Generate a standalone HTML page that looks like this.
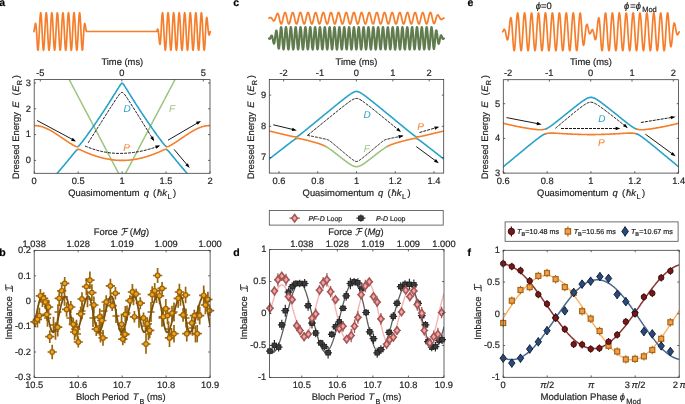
<!DOCTYPE html>
<html><head><meta charset="utf-8"><style>
html,body{margin:0;padding:0;background:#fff;overflow:hidden}
svg{display:block;will-change:transform}
text{font-family:"Liberation Sans",sans-serif;text-rendering:geometricPrecision}
</style></head><body>
<svg width="685" height="404" viewBox="0 0 685 404" font-family='"Liberation Sans", sans-serif'>
<rect width="685" height="404" fill="#fff"/>
<text x="-0.8" y="5.6" font-size="10.5" text-anchor="start" fill="#000" font-weight="bold"  stroke="#000" stroke-width="0.2">a</text>
<text x="233.2" y="5.6" font-size="10.5" text-anchor="start" fill="#000" font-weight="bold"  stroke="#000" stroke-width="0.2">c</text>
<text x="467.6" y="5.6" font-size="10.5" text-anchor="start" fill="#000" font-weight="bold"  stroke="#000" stroke-width="0.2">e</text>
<polyline points="33.8,31.5 34,31.1 34.3,30.1 34.5,28.6 34.8,26.9 35,25.2 35.3,23.9 35.5,23.3 35.8,23.7 36,25.1 36.3,27.6 36.5,31.1 36.8,35.3 37,39.9 37.3,44.5 37.5,48.3 37.8,50 38,50.2 38.3,49 38.5,46.4 38.8,42.5 39,37.9 39.3,32.7 39.5,27.4 39.8,22.4 40,18.2 40.3,15 40.5,13.2 40.8,12.7 41,13.8 41.3,16.3 41.5,20 41.8,24.6 42,29.7 42.3,35 42.5,40 42.8,44.4 43,47.7 43.3,49.7 43.5,50.3 43.8,49.4 44,47 44.3,43.5 44.5,39 44.8,33.8 45,28.5 45.3,23.5 45.5,19.1 45.8,15.6 46,13.4 46.3,12.7 46.5,13.5 46.8,15.6 47,19.1 47.3,23.5 47.5,28.6 47.8,33.9 48,39 48.3,43.5 48.5,47.1 48.8,49.4 49,50.3 49.3,49.7 49.5,47.7 49.8,44.4 50,40 50.3,35 50.5,29.7 50.8,24.6 51,20 51.3,16.3 51.5,13.8 51.8,12.7 52,13.2 52.3,15 52.5,18.2 52.8,22.5 53,27.4 53.3,32.7 53.5,37.9 53.8,42.6 54,46.4 54.3,49 54.5,50.2 54.8,50 55,48.2 55.3,45.2 55.5,41 55.8,36.2 56,30.9 56.3,25.7 56.5,20.9 56.8,17 57,14.2 57.3,12.8 57.5,12.9 57.8,14.5 58,17.4 58.3,21.4 58.5,26.3 58.8,31.5 59,36.8 59.3,41.6 59.5,45.6 59.8,48.5 60,50.1 60.3,50.1 60.5,48.7 60.8,46 61,42 61.3,37.3 61.5,32.1 61.8,26.8 62,21.9 62.3,17.8 62.5,14.7 62.8,13 63,12.8 63.3,14 63.5,16.7 63.8,20.5 64,25.2 64.3,30.4 64.5,35.6 64.8,40.6 65,44.8 65.3,48 65.5,49.9 65.8,50.3 66,49.2 66.3,46.7 66.5,43 66.8,38.4 67,33.2 67.3,27.9 67.5,22.9 67.8,18.6 68,15.3 68.3,13.3 68.5,12.7 68.8,13.6 69,16 69.3,19.5 69.5,24.1 69.8,29.2 70,34.5 70.3,39.5 70.5,44 70.8,47.4 71,49.6 71.3,50.3 71.5,49.5 71.8,47.4 72,43.9 72.3,39.5 72.5,34.4 72.8,29.1 73,24 73.3,19.5 73.5,15.9 73.8,13.6 74,12.7 74.3,13.3 74.5,15.3 74.8,18.7 75,23 75.3,28 75.5,33.3 75.8,38.5 76,43.1 76.3,46.7 76.5,49.2 76.8,50.3 77,49.8 77.3,48 77.5,44.8 77.8,40.5 78,35.6 78.3,30.3 78.5,25.1 78.8,20.4 79,16.6 79.3,14 79.5,12.8 79.8,13 80,14.8 80.3,17.8 80.5,22 80.8,26.9 81,32.1 81.3,37.4 81.5,42.1 81.8,46 82,48.8 82.3,50.2 82.5,50.1 82.8,48.5 83,44.8 83.3,40.3 83.5,35.7 83.8,31.5 84,27.9 84.3,25.4 84.5,23.9 84.8,23.5 85,24 85.3,25.2 85.5,26.8 85.8,28.6 86,30.1 86.3,31.1 86.5,31.5 156.8,31.5 157,30.5 157.3,29.5 157.5,29 157.8,29 158,29.6 158.3,30.9 158.5,32.9 158.8,35.3 159,38 159.3,40.5 159.5,42.6 159.8,44 160,44.4 160.3,43.5 160.5,41.4 160.8,38.1 161,33.7 161.3,28.5 161.5,23.4 161.8,19 162,15.6 162.3,13.4 162.5,12.7 162.8,13.5 163,15.6 163.3,19.1 163.5,23.5 163.8,28.6 164,33.9 164.3,39 164.5,43.5 164.8,47 165,49.4 165.3,50.3 165.5,49.7 165.8,47.7 166,44.4 166.3,40.1 166.5,35.1 166.8,29.8 167,24.6 167.3,20 167.5,16.3 167.8,13.8 168,12.7 168.3,13.1 168.5,15 168.8,18.2 169,22.4 169.3,27.3 169.5,32.6 169.8,37.8 170,42.5 170.3,46.3 170.5,48.9 170.8,50.2 171,50 171.3,48.3 171.5,45.3 171.8,41.2 172,36.3 172.3,31.1 172.5,25.8 172.8,21.1 173,17.1 173.3,14.3 173.5,12.9 173.8,12.9 174,14.4 174.3,17.3 174.5,21.3 174.8,26.1 175,31.3 175.3,36.6 175.5,41.4 175.8,45.5 176,48.4 176.3,50 176.5,50.2 176.8,48.8 177,46.1 177.3,42.3 177.5,37.5 177.8,32.3 178,27.1 178.3,22.1 178.5,18 178.8,14.9 179,13.1 179.3,12.8 179.5,13.9 179.8,16.5 180,20.2 180.3,24.9 180.5,30 180.8,35.3 181,40.3 181.3,44.6 181.5,47.8 181.8,49.8 182,50.3 182.3,49.3 182.5,46.9 182.8,43.3 183,38.7 183.3,33.6 183.5,28.3 183.7,23.3 184,18.9 184.2,15.5 184.5,13.4 184.7,12.7 185,13.5 185.2,15.7 185.5,19.2 185.7,23.7 186,28.7 186.2,34 186.5,39.1 186.7,43.6 187,47.1 187.2,49.4 187.5,50.3 187.7,49.7 188,47.6 188.2,44.3 188.5,39.9 188.7,34.9 189,29.6 189.2,24.5 189.5,19.9 189.7,16.2 190,13.8 190.2,12.7 190.5,13.2 190.7,15.1 191,18.3 191.2,22.5 191.5,27.5 191.7,32.8 192,37.9 192.2,42.6 192.5,46.4 192.7,49 193,50.2 193.2,50 193.5,48.2 193.7,45.2 194,41 194.2,36.1 194.5,30.9 194.7,25.7 195,20.9 195.2,17 195.5,14.2 195.7,12.8 196,12.9 196.2,14.5 196.5,17.4 196.7,21.4 197,26.2 197.2,31.5 197.5,36.7 197.7,41.6 198,45.6 198.2,48.5 198.5,50.1 198.7,50.2 199,48.8 199.2,46 199.5,42.1 199.7,37.4 200,32.2 200.2,26.9 200.5,22 200.7,17.9 201,14.8 201.2,13 201.5,12.8 201.7,14 202,16.6 202.2,20.4 202.5,25 202.7,30.2 203,35.5 203.2,40.4 203.5,44.7 203.7,47.9 204,49.8 204.2,50.3 204.5,49.2 204.7,46.8 205,43.1 205.2,38.6 205.5,33.4 205.7,28.2 206,23.6 206.2,20.2 206.5,18.1 206.7,17.4 207,18 207.2,19.6 207.5,21.9 207.7,24.8 208,27.7 208.2,30.4 208.5,32.6 208.7,34.1 209,34.9 209.2,35 209.5,34.5 209.7,33.6 210,32.5 210.2,31.5" fill="none" stroke="#f67e2a" stroke-width="1.7" stroke-linejoin="round" stroke-linecap="round" />
<clipPath id="c1"><rect x="34.2" y="79.6" width="175.8" height="93.7"/></clipPath>
<polyline points="65.6,72.8 65.8,73.2 66.1,73.6 66.3,74 66.5,74.4 66.7,74.8 66.9,75.3 67.2,75.7 67.4,76.1 67.6,76.5 67.8,76.9 68,77.3 68.3,77.8 68.5,78.2 68.7,78.6 68.9,79 69.1,79.4 69.4,79.9 69.6,80.3 69.8,80.7 70,81.1 70.2,81.5 70.5,81.9 70.7,82.4 70.9,82.8 71.1,83.2 71.3,83.6 71.6,84 71.8,84.4 72,84.9 72.2,85.3 72.4,85.7 72.7,86.1 72.9,86.5 73.1,86.9 73.3,87.4 73.5,87.8 73.8,88.2 74,88.6 74.2,89 74.4,89.5 74.6,89.9 74.9,90.3 75.1,90.7 75.3,91.1 75.5,91.5 75.7,92 76,92.4 76.2,92.8 76.4,93.2 76.6,93.6 76.8,94 77.1,94.5 77.3,94.9 77.5,95.3 77.7,95.7 77.9,96.1 78.2,96.5 78.4,97 78.6,97.4 78.8,97.8 79,98.2 79.2,98.6 79.5,99 79.7,99.5 79.9,99.9 80.1,100.3 80.3,100.7 80.6,101.1 80.8,101.6 81,102 81.2,102.4 81.4,102.8 81.7,103.2 81.9,103.6 82.1,104.1 82.3,104.5 82.5,104.9 82.8,105.3 83,105.7 83.2,106.1 83.4,106.6 83.6,107 83.9,107.4 84.1,107.8 84.3,108.2 84.5,108.6 84.7,109.1 85,109.5 85.2,109.9 85.4,110.3 85.6,110.7 85.8,111.2 86.1,111.6 86.3,112 86.5,112.4 86.7,112.8 86.9,113.2 87.2,113.7 87.4,114.1 87.6,114.5 87.8,114.9 88,115.3 88.3,115.7 88.5,116.2 88.7,116.6 88.9,117 89.1,117.4 89.4,117.8 89.6,118.2 89.8,118.7 90,119.1 90.2,119.5 90.5,119.9 90.7,120.3 90.9,120.7 91.1,121.2 91.3,121.6 91.6,122 91.8,122.4 92,122.8 92.2,123.3 92.4,123.7 92.7,124.1 92.9,124.5 93.1,124.9 93.3,125.3 93.5,125.8 93.8,126.2 94,126.6 94.2,127 94.4,127.4 94.6,127.8 94.9,128.3 95.1,128.7 95.3,129.1 95.5,129.5 95.7,129.9 95.9,130.3 96.2,130.8 96.4,131.2 96.6,131.6 96.8,132 97,132.4 97.3,132.9 97.5,133.3 97.7,133.7 97.9,134.1 98.1,134.5 98.4,134.9 98.6,135.4 98.8,135.8 99,136.2 99.2,136.6 99.5,137 99.7,137.4 99.9,137.9 100.1,138.3 100.3,138.7 100.6,139.1 100.8,139.5 101,139.9 101.2,140.4 101.4,140.8 101.7,141.2 101.9,141.6 102.1,142 102.3,142.4 102.5,142.9 102.8,143.3 103,143.7 103.2,144.1 103.4,144.5 103.6,145 103.9,145.4 104.1,145.8 104.3,146.2 104.5,146.6 104.7,147 105,147.5 105.2,147.9 105.4,148.3 105.6,148.7 105.8,149.1 106.1,149.5 106.3,150 106.5,150.4 106.7,150.8 106.9,151.2 107.2,151.6 107.4,152 107.6,152.5 107.8,152.9 108,153.3 108.3,153.7 108.5,154.1 108.7,154.6 108.9,155 109.1,155.4 109.4,155.8 109.6,156.2 109.8,156.6 110,157.1 110.2,157.5 110.5,157.9 110.7,158.3 110.9,158.7 111.1,159.1 111.3,159.6 111.6,160 111.8,160.4 112,160.8 112.2,161.2 112.4,161.6 112.7,162.1 112.9,162.5 113.1,162.9 113.3,163.3 113.5,163.7 113.7,164.2 114,164.6 114.2,165 114.4,165.4 114.6,165.8 114.8,166.2 115.1,166.7 115.3,167.1 115.5,167.5 115.7,167.9 115.9,168.3 116.2,168.7 116.4,169.2 116.6,169.6 116.8,170 117,170.4 117.3,170.8 117.5,171.2 117.7,171.7 117.9,172.1 118.1,172.5 118.4,172.9 118.6,173.3 118.8,173.7 119,174.2 119.2,174.6 119.5,175 119.7,175.4 119.9,175.8 120.1,176.3 120.3,176.7 120.6,177.1 120.8,177.5 121,177.9 121.2,178.3 121.4,178.8 121.7,179.2 121.9,179.6" fill="none" stroke="#9cc47e" stroke-width="1.5" stroke-linejoin="round" stroke-linecap="round" clip-path="url(#c1)"/>
<polyline points="122.1,180 122.3,179.6 122.5,179.2 122.8,178.8 123,178.3 123.2,177.9 123.4,177.5 123.6,177.1 123.9,176.7 124.1,176.3 124.3,175.8 124.5,175.4 124.7,175 125,174.6 125.2,174.2 125.4,173.7 125.6,173.3 125.8,172.9 126.1,172.5 126.3,172.1 126.5,171.7 126.7,171.2 126.9,170.8 127.2,170.4 127.4,170 127.6,169.6 127.8,169.2 128,168.7 128.3,168.3 128.5,167.9 128.7,167.5 128.9,167.1 129.1,166.7 129.4,166.2 129.6,165.8 129.8,165.4 130,165 130.2,164.6 130.5,164.2 130.7,163.7 130.9,163.3 131.1,162.9 131.3,162.5 131.5,162.1 131.8,161.6 132,161.2 132.2,160.8 132.4,160.4 132.6,160 132.9,159.6 133.1,159.1 133.3,158.7 133.5,158.3 133.7,157.9 134,157.5 134.2,157.1 134.4,156.6 134.6,156.2 134.8,155.8 135.1,155.4 135.3,155 135.5,154.6 135.7,154.1 135.9,153.7 136.2,153.3 136.4,152.9 136.6,152.5 136.8,152 137,151.6 137.3,151.2 137.5,150.8 137.7,150.4 137.9,150 138.1,149.5 138.4,149.1 138.6,148.7 138.8,148.3 139,147.9 139.2,147.5 139.5,147 139.7,146.6 139.9,146.2 140.1,145.8 140.3,145.4 140.6,145 140.8,144.5 141,144.1 141.2,143.7 141.4,143.3 141.7,142.9 141.9,142.4 142.1,142 142.3,141.6 142.5,141.2 142.8,140.8 143,140.4 143.2,139.9 143.4,139.5 143.6,139.1 143.9,138.7 144.1,138.3 144.3,137.9 144.5,137.4 144.7,137 145,136.6 145.2,136.2 145.4,135.8 145.6,135.4 145.8,134.9 146.1,134.5 146.3,134.1 146.5,133.7 146.7,133.3 146.9,132.9 147.2,132.4 147.4,132 147.6,131.6 147.8,131.2 148,130.8 148.3,130.3 148.5,129.9 148.7,129.5 148.9,129.1 149.1,128.7 149.3,128.3 149.6,127.8 149.8,127.4 150,127 150.2,126.6 150.4,126.2 150.7,125.8 150.9,125.3 151.1,124.9 151.3,124.5 151.5,124.1 151.8,123.7 152,123.3 152.2,122.8 152.4,122.4 152.6,122 152.9,121.6 153.1,121.2 153.3,120.7 153.5,120.3 153.7,119.9 154,119.5 154.2,119.1 154.4,118.7 154.6,118.2 154.8,117.8 155.1,117.4 155.3,117 155.5,116.6 155.7,116.2 155.9,115.7 156.2,115.3 156.4,114.9 156.6,114.5 156.8,114.1 157,113.7 157.3,113.2 157.5,112.8 157.7,112.4 157.9,112 158.1,111.6 158.4,111.2 158.6,110.7 158.8,110.3 159,109.9 159.2,109.5 159.5,109.1 159.7,108.6 159.9,108.2 160.1,107.8 160.3,107.4 160.6,107 160.8,106.6 161,106.1 161.2,105.7 161.4,105.3 161.7,104.9 161.9,104.5 162.1,104.1 162.3,103.6 162.5,103.2 162.8,102.8 163,102.4 163.2,102 163.4,101.6 163.6,101.1 163.9,100.7 164.1,100.3 164.3,99.9 164.5,99.5 164.7,99 165,98.6 165.2,98.2 165.4,97.8 165.6,97.4 165.8,97 166.1,96.5 166.3,96.1 166.5,95.7 166.7,95.3 166.9,94.9 167.1,94.5 167.4,94 167.6,93.6 167.8,93.2 168,92.8 168.2,92.4 168.5,92 168.7,91.5 168.9,91.1 169.1,90.7 169.3,90.3 169.6,89.9 169.8,89.5 170,89 170.2,88.6 170.4,88.2 170.7,87.8 170.9,87.4 171.1,86.9 171.3,86.5 171.5,86.1 171.8,85.7 172,85.3 172.2,84.9 172.4,84.4 172.6,84 172.9,83.6 173.1,83.2 173.3,82.8 173.5,82.4 173.7,81.9 174,81.5 174.2,81.1 174.4,80.7 174.6,80.3 174.8,79.9 175.1,79.4 175.3,79 175.5,78.6 175.7,78.2 175.9,77.8 176.2,77.3 176.4,76.9 176.6,76.5 176.8,76.1 177,75.7 177.3,75.3 177.5,74.8 177.7,74.4 177.9,74 178.1,73.6 178.4,73.2 178.6,72.8" fill="none" stroke="#9cc47e" stroke-width="1.5" stroke-linejoin="round" stroke-linecap="round" clip-path="url(#c1)"/>
<polyline points="77.9,146.5 78.2,146.4 78.4,146.2 78.6,146.1 78.8,145.9 79,145.7 79.2,145.4 79.5,145.2 79.7,145 79.9,144.7 80.1,144.4 80.3,144.2 80.6,143.9 80.8,143.6 81,143.4 81.2,143.1 81.4,142.8 81.7,142.5 81.9,142.2 82.1,142 82.3,141.7 82.5,141.4 82.8,141.1 83,140.8 83.2,140.5 83.4,140.2 83.6,139.9 83.9,139.6 84.1,139.3 84.3,139.1 84.5,138.8 84.7,138.5 85,138.2 85.2,137.9 85.4,137.6 85.6,137.3 85.8,137 86.1,136.7 86.3,136.4 86.5,136.1 86.7,135.8 86.9,135.5 87.2,135.2 87.4,134.9 87.6,134.6 87.8,134.2 88,133.9 88.3,133.6 88.5,133.3 88.7,133 88.9,132.7 89.1,132.4 89.4,132.1 89.6,131.8 89.8,131.5 90,131.2 90.2,130.9 90.5,130.6 90.7,130.2 90.9,129.9 91.1,129.6 91.3,129.3 91.6,129 91.8,128.7 92,128.4 92.2,128.1 92.4,127.7 92.7,127.4 92.9,127.1 93.1,126.8 93.3,126.5 93.5,126.2 93.8,125.9 94,125.5 94.2,125.2 94.4,124.9 94.6,124.6 94.9,124.3 95.1,123.9 95.3,123.6 95.5,123.3 95.7,123 95.9,122.7 96.2,122.3 96.4,122 96.6,121.7 96.8,121.4 97,121.1 97.3,120.7 97.5,120.4 97.7,120.1 97.9,119.8 98.1,119.4 98.4,119.1 98.6,118.8 98.8,118.5 99,118.1 99.2,117.8 99.5,117.5 99.7,117.1 99.9,116.8 100.1,116.5 100.3,116.2 100.6,115.8 100.8,115.5 101,115.2 101.2,114.8 101.4,114.5 101.7,114.2 101.9,113.8 102.1,113.5 102.3,113.2 102.5,112.8 102.8,112.5 103,112.2 103.2,111.8 103.4,111.5 103.6,111.2 103.9,110.8 104.1,110.5 104.3,110.2 104.5,109.8 104.7,109.5 105,109.2 105.2,108.8 105.4,108.5 105.6,108.1 105.8,107.8 106.1,107.5 106.3,107.1 106.5,106.8 106.7,106.4 106.9,106.1 107.2,105.8 107.4,105.4 107.6,105.1 107.8,104.7 108,104.4 108.3,104 108.5,103.7 108.7,103.4 108.9,103 109.1,102.7 109.4,102.3 109.6,102 109.8,101.6 110,101.3 110.2,100.9 110.5,100.6 110.7,100.2 110.9,99.9 111.1,99.5 111.3,99.2 111.6,98.9 111.8,98.5 112,98.2 112.2,97.8 112.4,97.5 112.7,97.1 112.9,96.8 113.1,96.4 113.3,96 113.5,95.7 113.7,95.3 114,95 114.2,94.6 114.4,94.3 114.6,93.9 114.8,93.6 115.1,93.2 115.3,92.9 115.5,92.5 115.7,92.2 115.9,91.8 116.2,91.5 116.4,91.1 116.6,90.8 116.8,90.4 117,90 117.3,89.7 117.5,89.3 117.7,89 117.9,88.6 118.1,88.3 118.4,87.9 118.6,87.6 118.8,87.2 119,86.9 119.2,86.6 119.5,86.2 119.7,85.9 119.9,85.5 120.1,85.2 120.3,84.9 120.6,84.6 120.8,84.3 121,84 121.2,83.8 121.4,83.5 121.7,83.4 121.9,83.3 122.1,83.2 122.3,83.3 122.5,83.4 122.8,83.5 123,83.8 123.2,84 123.4,84.3 123.6,84.6 123.9,84.9 124.1,85.2 124.3,85.5 124.5,85.9 124.7,86.2 125,86.6 125.2,86.9 125.4,87.2 125.6,87.6 125.8,87.9 126.1,88.3 126.3,88.6 126.5,89 126.7,89.3 126.9,89.7 127.2,90 127.4,90.4 127.6,90.8 127.8,91.1 128,91.5 128.3,91.8 128.5,92.2 128.7,92.5 128.9,92.9 129.1,93.2 129.4,93.6 129.6,93.9 129.8,94.3 130,94.6 130.2,95 130.5,95.3 130.7,95.7 130.9,96 131.1,96.4 131.3,96.8 131.5,97.1 131.8,97.5 132,97.8 132.2,98.2 132.4,98.5 132.6,98.9 132.9,99.2 133.1,99.5 133.3,99.9 133.5,100.2 133.7,100.6 134,100.9 134.2,101.3 134.4,101.6 134.6,102 134.8,102.3 135.1,102.7 135.3,103 135.5,103.4 135.7,103.7 135.9,104 136.2,104.4 136.4,104.7 136.6,105.1 136.8,105.4 137,105.8 137.3,106.1 137.5,106.4 137.7,106.8 137.9,107.1 138.1,107.5 138.4,107.8 138.6,108.1 138.8,108.5 139,108.8 139.2,109.2 139.5,109.5 139.7,109.8 139.9,110.2 140.1,110.5 140.3,110.8 140.6,111.2 140.8,111.5 141,111.8 141.2,112.2 141.4,112.5 141.7,112.8 141.9,113.2 142.1,113.5 142.3,113.8 142.5,114.2 142.8,114.5 143,114.8 143.2,115.2 143.4,115.5 143.6,115.8 143.9,116.2 144.1,116.5 144.3,116.8 144.5,117.1 144.7,117.5 145,117.8 145.2,118.1 145.4,118.5 145.6,118.8 145.8,119.1 146.1,119.4 146.3,119.8 146.5,120.1 146.7,120.4 146.9,120.7 147.2,121.1 147.4,121.4 147.6,121.7 147.8,122 148,122.3 148.3,122.7 148.5,123 148.7,123.3 148.9,123.6 149.1,123.9 149.3,124.3 149.6,124.6 149.8,124.9 150,125.2 150.2,125.5 150.4,125.9 150.7,126.2 150.9,126.5 151.1,126.8 151.3,127.1 151.5,127.4 151.8,127.7 152,128.1 152.2,128.4 152.4,128.7 152.6,129 152.9,129.3 153.1,129.6 153.3,129.9 153.5,130.2 153.7,130.6 154,130.9 154.2,131.2 154.4,131.5 154.6,131.8 154.8,132.1 155.1,132.4 155.3,132.7 155.5,133 155.7,133.3 155.9,133.6 156.2,133.9 156.4,134.2 156.6,134.6 156.8,134.9 157,135.2 157.3,135.5 157.5,135.8 157.7,136.1 157.9,136.4 158.1,136.7 158.4,137 158.6,137.3 158.8,137.6 159,137.9 159.2,138.2 159.5,138.5 159.7,138.8 159.9,139.1 160.1,139.3 160.3,139.6 160.6,139.9 160.8,140.2 161,140.5 161.2,140.8 161.4,141.1 161.7,141.4 161.9,141.7 162.1,142 162.3,142.2 162.5,142.5 162.8,142.8 163,143.1 163.2,143.4 163.4,143.6 163.6,143.9 163.9,144.2 164.1,144.4 164.3,144.7 164.5,145 164.7,145.2 165,145.4 165.2,145.7 165.4,145.9 165.6,146.1 165.8,146.2 166.1,146.4 166.3,146.5 166.5,146.6" fill="none" stroke="#26a1c9" stroke-width="1.6" stroke-linejoin="round" stroke-linecap="round" clip-path="url(#c1)"/>
<polyline points="34.2,197.2 34.4,197 34.6,196.8 34.9,196.6 35.1,196.4 35.3,196.2 35.5,195.9 35.7,195.7 36,195.5 36.2,195.3 36.4,195.1 36.6,194.9 36.8,194.7 37.1,194.5 37.3,194.2 37.5,194 37.7,193.8 37.9,193.6 38.2,193.4 38.4,193.2 38.6,193 38.8,192.7 39,192.5 39.3,192.3 39.5,192.1 39.7,191.9 39.9,191.7 40.1,191.4 40.4,191.2 40.6,191 40.8,190.8 41,190.6 41.2,190.3 41.5,190.1 41.7,189.9 41.9,189.7 42.1,189.5 42.3,189.2 42.6,189 42.8,188.8 43,188.6 43.2,188.3 43.4,188.1 43.6,187.9 43.9,187.7 44.1,187.4 44.3,187.2 44.5,187 44.7,186.8 45,186.5 45.2,186.3 45.4,186.1 45.6,185.8 45.8,185.6 46.1,185.4 46.3,185.2 46.5,184.9 46.7,184.7 46.9,184.5 47.2,184.2 47.4,184 47.6,183.8 47.8,183.5 48,183.3 48.3,183.1 48.5,182.8 48.7,182.6 48.9,182.4 49.1,182.1 49.4,181.9 49.6,181.7 49.8,181.4 50,181.2 50.2,181 50.5,180.7 50.7,180.5 50.9,180.2 51.1,180 51.3,179.8 51.6,179.5 51.8,179.3 52,179 52.2,178.8 52.4,178.6 52.7,178.3 52.9,178.1 53.1,177.8 53.3,177.6 53.5,177.3 53.8,177.1 54,176.9 54.2,176.6 54.4,176.4 54.6,176.1 54.9,175.9 55.1,175.6 55.3,175.4 55.5,175.1 55.7,174.9 56,174.6 56.2,174.4 56.4,174.2 56.6,173.9 56.8,173.7 57.1,173.4 57.3,173.2 57.5,172.9 57.7,172.7 57.9,172.4 58.2,172.2 58.4,171.9 58.6,171.6 58.8,171.4 59,171.1 59.3,170.9 59.5,170.6 59.7,170.4 59.9,170.1 60.1,169.9 60.4,169.6 60.6,169.4 60.8,169.1 61,168.8 61.2,168.6 61.4,168.3 61.7,168.1 61.9,167.8 62.1,167.6 62.3,167.3 62.5,167 62.8,166.8 63,166.5 63.2,166.3 63.4,166 63.6,165.7 63.9,165.5 64.1,165.2 64.3,165 64.5,164.7 64.7,164.4 65,164.2 65.2,163.9 65.4,163.6 65.6,163.4 65.8,163.1 66.1,162.8 66.3,162.6 66.5,162.3 66.7,162 66.9,161.8 67.2,161.5 67.4,161.2 67.6,161 67.8,160.7 68,160.4 68.3,160.2 68.5,159.9 68.7,159.6 68.9,159.4 69.1,159.1 69.4,158.8 69.6,158.6 69.8,158.3 70,158 70.2,157.8 70.5,157.5 70.7,157.2 70.9,156.9 71.1,156.7 71.3,156.4 71.6,156.1 71.8,155.9 72,155.6 72.2,155.3 72.4,155 72.7,154.8 72.9,154.5 73.1,154.2 73.3,154 73.5,153.7 73.8,153.4 74,153.2 74.2,152.9 74.4,152.6 74.6,152.4 74.9,152.1 75.1,151.9 75.3,151.6 75.5,151.3 75.7,151.1 76,150.9 76.2,150.6 76.4,150.4 76.6,150.2 76.8,150 77.1,149.8 77.3,149.7 77.5,149.6 77.7,149.5 77.9,149.4" fill="none" stroke="#26a1c9" stroke-width="1.6" stroke-linejoin="round" stroke-linecap="round" clip-path="url(#c1)"/>
<polyline points="166.5,149.5 166.7,149.6 166.9,149.7 167.1,149.8 167.4,150 167.6,150.2 167.8,150.4 168,150.6 168.2,150.9 168.5,151.1 168.7,151.3 168.9,151.6 169.1,151.9 169.3,152.1 169.6,152.4 169.8,152.6 170,152.9 170.2,153.2 170.4,153.4 170.7,153.7 170.9,154 171.1,154.2 171.3,154.5 171.5,154.8 171.8,155 172,155.3 172.2,155.6 172.4,155.9 172.6,156.1 172.9,156.4 173.1,156.7 173.3,156.9 173.5,157.2 173.7,157.5 174,157.8 174.2,158 174.4,158.3 174.6,158.6 174.8,158.8 175.1,159.1 175.3,159.4 175.5,159.6 175.7,159.9 175.9,160.2 176.2,160.4 176.4,160.7 176.6,161 176.8,161.2 177,161.5 177.3,161.8 177.5,162 177.7,162.3 177.9,162.6 178.1,162.8 178.4,163.1 178.6,163.4 178.8,163.6 179,163.9 179.2,164.2 179.5,164.4 179.7,164.7 179.9,165 180.1,165.2 180.3,165.5 180.6,165.7 180.8,166 181,166.3 181.2,166.5 181.4,166.8 181.7,167 181.9,167.3 182.1,167.6 182.3,167.8 182.5,168.1 182.8,168.3 183,168.6 183.2,168.8 183.4,169.1 183.6,169.4 183.8,169.6 184.1,169.9 184.3,170.1 184.5,170.4 184.7,170.6 184.9,170.9 185.2,171.1 185.4,171.4 185.6,171.6 185.8,171.9 186,172.2 186.3,172.4 186.5,172.7 186.7,172.9 186.9,173.2 187.1,173.4 187.4,173.7 187.6,173.9 187.8,174.2 188,174.4 188.2,174.6 188.5,174.9 188.7,175.1 188.9,175.4 189.1,175.6 189.3,175.9 189.6,176.1 189.8,176.4 190,176.6 190.2,176.9 190.4,177.1 190.7,177.3 190.9,177.6 191.1,177.8 191.3,178.1 191.5,178.3 191.8,178.6 192,178.8 192.2,179 192.4,179.3 192.6,179.5 192.9,179.8 193.1,180 193.3,180.2 193.5,180.5 193.7,180.7 194,181 194.2,181.2 194.4,181.4 194.6,181.7 194.8,181.9 195.1,182.1 195.3,182.4 195.5,182.6 195.7,182.8 195.9,183.1 196.2,183.3 196.4,183.5 196.6,183.8 196.8,184 197,184.2 197.3,184.5 197.5,184.7 197.7,184.9 197.9,185.2 198.1,185.4 198.4,185.6 198.6,185.8 198.8,186.1 199,186.3 199.2,186.5 199.5,186.8 199.7,187 199.9,187.2 200.1,187.4 200.3,187.7 200.6,187.9 200.8,188.1 201,188.3 201.2,188.6 201.4,188.8 201.6,189 201.9,189.2 202.1,189.5 202.3,189.7 202.5,189.9 202.7,190.1 203,190.3 203.2,190.6 203.4,190.8 203.6,191 203.8,191.2 204.1,191.4 204.3,191.7 204.5,191.9 204.7,192.1 204.9,192.3 205.2,192.5 205.4,192.7 205.6,193 205.8,193.2 206,193.4 206.3,193.6 206.5,193.8 206.7,194 206.9,194.2 207.1,194.5 207.4,194.7 207.6,194.9 207.8,195.1 208,195.3 208.2,195.5 208.5,195.7 208.7,195.9 208.9,196.2 209.1,196.4 209.3,196.6 209.6,196.8 209.8,197 210,197.2" fill="none" stroke="#26a1c9" stroke-width="1.6" stroke-linejoin="round" stroke-linecap="round" clip-path="url(#c1)"/>
<polyline points="34.2,125.5 34.4,125.5 34.6,125.5 34.9,125.6 35.1,125.6 35.3,125.6 35.5,125.6 35.7,125.6 36,125.6 36.2,125.6 36.4,125.6 36.6,125.7 36.8,125.7 37.1,125.7 37.3,125.7 37.5,125.8 37.7,125.8 37.9,125.8 38.2,125.9 38.4,125.9 38.6,125.9 38.8,126 39,126 39.3,126.1 39.5,126.1 39.7,126.1 39.9,126.2 40.1,126.2 40.4,126.3 40.6,126.4 40.8,126.4 41,126.5 41.2,126.5 41.5,126.6 41.7,126.6 41.9,126.7 42.1,126.8 42.3,126.8 42.6,126.9 42.8,127 43,127.1 43.2,127.1 43.4,127.2 43.6,127.3 43.9,127.4 44.1,127.5 44.3,127.5 44.5,127.6 44.7,127.7 45,127.8 45.2,127.9 45.4,128 45.6,128.1 45.8,128.2 46.1,128.3 46.3,128.4 46.5,128.5 46.7,128.6 46.9,128.7 47.2,128.8 47.4,128.9 47.6,129 47.8,129.1 48,129.2 48.3,129.3 48.5,129.4 48.7,129.5 48.9,129.6 49.1,129.7 49.4,129.9 49.6,130 49.8,130.1 50,130.2 50.2,130.3 50.5,130.5 50.7,130.6 50.9,130.7 51.1,130.8 51.3,130.9 51.6,131.1 51.8,131.2 52,131.3 52.2,131.5 52.4,131.6 52.7,131.7 52.9,131.9 53.1,132 53.3,132.1 53.5,132.3 53.8,132.4 54,132.5 54.2,132.7 54.4,132.8 54.6,132.9 54.9,133.1 55.1,133.2 55.3,133.4 55.5,133.5 55.7,133.6 56,133.8 56.2,133.9 56.4,134.1 56.6,134.2 56.8,134.4 57.1,134.5 57.3,134.6 57.5,134.8 57.7,134.9 57.9,135.1 58.2,135.2 58.4,135.4 58.6,135.5 58.8,135.7 59,135.8 59.3,136 59.5,136.1 59.7,136.3 59.9,136.4 60.1,136.6 60.4,136.7 60.6,136.9 60.8,137 61,137.2 61.2,137.3 61.4,137.5 61.7,137.6 61.9,137.8 62.1,137.9 62.3,138.1 62.5,138.2 62.8,138.4 63,138.5 63.2,138.7 63.4,138.8 63.6,139 63.9,139.1 64.1,139.3 64.3,139.4 64.5,139.6 64.7,139.7 65,139.9 65.2,140 65.4,140.2 65.6,140.3 65.8,140.5 66.1,140.6 66.3,140.8 66.5,140.9 66.7,141 66.9,141.2 67.2,141.3 67.4,141.5 67.6,141.6 67.8,141.8 68,141.9 68.3,142.1 68.5,142.2 68.7,142.4 68.9,142.5 69.1,142.6 69.4,142.8 69.6,142.9 69.8,143.1 70,143.2 70.2,143.3 70.5,143.5 70.7,143.6 70.9,143.8 71.1,143.9 71.3,144 71.6,144.2 71.8,144.3 72,144.4 72.2,144.6 72.4,144.7 72.7,144.8 72.9,144.9 73.1,145.1 73.3,145.2 73.5,145.3 73.8,145.4 74,145.6 74.2,145.7 74.4,145.8 74.6,145.9 74.9,146 75.1,146.1 75.3,146.2 75.5,146.3 75.7,146.4 76,146.5 76.2,146.6 76.4,146.6 76.6,146.7 76.8,146.7 77.1,146.7 77.3,146.7 77.5,146.7 77.7,146.6 77.9,146.5" fill="none" stroke="#f67e2a" stroke-width="1.6" stroke-linejoin="round" stroke-linecap="round" clip-path="url(#c1)"/>
<polyline points="166.5,146.6 166.7,146.7 166.9,146.7 167.1,146.7 167.4,146.7 167.6,146.7 167.8,146.6 168,146.6 168.2,146.5 168.5,146.4 168.7,146.3 168.9,146.2 169.1,146.1 169.3,146 169.6,145.9 169.8,145.8 170,145.7 170.2,145.6 170.4,145.4 170.7,145.3 170.9,145.2 171.1,145.1 171.3,144.9 171.5,144.8 171.8,144.7 172,144.6 172.2,144.4 172.4,144.3 172.6,144.2 172.9,144 173.1,143.9 173.3,143.8 173.5,143.6 173.7,143.5 174,143.3 174.2,143.2 174.4,143.1 174.6,142.9 174.8,142.8 175.1,142.6 175.3,142.5 175.5,142.4 175.7,142.2 175.9,142.1 176.2,141.9 176.4,141.8 176.6,141.6 176.8,141.5 177,141.3 177.3,141.2 177.5,141 177.7,140.9 177.9,140.8 178.1,140.6 178.4,140.5 178.6,140.3 178.8,140.2 179,140 179.2,139.9 179.5,139.7 179.7,139.6 179.9,139.4 180.1,139.3 180.3,139.1 180.6,139 180.8,138.8 181,138.7 181.2,138.5 181.4,138.4 181.7,138.2 181.9,138.1 182.1,137.9 182.3,137.8 182.5,137.6 182.8,137.5 183,137.3 183.2,137.2 183.4,137 183.6,136.9 183.8,136.7 184.1,136.6 184.3,136.4 184.5,136.3 184.7,136.1 184.9,136 185.2,135.8 185.4,135.7 185.6,135.5 185.8,135.4 186,135.2 186.3,135.1 186.5,134.9 186.7,134.8 186.9,134.6 187.1,134.5 187.4,134.4 187.6,134.2 187.8,134.1 188,133.9 188.2,133.8 188.5,133.6 188.7,133.5 188.9,133.4 189.1,133.2 189.3,133.1 189.6,132.9 189.8,132.8 190,132.7 190.2,132.5 190.4,132.4 190.7,132.3 190.9,132.1 191.1,132 191.3,131.9 191.5,131.7 191.8,131.6 192,131.5 192.2,131.3 192.4,131.2 192.6,131.1 192.9,130.9 193.1,130.8 193.3,130.7 193.5,130.6 193.7,130.5 194,130.3 194.2,130.2 194.4,130.1 194.6,130 194.8,129.9 195.1,129.7 195.3,129.6 195.5,129.5 195.7,129.4 195.9,129.3 196.2,129.2 196.4,129.1 196.6,129 196.8,128.9 197,128.8 197.3,128.7 197.5,128.6 197.7,128.5 197.9,128.4 198.1,128.3 198.4,128.2 198.6,128.1 198.8,128 199,127.9 199.2,127.8 199.5,127.7 199.7,127.6 199.9,127.5 200.1,127.5 200.3,127.4 200.6,127.3 200.8,127.2 201,127.1 201.2,127.1 201.4,127 201.6,126.9 201.9,126.8 202.1,126.8 202.3,126.7 202.5,126.6 202.7,126.6 203,126.5 203.2,126.5 203.4,126.4 203.6,126.4 203.8,126.3 204.1,126.2 204.3,126.2 204.5,126.1 204.7,126.1 204.9,126.1 205.2,126 205.4,126 205.6,125.9 205.8,125.9 206,125.9 206.3,125.8 206.5,125.8 206.7,125.8 206.9,125.7 207.1,125.7 207.4,125.7 207.6,125.7 207.8,125.6 208,125.6 208.2,125.6 208.5,125.6 208.7,125.6 208.9,125.6 209.1,125.6 209.3,125.6 209.6,125.5 209.8,125.5 210,125.5" fill="none" stroke="#f67e2a" stroke-width="1.6" stroke-linejoin="round" stroke-linecap="round" clip-path="url(#c1)"/>
<polyline points="77.9,149.4 78.2,149.3 78.4,149.3 78.6,149.3 78.8,149.4 79,149.4 79.2,149.5 79.5,149.5 79.7,149.6 79.9,149.7 80.1,149.8 80.3,149.8 80.6,149.9 80.8,150 81,150.1 81.2,150.2 81.4,150.3 81.7,150.4 81.9,150.5 82.1,150.6 82.3,150.7 82.5,150.8 82.8,150.9 83,151 83.2,151.1 83.4,151.2 83.6,151.3 83.9,151.4 84.1,151.5 84.3,151.6 84.5,151.7 84.7,151.8 85,151.9 85.2,152 85.4,152.1 85.6,152.2 85.8,152.3 86.1,152.4 86.3,152.5 86.5,152.6 86.7,152.7 86.9,152.7 87.2,152.8 87.4,152.9 87.6,153 87.8,153.1 88,153.2 88.3,153.3 88.5,153.4 88.7,153.5 88.9,153.6 89.1,153.7 89.4,153.7 89.6,153.8 89.8,153.9 90,154 90.2,154.1 90.5,154.2 90.7,154.3 90.9,154.3 91.1,154.4 91.3,154.5 91.6,154.6 91.8,154.7 92,154.7 92.2,154.8 92.4,154.9 92.7,155 92.9,155.1 93.1,155.1 93.3,155.2 93.5,155.3 93.8,155.4 94,155.4 94.2,155.5 94.4,155.6 94.6,155.7 94.9,155.7 95.1,155.8 95.3,155.9 95.5,156 95.7,156 95.9,156.1 96.2,156.2 96.4,156.2 96.6,156.3 96.8,156.4 97,156.4 97.3,156.5 97.5,156.6 97.7,156.6 97.9,156.7 98.1,156.8 98.4,156.8 98.6,156.9 98.8,157 99,157 99.2,157.1 99.5,157.2 99.7,157.2 99.9,157.3 100.1,157.3 100.3,157.4 100.6,157.5 100.8,157.5 101,157.6 101.2,157.6 101.4,157.7 101.7,157.7 101.9,157.8 102.1,157.9 102.3,157.9 102.5,158 102.8,158 103,158.1 103.2,158.1 103.4,158.2 103.6,158.2 103.9,158.3 104.1,158.3 104.3,158.4 104.5,158.4 104.7,158.5 105,158.5 105.2,158.6 105.4,158.6 105.6,158.7 105.8,158.7 106.1,158.8 106.3,158.8 106.5,158.8 106.7,158.9 106.9,158.9 107.2,159 107.4,159 107.6,159.1 107.8,159.1 108,159.1 108.3,159.2 108.5,159.2 108.7,159.2 108.9,159.3 109.1,159.3 109.4,159.4 109.6,159.4 109.8,159.4 110,159.5 110.2,159.5 110.5,159.5 110.7,159.6 110.9,159.6 111.1,159.6 111.3,159.7 111.6,159.7 111.8,159.7 112,159.8 112.2,159.8 112.4,159.8 112.7,159.8 112.9,159.9 113.1,159.9 113.3,159.9 113.5,159.9 113.7,160 114,160 114.2,160 114.4,160 114.6,160.1 114.8,160.1 115.1,160.1 115.3,160.1 115.5,160.1 115.7,160.2 115.9,160.2 116.2,160.2 116.4,160.2 116.6,160.2 116.8,160.2 117,160.3 117.3,160.3 117.5,160.3 117.7,160.3 117.9,160.3 118.1,160.3 118.4,160.3 118.6,160.3 118.8,160.4 119,160.4 119.2,160.4 119.5,160.4 119.7,160.4 119.9,160.4 120.1,160.4 120.3,160.4 120.6,160.4 120.8,160.4 121,160.4 121.2,160.4 121.4,160.4 121.7,160.4 121.9,160.4 122.1,160.4 122.3,160.4 122.5,160.4 122.8,160.4 123,160.4 123.2,160.4 123.4,160.4 123.6,160.4 123.9,160.4 124.1,160.4 124.3,160.4 124.5,160.4 124.7,160.4 125,160.4 125.2,160.4 125.4,160.4 125.6,160.3 125.8,160.3 126.1,160.3 126.3,160.3 126.5,160.3 126.7,160.3 126.9,160.3 127.2,160.3 127.4,160.2 127.6,160.2 127.8,160.2 128,160.2 128.3,160.2 128.5,160.2 128.7,160.1 128.9,160.1 129.1,160.1 129.4,160.1 129.6,160.1 129.8,160 130,160 130.2,160 130.5,160 130.7,159.9 130.9,159.9 131.1,159.9 131.3,159.9 131.5,159.8 131.8,159.8 132,159.8 132.2,159.8 132.4,159.7 132.6,159.7 132.9,159.7 133.1,159.6 133.3,159.6 133.5,159.6 133.7,159.5 134,159.5 134.2,159.5 134.4,159.4 134.6,159.4 134.8,159.4 135.1,159.3 135.3,159.3 135.5,159.2 135.7,159.2 135.9,159.2 136.2,159.1 136.4,159.1 136.6,159.1 136.8,159 137,159 137.3,158.9 137.5,158.9 137.7,158.8 137.9,158.8 138.1,158.8 138.4,158.7 138.6,158.7 138.8,158.6 139,158.6 139.2,158.5 139.5,158.5 139.7,158.4 139.9,158.4 140.1,158.3 140.3,158.3 140.6,158.2 140.8,158.2 141,158.1 141.2,158.1 141.4,158 141.7,158 141.9,157.9 142.1,157.9 142.3,157.8 142.5,157.7 142.8,157.7 143,157.6 143.2,157.6 143.4,157.5 143.6,157.5 143.9,157.4 144.1,157.3 144.3,157.3 144.5,157.2 144.7,157.2 145,157.1 145.2,157 145.4,157 145.6,156.9 145.8,156.8 146.1,156.8 146.3,156.7 146.5,156.6 146.7,156.6 146.9,156.5 147.2,156.4 147.4,156.4 147.6,156.3 147.8,156.2 148,156.2 148.3,156.1 148.5,156 148.7,156 148.9,155.9 149.1,155.8 149.3,155.7 149.6,155.7 149.8,155.6 150,155.5 150.2,155.4 150.4,155.4 150.7,155.3 150.9,155.2 151.1,155.1 151.3,155.1 151.5,155 151.8,154.9 152,154.8 152.2,154.7 152.4,154.7 152.6,154.6 152.9,154.5 153.1,154.4 153.3,154.3 153.5,154.3 153.7,154.2 154,154.1 154.2,154 154.4,153.9 154.6,153.8 154.8,153.7 155.1,153.7 155.3,153.6 155.5,153.5 155.7,153.4 155.9,153.3 156.2,153.2 156.4,153.1 156.6,153 156.8,152.9 157,152.8 157.3,152.7 157.5,152.7 157.7,152.6 157.9,152.5 158.1,152.4 158.4,152.3 158.6,152.2 158.8,152.1 159,152 159.2,151.9 159.5,151.8 159.7,151.7 159.9,151.6 160.1,151.5 160.3,151.4 160.6,151.3 160.8,151.2 161,151.1 161.2,151 161.4,150.9 161.7,150.8 161.9,150.7 162.1,150.6 162.3,150.5 162.5,150.4 162.8,150.3 163,150.2 163.2,150.1 163.4,150 163.6,149.9 163.9,149.8 164.1,149.8 164.3,149.7 164.5,149.6 164.7,149.5 165,149.5 165.2,149.4 165.4,149.4 165.6,149.3 165.8,149.3 166.1,149.3 166.3,149.4 166.5,149.5" fill="none" stroke="#f67e2a" stroke-width="1.6" stroke-linejoin="round" stroke-linecap="round" clip-path="url(#c1)"/>
<polyline points="37.1,120.5 72.72,139.59" fill="none" stroke="#000" stroke-width="0.9" stroke-linejoin="round" />
<polygon points="76.1,141.4 71.07,140.63 72.67,137.63" fill="#000"/>
<polyline points="88.1,142.9 88.94,141.58 89.77,140.26 90.61,138.94 91.45,137.62 92.28,136.3 93.12,134.98 93.96,133.66 94.79,132.35 95.63,131.03 96.47,129.71 97.3,128.39 98.14,127.07 98.98,125.76 99.81,124.44 100.65,123.12 101.49,121.81 102.32,120.49 103.16,119.18 104,117.86 104.83,116.55 105.67,115.23 106.51,113.92 107.34,112.61 108.18,111.3 109.02,110 109.85,108.69 110.69,107.39 111.53,106.09 112.36,104.79 113.2,103.5 114.04,102.21 114.87,100.93 115.71,99.67 116.55,98.42 117.38,97.19 118.22,96 119.06,94.86 119.89,93.83 120.73,92.98 121.57,92.47 122.41,92.47 123.24,92.97 124.08,93.83 124.92,94.88 125.75,96.03 126.59,97.25 127.43,98.5 128.26,99.78 129.1,101.07 129.94,102.37 130.77,103.68 131.61,105 132.45,106.33 133.28,107.65 134.12,108.98 134.96,110.31 135.79,111.65 136.63,112.98 137.47,114.32 138.3,115.66 139.14,117 139.98,118.34 140.81,119.68 141.65,121.02 142.49,122.37 143.32,123.71 144.16,125.05 145,126.4 145.83,127.74 146.67,129.09 147.51,130.43 148.34,131.78 149.18,133.12 150.02,134.47 150.85,135.81 151.69,137.16 152.53,138.51 153.36,139.85 152.17,137.94" fill="none" stroke="#000" stroke-width="0.9" stroke-linejoin="round" stroke-dasharray="3.0 1.0"/>
<polygon points="154.2,141.2 150.22,138.02 153.11,136.23" fill="#000"/>
<polyline points="85,146 86.27,146.54 87.55,147.06 88.82,147.55 90.1,148.03 91.37,148.49 92.65,148.92 93.92,149.34 95.2,149.74 96.47,150.11 97.75,150.47 99.02,150.8 100.29,151.12 101.57,151.41 102.84,151.69 104.12,151.94 105.39,152.17 106.67,152.39 107.94,152.58 109.22,152.75 110.49,152.9 111.77,153.04 113.04,153.15 114.32,153.24 115.59,153.31 116.86,153.36 118.14,153.39 119.41,153.4 120.69,153.39 121.96,153.37 123.24,153.33 124.51,153.28 125.79,153.21 127.06,153.12 128.34,153.02 129.61,152.91 130.88,152.77 132.16,152.63 133.43,152.47 134.71,152.29 135.98,152.09 137.26,151.89 138.53,151.66 139.81,151.42 141.08,151.17 142.36,150.9 143.63,150.61 144.91,150.31 146.18,150 147.45,149.66 148.73,149.32 150,148.96 151.28,148.58 152.55,148.18 153.83,147.78 155.1,147.35 156.38,146.91 157.65,146.46 158.93,145.99 156.61,146.87" fill="none" stroke="#000" stroke-width="0.9" stroke-linejoin="round" stroke-dasharray="3.0 1.0"/>
<polygon points="160.2,145.5 156.32,148.8 155.11,145.62" fill="#000"/>
<polyline points="168,140.2 197.69,122.84" fill="none" stroke="#000" stroke-width="0.9" stroke-linejoin="round" />
<polygon points="201,120.9 197.71,124.79 196,121.86" fill="#000"/>
<polyline points="174.1,149.4 187.22,164.96" fill="none" stroke="#000" stroke-width="0.9" stroke-linejoin="round" />
<polygon points="189.7,167.9 185.31,165.33 187.91,163.13" fill="#000"/>
<rect x="34.2" y="79.6" width="175.8" height="93.7" fill="none" stroke="#3c3c3c" stroke-width="0.8"/>
<line x1="34.2" y1="160.4" x2="36.1" y2="160.4" stroke="#3c3c3c" stroke-width="0.8" />
<line x1="210" y1="160.4" x2="208.1" y2="160.4" stroke="#3c3c3c" stroke-width="0.8" />
<line x1="34.2" y1="134.6" x2="36.1" y2="134.6" stroke="#3c3c3c" stroke-width="0.8" />
<line x1="210" y1="134.6" x2="208.1" y2="134.6" stroke="#3c3c3c" stroke-width="0.8" />
<line x1="34.2" y1="108.8" x2="36.1" y2="108.8" stroke="#3c3c3c" stroke-width="0.8" />
<line x1="210" y1="108.8" x2="208.1" y2="108.8" stroke="#3c3c3c" stroke-width="0.8" />
<line x1="34.2" y1="83" x2="36.1" y2="83" stroke="#3c3c3c" stroke-width="0.8" />
<line x1="210" y1="83" x2="208.1" y2="83" stroke="#3c3c3c" stroke-width="0.8" />
<line x1="34.2" y1="173.3" x2="34.2" y2="171.4" stroke="#3c3c3c" stroke-width="0.8" />
<line x1="78.15" y1="173.3" x2="78.15" y2="171.4" stroke="#3c3c3c" stroke-width="0.8" />
<line x1="122.1" y1="173.3" x2="122.1" y2="171.4" stroke="#3c3c3c" stroke-width="0.8" />
<line x1="166.05" y1="173.3" x2="166.05" y2="171.4" stroke="#3c3c3c" stroke-width="0.8" />
<line x1="210" y1="173.3" x2="210" y2="171.4" stroke="#3c3c3c" stroke-width="0.8" />
<line x1="40.3" y1="79.6" x2="40.3" y2="81.5" stroke="#3c3c3c" stroke-width="0.8" />
<line x1="121.8" y1="79.6" x2="121.8" y2="81.5" stroke="#3c3c3c" stroke-width="0.8" />
<line x1="203.3" y1="79.6" x2="203.3" y2="81.5" stroke="#3c3c3c" stroke-width="0.8" />
<text x="31" y="163.2" font-size="9.3" text-anchor="end" fill="#262626"  stroke="#262626" stroke-width="0.2">0</text>
<text x="31" y="137.4" font-size="9.3" text-anchor="end" fill="#262626"  stroke="#262626" stroke-width="0.2">1</text>
<text x="31" y="111.6" font-size="9.3" text-anchor="end" fill="#262626"  stroke="#262626" stroke-width="0.2">2</text>
<text x="31" y="85.8" font-size="9.3" text-anchor="end" fill="#262626"  stroke="#262626" stroke-width="0.2">3</text>
<text x="34.2" y="184.3" font-size="9.3" text-anchor="middle" fill="#262626"  stroke="#262626" stroke-width="0.2">0</text>
<text x="78.15" y="184.3" font-size="9.3" text-anchor="middle" fill="#262626"  stroke="#262626" stroke-width="0.2">0.5</text>
<text x="122.1" y="184.3" font-size="9.3" text-anchor="middle" fill="#262626"  stroke="#262626" stroke-width="0.2">1</text>
<text x="166.05" y="184.3" font-size="9.3" text-anchor="middle" fill="#262626"  stroke="#262626" stroke-width="0.2">1.5</text>
<text x="210" y="184.3" font-size="9.3" text-anchor="middle" fill="#262626"  stroke="#262626" stroke-width="0.2">2</text>
<text x="40.3" y="76" font-size="9.3" text-anchor="middle" fill="#262626"  stroke="#262626" stroke-width="0.2">-5</text>
<text x="121.8" y="76" font-size="9.3" text-anchor="middle" fill="#262626"  stroke="#262626" stroke-width="0.2">0</text>
<text x="203.3" y="76" font-size="9.3" text-anchor="middle" fill="#262626"  stroke="#262626" stroke-width="0.2">5</text>
<text x="122.3" y="64.9" font-size="9.4" text-anchor="middle" fill="#262626"  stroke="#262626" stroke-width="0.2">Time (ms)</text>
<text font-size="9.4" fill="#262626" stroke="#262626" stroke-width="0.2"><tspan x="68.2" y="195.9">Quasimomentum</tspan><tspan x="143.7" y="195.9" font-style="italic">q</tspan><tspan x="153.1" y="195.9">(</tspan><tspan x="157.1" y="195.9" font-style="italic">ħk</tspan><tspan x="167.6" y="199.4" font-size="7.3">L</tspan><tspan x="173" y="195.9">)</tspan></text>
<text x="127" y="111.9" font-size="10" text-anchor="middle" fill="#26a1c9" font-style="italic" >D</text>
<text x="172" y="111.5" font-size="10" text-anchor="middle" fill="#9cc47e" font-style="italic" >F</text>
<text x="126.7" y="151" font-size="10" text-anchor="middle" fill="#f67e2a" font-style="italic" >P</text>
<text transform="translate(18.9,178.75) rotate(-90)" font-size="9.4" fill="#262626" stroke="#262626" stroke-width="0.2"><tspan x="-0.6" y="0">Dressed Energy</tspan><tspan x="71.0" y="0" font-style="italic">E</tspan><tspan x="83.3" y="0">(</tspan><tspan x="87.0" y="0" font-style="italic">E</tspan><tspan x="93.6" y="3.4" font-size="7.3">R</tspan><tspan x="100.4" y="0">)</tspan></text>
<polyline points="268.9,18.2 269.1,18.1 269.4,17.9 269.6,17.8 269.9,17.7 270.1,17.6 270.4,17.5 270.6,17.5 270.9,17.6 271.1,17.7 271.4,17.9 271.6,18.2 271.9,18.5 272.1,18.9 272.4,19.3 272.6,19.7 272.9,20.1 273.1,20.4 273.4,20.6 273.6,20.8 273.9,20.8 274.1,20.8 274.4,20.6 274.6,20.2 274.9,19.7 275.1,19.2 275.4,18.5 275.6,17.7 275.9,17 276.1,16.2 276.4,15.4 276.6,14.8 276.9,14.2 277.1,13.8 277.4,13.6 277.6,13.5 277.9,13.7 278.1,14 278.4,14.6 278.6,15.4 278.9,16.3 279.1,17.4 279.4,18.5 279.6,19.7 279.9,20.8 280.1,21.8 280.4,22.6 280.6,23.3 280.9,23.7 281.1,23.9 281.4,23.9 281.6,23.6 281.9,23.1 282.1,22.4 282.4,21.6 282.6,20.5 282.9,19.4 283.1,18.2 283.4,17.1 283.6,16 283.9,14.9 284.1,14 284.4,13.3 284.6,12.8 284.9,12.5 285.1,12.5 285.4,12.7 285.6,13.1 285.9,13.7 286.1,14.5 286.4,15.5 286.6,16.6 286.9,17.8 287.1,18.9 287.4,20.1 287.6,21.2 287.9,22.1 288.1,22.9 288.4,23.5 288.6,23.8 288.9,23.9 289.1,23.8 289.4,23.5 289.6,22.9 289.9,22.1 290.1,21.2 290.4,20.1 290.6,19 290.9,17.8 291.1,16.7 291.4,15.6 291.6,14.6 291.9,13.8 292.1,13.1 292.4,12.7 292.6,12.5 292.9,12.5 293.1,12.8 293.4,13.3 293.6,14 293.9,14.9 294.1,15.9 294.4,17 294.6,18.2 294.9,19.4 295.1,20.5 295.4,21.5 295.6,22.4 295.9,23.1 296.1,23.6 296.4,23.9 296.6,23.9 296.9,23.7 297.1,23.3 297.4,22.7 297.6,21.8 297.9,20.8 298.1,19.7 298.4,18.6 298.6,17.4 298.9,16.3 299.1,15.2 299.4,14.3 299.6,13.5 299.9,12.9 300.1,12.6 300.4,12.5 300.6,12.6 300.9,12.9 301.1,13.5 301.4,14.3 301.6,15.2 301.9,16.3 302.1,17.4 302.4,18.6 302.6,19.8 302.9,20.9 303.1,21.8 303.4,22.7 303.6,23.3 303.9,23.7 304.1,23.9 304.3,23.9 304.6,23.6 304.8,23.1 305.1,22.4 305.3,21.5 305.6,20.5 305.8,19.3 306.1,18.2 306.3,17 306.6,15.9 306.8,14.9 307.1,14 307.3,13.3 307.6,12.8 307.8,12.5 308.1,12.5 308.3,12.7 308.6,13.1 308.8,13.8 309.1,14.6 309.3,15.6 309.6,16.7 309.8,17.9 310.1,19 310.3,20.2 310.6,21.2 310.8,22.2 311.1,22.9 311.3,23.5 311.6,23.8 311.8,23.9 312.1,23.8 312.3,23.5 312.6,22.9 312.8,22.1 313.1,21.1 313.3,20.1 313.6,18.9 313.8,17.7 314.1,16.6 314.3,15.5 314.6,14.5 314.8,13.7 315.1,13.1 315.3,12.6 315.6,12.5 315.8,12.5 316.1,12.8 316.3,13.3 316.6,14 316.8,14.9 317.1,16 317.3,17.1 317.6,18.3 317.8,19.4 318.1,20.6 318.3,21.6 318.6,22.5 318.8,23.2 319.1,23.6 319.3,23.9 319.6,23.9 319.8,23.7 320.1,23.3 320.3,22.6 320.6,21.8 320.8,20.8 321.1,19.7 321.3,18.5 321.6,17.3 321.8,16.2 322.1,15.1 322.3,14.2 322.6,13.5 322.8,12.9 323.1,12.6 323.3,12.5 323.6,12.6 323.8,13 324.1,13.6 324.3,14.3 324.6,15.3 324.8,16.4 325.1,17.5 325.3,18.7 325.6,19.8 325.8,20.9 326.1,21.9 326.3,22.7 326.6,23.4 326.8,23.8 327.1,23.9 327.3,23.9 327.6,23.6 327.8,23.1 328.1,22.3 328.3,21.4 328.6,20.4 328.8,19.3 329.1,18.1 329.3,16.9 329.6,15.8 329.8,14.8 330.1,13.9 330.3,13.2 330.6,12.7 330.8,12.5 331.1,12.5 331.3,12.7 331.6,13.2 331.8,13.8 332.1,14.7 332.3,15.7 332.6,16.8 332.8,17.9 333.1,19.1 333.3,20.2 333.6,21.3 333.8,22.2 334.1,23 334.3,23.5 334.6,23.9 334.8,23.9 335.1,23.8 335.3,23.4 335.6,22.8 335.8,22 336.1,21.1 336.3,20 336.6,18.8 336.8,17.7 337.1,16.5 337.3,15.4 337.6,14.5 337.8,13.6 338.1,13 338.3,12.6 338.6,12.5 338.8,12.5 339,12.8 339.3,13.4 339.5,14.1 339.8,15 340,16 340.3,17.2 340.5,18.4 340.8,19.5 341,20.6 341.3,21.6 341.5,22.5 341.8,23.2 342,23.7 342.3,23.9 342.5,23.9 342.8,23.7 343,23.2 343.3,22.6 343.5,21.7 343.8,20.7 344,19.6 344.3,18.4 344.5,17.3 344.8,16.1 345,15.1 345.3,14.2 345.5,13.4 345.8,12.9 346,12.5 346.3,12.5 346.5,12.6 346.8,13 347,13.6 347.3,14.4 347.5,15.4 347.8,16.4 348,17.6 348.3,18.8 348.5,19.9 348.8,21 349,22 349.3,22.8 349.5,23.4 349.8,23.8 350,23.9 350.3,23.9 350.5,23.6 350.8,23 351,22.3 351.3,21.4 351.5,20.3 351.8,19.2 352,18 352.3,16.8 352.5,15.7 352.8,14.7 353,13.9 353.3,13.2 353.5,12.7 353.8,12.5 354,12.5 354.3,12.7 354.5,13.2 354.8,13.9 355,14.7 355.3,15.7 355.5,16.8 355.8,18 356,19.2 356.3,20.3 356.5,21.4 356.8,22.3 357,23 357.3,23.6 357.5,23.9 357.8,23.9 358,23.8 358.3,23.4 358.5,22.8 358.8,22 359,21 359.3,19.9 359.5,18.8 359.8,17.6 360,16.4 360.3,15.4 360.5,14.4 360.8,13.6 361,13 361.3,12.6 361.5,12.5 361.8,12.5 362,12.9 362.3,13.4 362.5,14.2 362.8,15.1 363,16.1 363.3,17.3 363.5,18.4 363.8,19.6 364,20.7 364.3,21.7 364.5,22.6 364.8,23.2 365,23.7 365.3,23.9 365.5,23.9 365.8,23.7 366,23.2 366.3,22.5 366.5,21.6 366.8,20.6 367,19.5 367.3,18.3 367.5,17.2 367.8,16 368,15 368.3,14.1 368.5,13.4 368.8,12.8 369,12.5 369.3,12.5 369.5,12.6 369.8,13 370,13.7 370.3,14.5 370.5,15.4 370.8,16.5 371,17.7 371.3,18.9 371.5,20 371.8,21.1 372,22 372.3,22.8 372.5,23.4 372.8,23.8 373,23.9 373.3,23.9 373.5,23.5 373.8,23 374,22.2 374.2,21.3 374.5,20.2 374.7,19.1 375,17.9 375.2,16.8 375.5,15.7 375.7,14.7 376,13.8 376.2,13.1 376.5,12.7 376.7,12.5 377,12.5 377.2,12.7 377.5,13.2 377.7,13.9 378,14.8 378.2,15.8 378.5,16.9 378.7,18.1 379,19.3 379.2,20.4 379.5,21.4 379.7,22.3 380,23.1 380.2,23.6 380.5,23.9 380.7,23.9 381,23.8 381.2,23.3 381.5,22.7 381.7,21.9 382,20.9 382.2,19.8 382.5,18.7 382.7,17.5 383,16.4 383.2,15.3 383.5,14.3 383.7,13.6 384,13 384.2,12.6 384.5,12.5 384.7,12.6 385,12.9 385.2,13.5 385.5,14.2 385.7,15.1 386,16.2 386.2,17.3 386.5,18.5 386.7,19.7 387,20.8 387.2,21.8 387.5,22.6 387.7,23.3 388,23.7 388.2,23.9 388.5,23.9 388.7,23.6 389,23.1 389.2,22.4 389.5,21.6 389.7,20.5 390,19.4 390.2,18.3 390.5,17.1 390.7,16 391,14.9 391.2,14 391.5,13.3 391.7,12.8 392,12.5 392.2,12.5 392.5,12.6 392.7,13.1 393,13.7 393.2,14.5 393.5,15.5 393.7,16.6 394,17.8 394.2,18.9 394.5,20.1 394.7,21.1 395,22.1 395.2,22.9 395.5,23.5 395.7,23.8 396,23.9 396.2,23.8 396.5,23.5 396.7,22.9 397,22.2 397.2,21.2 397.5,20.2 397.7,19 398,17.8 398.2,16.7 398.5,15.6 398.7,14.6 399,13.8 399.2,13.1 399.5,12.7 399.7,12.5 400,12.5 400.2,12.8 400.5,13.3 400.7,14 401,14.9 401.2,15.9 401.5,17 401.7,18.2 402,19.3 402.2,20.5 402.5,21.5 402.7,22.4 403,23.1 403.2,23.6 403.5,23.9 403.7,23.9 404,23.7 404.2,23.3 404.5,22.7 404.7,21.8 405,20.9 405.2,19.8 405.5,18.6 405.7,17.4 406,16.3 406.2,15.2 406.5,14.3 406.7,13.5 407,12.9 407.2,12.6 407.5,12.5 407.7,12.6 408,12.9 408.2,13.5 408.5,14.3 408.7,15.2 408.9,16.3 409.2,17.4 409.4,18.6 409.7,19.8 409.9,20.9 410.2,21.8 410.4,22.7 410.7,23.3 410.9,23.7 411.2,23.9 411.4,23.9 411.7,23.6 411.9,23.1 412.2,22.4 412.4,21.5 412.7,20.5 412.9,19.4 413.2,18.2 413.4,17 413.7,15.9 413.9,14.9 414.2,14 414.4,13.3 414.7,12.8 414.9,12.5 415.2,12.5 415.4,12.7 415.7,13.1 415.9,13.8 416.2,14.6 416.4,15.6 416.7,16.7 416.9,17.8 417.2,19 417.4,20.2 417.7,21.2 417.9,22.2 418.2,22.9 418.4,23.5 418.7,23.8 418.9,23.9 419.2,23.8 419.4,23.5 419.7,22.9 419.9,22.1 420.2,21.2 420.4,20.1 420.7,18.9 420.9,17.8 421.2,16.6 421.4,15.5 421.7,14.5 421.9,13.7 422.2,13.1 422.4,12.6 422.7,12.5 422.9,12.5 423.2,12.8 423.4,13.3 423.7,14 423.9,14.9 424.2,16 424.4,17.1 424.7,18.3 424.9,19.4 425.2,20.5 425.4,21.6 425.7,22.4 425.9,23.1 426.2,23.6 426.4,23.9 426.7,23.9 426.9,23.7 427.2,23.3 427.4,22.6 427.7,21.8 427.9,20.8 428.2,19.7 428.4,18.5 428.7,17.3 428.9,16.2 429.2,15.1 429.4,14.2 429.7,13.5 429.9,12.9 430.2,12.6 430.4,12.5 430.7,12.6 430.9,13 431.2,13.6 431.4,14.3 431.7,15.3 431.9,16.4 432.2,17.5 432.4,18.7 432.7,19.8 432.9,20.9 433.2,21.9 433.4,22.7 433.7,23.2 433.9,23.5 434.2,23.5 434.4,23.3 434.7,22.9 434.9,22.4 435.2,21.6 435.4,20.8 435.7,19.9 435.9,19 436.2,18.1 436.4,17.3 436.7,16.6 436.9,15.9 437.2,15.5 437.4,15.1 437.7,15 437.9,14.9 438.2,15.1 438.4,15.3 438.7,15.7 438.9,16.1 439.2,16.6 439.4,17.1 439.7,17.6 439.9,18.1 440.2,18.5 440.4,18.9 440.7,19.2 440.9,19.3 441.2,19.4 441.4,19.5 441.7,19.4 441.9,19.3 442.2,19.1 442.4,18.9 442.7,18.7 442.9,18.6 443.2,18.4 443.4,18.3 443.7,18.2 443.9,18.2" fill="none" stroke="#f67e2a" stroke-width="1.75" stroke-linejoin="round" stroke-linecap="round" />
<polyline points="269,38.3 269.2,38.6 269.5,38.7 269.7,38.8 270,38.6 270.2,38.3 270.5,37.8 270.7,37.2 271,36.5 271.2,36 271.5,35.6 271.7,35.6 272,35.9 272.2,36.5 272.5,37.5 272.7,38.7 273,40.1 273.2,41.4 273.5,42.5 273.7,43.3 274,43.6 274.2,43.3 274.5,42.4 274.7,40.9 275,39.1 275.2,37 275.5,34.8 275.7,32.9 276,31.4 276.2,30.6 276.5,30.6 276.7,31.4 277,33 277.2,35.3 277.5,38.1 277.7,41 278,43.9 278.2,46.3 278.5,48 278.7,48.7 279,48.3 279.2,46.9 279.5,44.4 279.7,41.1 280,37.5 280.2,34 280.5,30.9 280.7,28.6 281,27.3 281.2,27.2 281.5,28.2 281.7,30.2 282,33.1 282.2,36.5 282.5,40.1 282.7,43.6 283,46.4 283.2,48.5 283.5,49.4 283.7,49.2 284,47.9 284.2,45.6 284.5,42.5 284.7,39 285,35.4 285.2,32.1 285.5,29.5 285.7,27.7 286,27.1 286.2,27.6 286.5,29.3 286.7,31.8 287,35.1 287.2,38.7 287.5,42.2 287.7,45.3 288,47.7 288.2,49.2 288.5,49.5 288.7,48.6 289,46.7 289.2,43.9 289.5,40.5 289.7,36.9 290,33.4 290.2,30.5 290.5,28.3 290.7,27.2 291,27.3 291.2,28.5 291.5,30.7 291.7,33.7 292,37.2 292.2,40.8 292.5,44.1 292.7,46.9 293,48.7 293.2,49.5 293.5,49.1 293.7,47.6 294,45.1 294.2,41.9 294.5,38.4 294.7,34.8 295,31.6 295.2,29.1 295.5,27.5 295.7,27.1 296,27.8 296.2,29.7 296.5,32.4 296.7,35.7 297,39.3 297.2,42.8 297.5,45.8 297.7,48.1 298,49.3 298.2,49.4 298.5,48.3 298.7,46.2 299,43.3 299.2,39.9 299.5,36.2 299.7,32.8 300,30 300.2,28.1 300.5,27.1 300.7,27.4 301,28.8 301.2,31.2 301.5,34.3 301.7,37.8 302,41.4 302.2,44.7 302.5,47.3 302.7,48.9 303,49.5 303.2,48.9 303.5,47.2 303.7,44.6 304,41.3 304.2,37.7 304.5,34.2 304.7,31.1 305,28.7 305.2,27.4 305.5,27.2 305.7,28.1 306,30.1 306.2,32.9 306.5,36.3 306.7,39.9 307,43.4 307.2,46.3 307.5,48.4 307.7,49.4 308,49.3 308.2,48 308.5,45.8 308.7,42.7 309,39.2 309.2,35.6 309.5,32.3 309.7,29.6 310,27.8 310.2,27.1 310.5,27.6 310.7,29.1 311,31.7 311.2,34.9 311.5,38.5 311.7,42 312,45.2 312.2,47.6 312.5,49.1 312.7,49.5 313,48.7 313.2,46.8 313.5,44 313.7,40.7 314,37.1 314.2,33.6 314.5,30.6 314.7,28.4 315,27.3 315.2,27.2 315.5,28.4 315.7,30.5 316,33.5 316.2,37 316.5,40.6 316.7,43.9 317,46.7 317.2,48.6 317.5,49.5 317.7,49.1 318,47.7 318.2,45.3 318.5,42.1 318.7,38.6 319,35 319.2,31.8 319.5,29.2 319.7,27.6 320,27.1 320.2,27.8 320.5,29.5 320.7,32.2 321,35.5 321.2,39.1 321.5,42.6 321.7,45.7 322,48 322.2,49.3 322.5,49.4 322.7,48.4 323,46.4 323.2,43.5 323.5,40.1 323.7,36.4 324,33 324.2,30.2 324.5,28.1 324.7,27.2 325,27.4 325.2,28.7 325.5,31 325.7,34.1 326,37.6 326.2,41.2 326.5,44.5 326.7,47.1 327,48.9 327.2,49.5 327.5,49 327.7,47.3 328,44.8 328.2,41.5 328.5,37.9 328.7,34.4 329,31.2 329.2,28.8 329.5,27.4 329.7,27.1 330,28 330.2,29.9 330.5,32.8 330.7,36.1 331,39.7 331.2,43.2 331.5,46.1 331.7,48.3 332,49.4 332.2,49.3 332.5,48.1 332.7,45.9 333,42.9 333.2,39.4 333.5,35.8 333.7,32.5 334,29.7 334.2,27.9 334.5,27.1 334.7,27.5 335,29 335.2,31.5 335.5,34.7 335.7,38.3 336,41.8 336.2,45 336.5,47.5 336.7,49.1 337,49.5 337.2,48.8 337.5,46.9 337.7,44.2 338,40.9 338.2,37.3 338.5,33.8 338.7,30.8 339,28.5 339.2,27.3 339.5,27.2 339.7,28.3 340,30.4 340.2,33.3 340.5,36.8 340.7,40.4 341,43.8 341.2,46.6 341.5,48.6 341.7,49.5 342,49.2 342.2,47.8 342.5,45.4 342.7,42.3 343,38.8 343.2,35.2 343.5,31.9 343.7,29.3 344,27.7 344.2,27.1 344.5,27.7 344.7,29.4 345,32 345.2,35.3 345.5,38.9 345.7,42.4 346,45.5 346.2,47.9 346.5,49.2 346.7,49.4 347,48.5 347.2,46.5 347.5,43.7 347.7,40.2 348,36.6 348.2,33.2 348.5,30.3 348.7,28.2 349,27.2 349.2,27.3 349.5,28.6 349.7,30.9 350,33.9 350.2,37.4 350.5,41 350.7,44.3 351,47 351.2,48.8 351.5,49.5 351.7,49 352,47.4 352.2,44.9 352.5,41.7 352.7,38.1 353,34.6 353.2,31.4 353.5,29 353.7,27.5 354,27.1 354.2,27.9 354.5,29.8 354.7,32.6 355,35.9 355.2,39.5 355.5,43 355.7,46 356,48.2 356.2,49.3 356.4,49.4 356.7,48.2 356.9,46.1 357.2,43.1 357.4,39.6 357.7,36 357.9,32.6 358.2,29.9 358.4,28 358.7,27.1 358.9,27.5 359.2,28.9 359.4,31.4 359.7,34.5 359.9,38.1 360.2,41.6 360.4,44.9 360.7,47.4 360.9,49 361.2,49.5 361.4,48.8 361.7,47.1 361.9,44.4 362.2,41.1 362.4,37.5 362.7,34 362.9,30.9 363.2,28.6 363.4,27.3 363.7,27.2 363.9,28.2 364.2,30.2 364.4,33.1 364.7,36.6 364.9,40.2 365.2,43.6 365.4,46.5 365.7,48.5 365.9,49.4 366.2,49.2 366.4,47.9 366.7,45.6 366.9,42.5 367.2,39 367.4,35.4 367.7,32.1 367.9,29.4 368.2,27.7 368.4,27.1 368.7,27.6 368.9,29.3 369.2,31.9 369.4,35.1 369.7,38.7 369.9,42.2 370.2,45.4 370.4,47.8 370.7,49.2 370.9,49.5 371.2,48.6 371.4,46.6 371.7,43.8 371.9,40.4 372.2,36.8 372.4,33.4 372.7,30.4 372.9,28.3 373.2,27.2 373.4,27.3 373.7,28.5 373.9,30.7 374.2,33.7 374.4,37.2 374.7,40.8 374.9,44.2 375.2,46.9 375.4,48.7 375.7,49.5 375.9,49.1 376.2,47.6 376.4,45.1 376.7,41.9 376.9,38.3 377.2,34.8 377.4,31.6 377.7,29.1 377.9,27.5 378.2,27.1 378.4,27.9 378.7,29.7 378.9,32.4 379.2,35.7 379.4,39.3 379.7,42.8 379.9,45.9 380.2,48.1 380.4,49.3 380.7,49.4 380.9,48.3 381.2,46.2 381.4,43.3 381.7,39.8 381.9,36.2 382.2,32.8 382.4,30 382.7,28 382.9,27.1 383.2,27.4 383.4,28.8 383.7,31.2 383.9,34.3 384.2,37.9 384.4,41.4 384.7,44.7 384.9,47.3 385.2,48.9 385.4,49.5 385.7,48.9 385.9,47.2 386.2,44.6 386.4,41.3 386.7,37.7 386.9,34.2 387.2,31.1 387.4,28.7 387.7,27.4 387.9,27.2 388.2,28.1 388.4,30.1 388.7,33 388.9,36.4 389.2,40 389.4,43.4 389.7,46.3 389.9,48.4 390.2,49.4 390.4,49.3 390.7,48 390.9,45.7 391.2,42.7 391.4,39.2 391.7,35.6 391.9,32.3 392.2,29.6 392.4,27.8 392.7,27.1 392.9,27.6 393.2,29.2 393.4,31.7 393.7,34.9 393.9,38.5 394.2,42 394.4,45.2 394.7,47.7 394.9,49.1 395.2,49.5 395.4,48.7 395.7,46.8 395.9,44 396.2,40.6 396.4,37 396.7,33.6 396.9,30.6 397.2,28.4 397.4,27.2 397.7,27.2 397.9,28.4 398.2,30.6 398.4,33.5 398.7,37 398.9,40.6 399.2,44 399.4,46.8 399.7,48.7 399.9,49.5 400.2,49.1 400.4,47.7 400.7,45.2 400.9,42.1 401.2,38.5 401.4,35 401.7,31.7 401.9,29.2 402.2,27.6 402.4,27.1 402.7,27.8 402.9,29.6 403.2,32.2 403.4,35.5 403.7,39.1 403.9,42.6 404.2,45.7 404.4,48 404.7,49.3 404.9,49.4 405.2,48.4 405.4,46.3 405.7,43.4 405.9,40 406.2,36.4 406.4,33 406.7,30.1 406.9,28.1 407.2,27.2 407.4,27.4 407.7,28.7 407.9,31 408.2,34.1 408.4,37.7 408.7,41.2 408.9,44.5 409.2,47.2 409.4,48.9 409.7,49.5 409.9,49 410.2,47.3 410.4,44.7 410.7,41.5 410.9,37.9 411.2,34.3 411.4,31.2 411.7,28.8 411.9,27.4 412.2,27.1 412.4,28 412.7,30 412.9,32.8 413.2,36.2 413.4,39.8 413.7,43.2 413.9,46.2 414.2,48.3 414.4,49.4 414.7,49.3 414.9,48.1 415.2,45.9 415.4,42.9 415.7,39.4 415.9,35.8 416.2,32.4 416.4,29.7 416.7,27.9 416.9,27.1 417.2,27.5 417.4,29.1 417.7,31.5 417.9,34.7 418.2,38.3 418.4,41.9 418.7,45.1 418.9,47.5 419.2,49.1 419.4,49.5 419.7,48.7 419.9,46.9 420.2,44.2 420.4,40.8 420.7,37.2 420.9,33.7 421.2,30.7 421.4,28.5 421.7,27.3 421.9,27.2 422.2,28.3 422.4,30.4 422.7,33.4 422.9,36.8 423.2,40.4 423.4,43.8 423.7,46.6 423.9,48.6 424.2,49.5 424.4,49.2 424.7,47.8 424.9,45.4 425.2,42.3 425.4,38.7 425.7,35.1 425.9,31.9 426.2,29.3 426.4,27.6 426.7,27.1 426.9,27.7 427.2,29.4 427.4,32.1 427.7,35.4 427.9,38.9 428.2,42.5 428.4,45.6 428.7,47.9 428.9,49.2 429.2,49.4 429.4,48.5 429.7,46.5 429.9,43.6 430.2,40.2 430.4,36.6 430.7,33.2 430.9,30.3 431.2,28.2 431.4,27.2 431.7,27.3 431.9,28.6 432.2,30.9 432.4,33.9 432.7,37.5 432.9,41 433.2,44.4 433.4,47 433.7,48.6 433.9,49 434.2,48.2 434.4,46.5 434.7,44.1 434.9,41.2 435.2,38.1 435.4,35.3 435.7,32.9 435.9,31.2 436.2,30.3 436.4,30.3 436.7,31.2 436.9,32.7 437.2,34.6 437.4,36.9 437.7,39.1 437.9,41 438.2,42.5 438.4,43.5 438.7,43.8 438.9,43.6 439.2,42.8 439.4,41.6 439.7,40.2 439.9,38.8 440.2,37.5 440.4,36.4 440.7,35.7 440.9,35.3 441.2,35.4 441.4,35.7 441.7,36.3 441.9,37 442.2,37.7 442.4,38.3 442.7,38.7 442.9,38.9 443.2,39 443.4,38.8 443.7,38.6 443.9,38.3" fill="none" stroke="#607b4d" stroke-width="2.2" stroke-linejoin="round" stroke-linecap="round" />
<clipPath id="c2"><rect x="269.3" y="79.5" width="174.4" height="93.6"/></clipPath>
<polyline points="296.7,136.7 296.9,136.6 297.2,136.5 297.4,136.4 297.6,136.3 297.9,136.1 298.1,136 298.4,135.8 298.6,135.7 298.9,135.5 299.1,135.3 299.3,135.2 299.6,135 299.8,134.8 300.1,134.6 300.3,134.4 300.5,134.2 300.8,134 301,133.9 301.3,133.7 301.5,133.5 301.8,133.3 302,133.1 302.2,132.9 302.5,132.7 302.7,132.5 303,132.3 303.2,132.1 303.5,131.9 303.7,131.7 303.9,131.5 304.2,131.3 304.4,131.1 304.7,130.9 304.9,130.7 305.1,130.5 305.4,130.3 305.6,130.2 305.9,130 306.1,129.8 306.4,129.6 306.6,129.4 306.8,129.2 307.1,129 307.3,128.8 307.6,128.6 307.8,128.4 308.1,128.2 308.3,128 308.5,127.8 308.8,127.6 309,127.4 309.3,127.2 309.5,127 309.8,126.8 310,126.6 310.2,126.4 310.5,126.2 310.7,126 311,125.8 311.2,125.6 311.4,125.4 311.7,125.2 311.9,125 312.2,124.8 312.4,124.6 312.7,124.4 312.9,124.2 313.1,124 313.4,123.8 313.6,123.6 313.9,123.4 314.1,123.2 314.4,123 314.6,122.8 314.8,122.6 315.1,122.4 315.3,122.2 315.6,122 315.8,121.8 316,121.6 316.3,121.4 316.5,121.2 316.8,121 317,120.8 317.3,120.6 317.5,120.4 317.7,120.2 318,120 318.2,119.8 318.5,119.6 318.7,119.4 319,119.2 319.2,119 319.4,118.8 319.7,118.6 319.9,118.4 320.2,118.2 320.4,118 320.7,117.8 320.9,117.6 321.1,117.4 321.4,117.2 321.6,117 321.9,116.8 322.1,116.6 322.3,116.4 322.6,116.2 322.8,116 323.1,115.8 323.3,115.6 323.6,115.4 323.8,115.2 324,115 324.3,114.8 324.5,114.6 324.8,114.4 325,114.2 325.3,114 325.5,113.8 325.7,113.6 326,113.4 326.2,113.2 326.5,113.1 326.7,112.9 326.9,112.7 327.2,112.5 327.4,112.3 327.7,112.1 327.9,111.9 328.2,111.7 328.4,111.5 328.6,111.3 328.9,111.1 329.1,110.9 329.4,110.7 329.6,110.5 329.9,110.3 330.1,110.1 330.3,109.9 330.6,109.7 330.8,109.5 331.1,109.3 331.3,109.1 331.6,108.9 331.8,108.7 332,108.5 332.3,108.3 332.5,108.1 332.8,107.9 333,107.7 333.2,107.5 333.5,107.3 333.7,107.1 334,106.9 334.2,106.7 334.5,106.5 334.7,106.3 334.9,106.1 335.2,105.9 335.4,105.7 335.7,105.5 335.9,105.3 336.2,105.1 336.4,104.9 336.6,104.7 336.9,104.6 337.1,104.4 337.4,104.2 337.6,104 337.8,103.8 338.1,103.6 338.3,103.4 338.6,103.2 338.8,103 339.1,102.8 339.3,102.6 339.5,102.4 339.8,102.2 340,102 340.3,101.8 340.5,101.6 340.8,101.4 341,101.2 341.2,101 341.5,100.9 341.7,100.7 342,100.5 342.2,100.3 342.5,100.1 342.7,99.9 342.9,99.7 343.2,99.5 343.4,99.3 343.7,99.1 343.9,98.9 344.1,98.7 344.4,98.6 344.6,98.4 344.9,98.2 345.1,98 345.4,97.8 345.6,97.6 345.8,97.4 346.1,97.2 346.3,97.1 346.6,96.9 346.8,96.7 347.1,96.5 347.3,96.3 347.5,96.1 347.8,96 348,95.8 348.3,95.6 348.5,95.4 348.7,95.2 349,95.1 349.2,94.9 349.5,94.7 349.7,94.6 350,94.4 350.2,94.2 350.4,94.1 350.7,93.9 350.9,93.7 351.2,93.6 351.4,93.4 351.7,93.3 351.9,93.1 352.1,93 352.4,92.8 352.6,92.7 352.9,92.6 353.1,92.4 353.4,92.3 353.6,92.2 353.8,92.1 354.1,92 354.3,91.9 354.6,91.8 354.8,91.7 355,91.6 355.3,91.6 355.5,91.5 355.8,91.5 356,91.5 356.3,91.5 356.5,91.4 356.7,91.5 357,91.5 357.2,91.5 357.5,91.5 357.7,91.6 358,91.6 358.2,91.7 358.4,91.8 358.7,91.9 358.9,92 359.2,92.1 359.4,92.2 359.6,92.3 359.9,92.4 360.1,92.6 360.4,92.7 360.6,92.8 360.9,93 361.1,93.1 361.3,93.3 361.6,93.4 361.8,93.6 362.1,93.7 362.3,93.9 362.6,94.1 362.8,94.2 363,94.4 363.3,94.6 363.5,94.7 363.8,94.9 364,95.1 364.3,95.2 364.5,95.4 364.7,95.6 365,95.8 365.2,96 365.5,96.1 365.7,96.3 365.9,96.5 366.2,96.7 366.4,96.9 366.7,97.1 366.9,97.2 367.2,97.4 367.4,97.6 367.6,97.8 367.9,98 368.1,98.2 368.4,98.4 368.6,98.6 368.9,98.7 369.1,98.9 369.3,99.1 369.6,99.3 369.8,99.5 370.1,99.7 370.3,99.9 370.5,100.1 370.8,100.3 371,100.5 371.3,100.7 371.5,100.9 371.8,101 372,101.2 372.2,101.4 372.5,101.6 372.7,101.8 373,102 373.2,102.2 373.5,102.4 373.7,102.6 373.9,102.8 374.2,103 374.4,103.2 374.7,103.4 374.9,103.6 375.2,103.8 375.4,104 375.6,104.2 375.9,104.4 376.1,104.6 376.4,104.7 376.6,104.9 376.8,105.1 377.1,105.3 377.3,105.5 377.6,105.7 377.8,105.9 378.1,106.1 378.3,106.3 378.5,106.5 378.8,106.7 379,106.9 379.3,107.1 379.5,107.3 379.8,107.5 380,107.7 380.2,107.9 380.5,108.1 380.7,108.3 381,108.5 381.2,108.7 381.4,108.9 381.7,109.1 381.9,109.3 382.2,109.5 382.4,109.7 382.7,109.9 382.9,110.1 383.1,110.3 383.4,110.5 383.6,110.7 383.9,110.9 384.1,111.1 384.4,111.3 384.6,111.5 384.8,111.7 385.1,111.9 385.3,112.1 385.6,112.3 385.8,112.5 386.1,112.7 386.3,112.9 386.5,113.1 386.8,113.2 387,113.4 387.3,113.6 387.5,113.8 387.7,114 388,114.2 388.2,114.4 388.5,114.6 388.7,114.8 389,115 389.2,115.2 389.4,115.4 389.7,115.6 389.9,115.8 390.2,116 390.4,116.2 390.7,116.4 390.9,116.6 391.1,116.8 391.4,117 391.6,117.2 391.9,117.4 392.1,117.6 392.3,117.8 392.6,118 392.8,118.2 393.1,118.4 393.3,118.6 393.6,118.8 393.8,119 394,119.2 394.3,119.4 394.5,119.6 394.8,119.8 395,120 395.3,120.2 395.5,120.4 395.7,120.6 396,120.8 396.2,121 396.5,121.2 396.7,121.4 397,121.6 397.2,121.8 397.4,122 397.7,122.2 397.9,122.4 398.2,122.6 398.4,122.8 398.6,123 398.9,123.2 399.1,123.4 399.4,123.6 399.6,123.8 399.9,124 400.1,124.2 400.3,124.4 400.6,124.6 400.8,124.8 401.1,125 401.3,125.2 401.6,125.4 401.8,125.6 402,125.8 402.3,126 402.5,126.2 402.8,126.4 403,126.6 403.2,126.8 403.5,127 403.7,127.2 404,127.4 404.2,127.6 404.5,127.8 404.7,128 404.9,128.2 405.2,128.4 405.4,128.6 405.7,128.8 405.9,129 406.2,129.2 406.4,129.4 406.6,129.6 406.9,129.8 407.1,130 407.4,130.2 407.6,130.3 407.9,130.5 408.1,130.7 408.3,130.9 408.6,131.1 408.8,131.3 409.1,131.5 409.3,131.7 409.5,131.9 409.8,132.1 410,132.3 410.3,132.5 410.5,132.7 410.8,132.9 411,133.1 411.2,133.3 411.5,133.5 411.7,133.7 412,133.9 412.2,134 412.5,134.2 412.7,134.4 412.9,134.6 413.2,134.8 413.4,135 413.7,135.2 413.9,135.3 414.1,135.5 414.4,135.7 414.6,135.8 414.9,136 415.1,136.1 415.4,136.3 415.6,136.4 415.8,136.5 416.1,136.6 416.3,136.7 416.6,136.8" fill="none" stroke="#26a1c9" stroke-width="1.6" stroke-linejoin="round" stroke-linecap="round" clip-path="url(#c2)"/>
<polyline points="269.3,159 269.5,158.8 269.8,158.6 270,158.4 270.3,158.2 270.5,158 270.8,157.8 271,157.6 271.2,157.5 271.5,157.3 271.7,157.1 272,156.9 272.2,156.7 272.4,156.5 272.7,156.3 272.9,156.1 273.2,155.9 273.4,155.8 273.7,155.6 273.9,155.4 274.1,155.2 274.4,155 274.6,154.8 274.9,154.6 275.1,154.4 275.4,154.2 275.6,154.1 275.8,153.9 276.1,153.7 276.3,153.5 276.6,153.3 276.8,153.1 277.1,152.9 277.3,152.7 277.5,152.6 277.8,152.4 278,152.2 278.3,152 278.5,151.8 278.7,151.6 279,151.4 279.2,151.2 279.5,151 279.7,150.9 280,150.7 280.2,150.5 280.4,150.3 280.7,150.1 280.9,149.9 281.2,149.7 281.4,149.5 281.7,149.4 281.9,149.2 282.1,149 282.4,148.8 282.6,148.6 282.9,148.4 283.1,148.2 283.3,148 283.6,147.8 283.8,147.7 284.1,147.5 284.3,147.3 284.6,147.1 284.8,146.9 285,146.7 285.3,146.5 285.5,146.3 285.8,146.2 286,146 286.3,145.8 286.5,145.6 286.7,145.4 287,145.2 287.2,145 287.5,144.8 287.7,144.7 288,144.5 288.2,144.3 288.4,144.1 288.7,143.9 288.9,143.7 289.2,143.5 289.4,143.4 289.6,143.2 289.9,143 290.1,142.8 290.4,142.6 290.6,142.4 290.9,142.2 291.1,142.1 291.3,141.9 291.6,141.7 291.8,141.5 292.1,141.3 292.3,141.1 292.6,141 292.8,140.8 293,140.6 293.3,140.4 293.5,140.3 293.8,140.1 294,139.9 294.2,139.7 294.5,139.6 294.7,139.4 295,139.3 295.2,139.1 295.5,139 295.7,138.8 295.9,138.7 296.2,138.6 296.4,138.5 296.7,138.5" fill="none" stroke="#26a1c9" stroke-width="1.6" stroke-linejoin="round" stroke-linecap="round" clip-path="url(#c2)"/>
<polyline points="416.6,138.5 416.8,138.6 417.1,138.7 417.3,138.8 417.5,139 417.8,139.1 418,139.3 418.3,139.4 418.5,139.6 418.8,139.7 419,139.9 419.2,140.1 419.5,140.3 419.7,140.4 420,140.6 420.2,140.8 420.4,141 420.7,141.1 420.9,141.3 421.2,141.5 421.4,141.7 421.7,141.9 421.9,142.1 422.1,142.2 422.4,142.4 422.6,142.6 422.9,142.8 423.1,143 423.4,143.2 423.6,143.4 423.8,143.5 424.1,143.7 424.3,143.9 424.6,144.1 424.8,144.3 425,144.5 425.3,144.7 425.5,144.8 425.8,145 426,145.2 426.3,145.4 426.5,145.6 426.7,145.8 427,146 427.2,146.2 427.5,146.3 427.7,146.5 428,146.7 428.2,146.9 428.4,147.1 428.7,147.3 428.9,147.5 429.2,147.7 429.4,147.8 429.7,148 429.9,148.2 430.1,148.4 430.4,148.6 430.6,148.8 430.9,149 431.1,149.2 431.3,149.4 431.6,149.5 431.8,149.7 432.1,149.9 432.3,150.1 432.6,150.3 432.8,150.5 433,150.7 433.3,150.9 433.5,151 433.8,151.2 434,151.4 434.3,151.6 434.5,151.8 434.7,152 435,152.2 435.2,152.4 435.5,152.6 435.7,152.7 435.9,152.9 436.2,153.1 436.4,153.3 436.7,153.5 436.9,153.7 437.2,153.9 437.4,154.1 437.6,154.2 437.9,154.4 438.1,154.6 438.4,154.8 438.6,155 438.9,155.2 439.1,155.4 439.3,155.6 439.6,155.8 439.8,155.9 440.1,156.1 440.3,156.3 440.6,156.5 440.8,156.7 441,156.9 441.3,157.1 441.5,157.3 441.8,157.5 442,157.6 442.2,157.8 442.5,158 442.7,158.2 443,158.4 443.2,158.6 443.5,158.8 443.7,159" fill="none" stroke="#26a1c9" stroke-width="1.6" stroke-linejoin="round" stroke-linecap="round" clip-path="url(#c2)"/>
<polyline points="269.3,131 269.5,131.1 269.8,131.2 270,131.2 270.3,131.3 270.5,131.3 270.8,131.4 271,131.4 271.2,131.5 271.5,131.6 271.7,131.6 272,131.7 272.2,131.7 272.4,131.8 272.7,131.8 272.9,131.9 273.2,132 273.4,132 273.7,132.1 273.9,132.1 274.1,132.2 274.4,132.3 274.6,132.3 274.9,132.4 275.1,132.4 275.4,132.5 275.6,132.5 275.8,132.6 276.1,132.7 276.3,132.7 276.6,132.8 276.8,132.8 277.1,132.9 277.3,132.9 277.5,133 277.8,133.1 278,133.1 278.3,133.2 278.5,133.2 278.7,133.3 279,133.3 279.2,133.4 279.5,133.5 279.7,133.5 280,133.6 280.2,133.6 280.4,133.7 280.7,133.7 280.9,133.8 281.2,133.9 281.4,133.9 281.7,134 281.9,134 282.1,134.1 282.4,134.2 282.6,134.2 282.9,134.3 283.1,134.3 283.3,134.4 283.6,134.4 283.8,134.5 284.1,134.6 284.3,134.6 284.6,134.7 284.8,134.7 285,134.8 285.3,134.8 285.5,134.9 285.8,135 286,135 286.3,135.1 286.5,135.1 286.7,135.2 287,135.2 287.2,135.3 287.5,135.4 287.7,135.4 288,135.5 288.2,135.5 288.4,135.6 288.7,135.6 288.9,135.7 289.2,135.7 289.4,135.8 289.6,135.9 289.9,135.9 290.1,136 290.4,136 290.6,136.1 290.9,136.1 291.1,136.2 291.3,136.2 291.6,136.3 291.8,136.3 292.1,136.4 292.3,136.4 292.6,136.5 292.8,136.5 293,136.6 293.3,136.6 293.5,136.7 293.8,136.7 294,136.8 294.2,136.8 294.5,136.8 294.7,136.9 295,136.9 295.2,136.9 295.5,136.9 295.7,136.9 295.9,136.9 296.2,136.8 296.4,136.8 296.7,136.7" fill="none" stroke="#f67e2a" stroke-width="1.6" stroke-linejoin="round" stroke-linecap="round" clip-path="url(#c2)"/>
<polyline points="416.6,136.8 416.8,136.8 417.1,136.9 417.3,136.9 417.5,136.9 417.8,136.9 418,136.9 418.3,136.9 418.5,136.8 418.8,136.8 419,136.8 419.2,136.7 419.5,136.7 419.7,136.6 420,136.6 420.2,136.5 420.4,136.5 420.7,136.4 420.9,136.4 421.2,136.3 421.4,136.3 421.7,136.2 421.9,136.2 422.1,136.1 422.4,136.1 422.6,136 422.9,136 423.1,135.9 423.4,135.9 423.6,135.8 423.8,135.7 424.1,135.7 424.3,135.6 424.6,135.6 424.8,135.5 425,135.5 425.3,135.4 425.5,135.4 425.8,135.3 426,135.2 426.3,135.2 426.5,135.1 426.7,135.1 427,135 427.2,135 427.5,134.9 427.7,134.8 428,134.8 428.2,134.7 428.4,134.7 428.7,134.6 428.9,134.6 429.2,134.5 429.4,134.4 429.7,134.4 429.9,134.3 430.1,134.3 430.4,134.2 430.6,134.2 430.9,134.1 431.1,134 431.3,134 431.6,133.9 431.8,133.9 432.1,133.8 432.3,133.7 432.6,133.7 432.8,133.6 433,133.6 433.3,133.5 433.5,133.5 433.8,133.4 434,133.3 434.3,133.3 434.5,133.2 434.7,133.2 435,133.1 435.2,133.1 435.5,133 435.7,132.9 435.9,132.9 436.2,132.8 436.4,132.8 436.7,132.7 436.9,132.7 437.2,132.6 437.4,132.5 437.6,132.5 437.9,132.4 438.1,132.4 438.4,132.3 438.6,132.3 438.9,132.2 439.1,132.1 439.3,132.1 439.6,132 439.8,132 440.1,131.9 440.3,131.8 440.6,131.8 440.8,131.7 441,131.7 441.3,131.6 441.5,131.6 441.8,131.5 442,131.4 442.2,131.4 442.5,131.3 442.7,131.3 443,131.2 443.2,131.2 443.5,131.1 443.7,131" fill="none" stroke="#f67e2a" stroke-width="1.6" stroke-linejoin="round" stroke-linecap="round" clip-path="url(#c2)"/>
<polyline points="296.7,138.5 296.9,138.4 297.2,138.4 297.4,138.4 297.6,138.4 297.9,138.4 298.1,138.4 298.4,138.4 298.6,138.5 298.9,138.5 299.1,138.5 299.3,138.6 299.6,138.6 299.8,138.7 300.1,138.7 300.3,138.8 300.5,138.8 300.8,138.9 301,138.9 301.3,139 301.5,139 301.8,139.1 302,139.1 302.2,139.2 302.5,139.2 302.7,139.3 303,139.3 303.2,139.4 303.5,139.5 303.7,139.5 303.9,139.6 304.2,139.6 304.4,139.7 304.7,139.7 304.9,139.8 305.1,139.9 305.4,139.9 305.6,140 305.9,140 306.1,140.1 306.4,140.2 306.6,140.2 306.8,140.3 307.1,140.3 307.3,140.4 307.6,140.5 307.8,140.5 308.1,140.6 308.3,140.6 308.5,140.7 308.8,140.8 309,140.8 309.3,140.9 309.5,141 309.8,141 310,141.1 310.2,141.1 310.5,141.2 310.7,141.3 311,141.3 311.2,141.4 311.4,141.5 311.7,141.5 311.9,141.6 312.2,141.7 312.4,141.7 312.7,141.8 312.9,141.9 313.1,141.9 313.4,142 313.6,142.1 313.9,142.1 314.1,142.2 314.4,142.3 314.6,142.3 314.8,142.4 315.1,142.5 315.3,142.5 315.6,142.6 315.8,142.7 316,142.7 316.3,142.8 316.5,142.9 316.8,143 317,143 317.3,143.1 317.5,143.2 317.7,143.3 318,143.3 318.2,143.4 318.5,143.5 318.7,143.6 319,143.6 319.2,143.7 319.4,143.8 319.7,143.9 319.9,144 320.2,144.1 320.4,144.2 320.7,144.2 320.9,144.3 321.1,144.4 321.4,144.5 321.6,144.6 321.9,144.7 322.1,144.8 322.3,144.9 322.6,145 322.8,145.1 323.1,145.2 323.3,145.3 323.6,145.4 323.8,145.5 324,145.6 324.3,145.8 324.5,145.9 324.8,146 325,146.1 325.3,146.2 325.5,146.4 325.7,146.5" fill="none" stroke="#f67e2a" stroke-width="1.6" stroke-linejoin="round" stroke-linecap="round" clip-path="url(#c2)"/>
<polyline points="387.5,146.4 387.7,146.2 388,146.1 388.2,146 388.5,145.9 388.7,145.8 389,145.6 389.2,145.5 389.4,145.4 389.7,145.3 389.9,145.2 390.2,145.1 390.4,145 390.7,144.9 390.9,144.8 391.1,144.7 391.4,144.6 391.6,144.5 391.9,144.4 392.1,144.3 392.3,144.2 392.6,144.2 392.8,144.1 393.1,144 393.3,143.9 393.6,143.8 393.8,143.7 394,143.6 394.3,143.6 394.5,143.5 394.8,143.4 395,143.3 395.3,143.3 395.5,143.2 395.7,143.1 396,143 396.2,143 396.5,142.9 396.7,142.8 397,142.7 397.2,142.7 397.4,142.6 397.7,142.5 397.9,142.5 398.2,142.4 398.4,142.3 398.6,142.3 398.9,142.2 399.1,142.1 399.4,142.1 399.6,142 399.9,141.9 400.1,141.9 400.3,141.8 400.6,141.7 400.8,141.7 401.1,141.6 401.3,141.5 401.6,141.5 401.8,141.4 402,141.3 402.3,141.3 402.5,141.2 402.8,141.1 403,141.1 403.2,141 403.5,141 403.7,140.9 404,140.8 404.2,140.8 404.5,140.7 404.7,140.6 404.9,140.6 405.2,140.5 405.4,140.5 405.7,140.4 405.9,140.3 406.2,140.3 406.4,140.2 406.6,140.2 406.9,140.1 407.1,140 407.4,140 407.6,139.9 407.9,139.9 408.1,139.8 408.3,139.7 408.6,139.7 408.8,139.6 409.1,139.6 409.3,139.5 409.5,139.5 409.8,139.4 410,139.3 410.3,139.3 410.5,139.2 410.8,139.2 411,139.1 411.2,139.1 411.5,139 411.7,139 412,138.9 412.2,138.9 412.5,138.8 412.7,138.8 412.9,138.7 413.2,138.7 413.4,138.6 413.7,138.6 413.9,138.5 414.1,138.5 414.4,138.5 414.6,138.4 414.9,138.4 415.1,138.4 415.4,138.4 415.6,138.4 415.8,138.4 416.1,138.4 416.3,138.5 416.6,138.5" fill="none" stroke="#f67e2a" stroke-width="1.6" stroke-linejoin="round" stroke-linecap="round" clip-path="url(#c2)"/>
<polyline points="325.7,146.5 326,146.6 326.2,146.8 326.5,146.9 326.7,147 326.9,147.2 327.2,147.3 327.4,147.5 327.7,147.6 327.9,147.8 328.2,147.9 328.4,148.1 328.6,148.3 328.9,148.4 329.1,148.6 329.4,148.7 329.6,148.9 329.9,149.1 330.1,149.2 330.3,149.4 330.6,149.6 330.8,149.8 331.1,149.9 331.3,150.1 331.6,150.3 331.8,150.5 332,150.6 332.3,150.8 332.5,151 332.8,151.2 333,151.4 333.2,151.5 333.5,151.7 333.7,151.9 334,152.1 334.2,152.3 334.5,152.5 334.7,152.7 334.9,152.8 335.2,153 335.4,153.2 335.7,153.4 335.9,153.6 336.2,153.8 336.4,154 336.6,154.2 336.9,154.3 337.1,154.5 337.4,154.7 337.6,154.9 337.8,155.1 338.1,155.3 338.3,155.5 338.6,155.7 338.8,155.9 339.1,156.1 339.3,156.3 339.5,156.4 339.8,156.6 340,156.8 340.3,157 340.5,157.2 340.8,157.4 341,157.6 341.2,157.8 341.5,158 341.7,158.1 342,158.3 342.2,158.5 342.5,158.7 342.7,158.9 342.9,159.1 343.2,159.3 343.4,159.5 343.7,159.6 343.9,159.8 344.1,160 344.4,160.2 344.6,160.4 344.9,160.6 345.1,160.8 345.4,160.9 345.6,161.1 345.8,161.3 346.1,161.5 346.3,161.7 346.6,161.8 346.8,162 347.1,162.2 347.3,162.4 347.5,162.5 347.8,162.7 348,162.9 348.3,163 348.5,163.2 348.7,163.4 349,163.5 349.2,163.7 349.5,163.9 349.7,164 350,164.2 350.2,164.3 350.4,164.5 350.7,164.6 350.9,164.8 351.2,164.9 351.4,165.1 351.7,165.2 351.9,165.3 352.1,165.5 352.4,165.6 352.6,165.7 352.9,165.8 353.1,165.9 353.4,166 353.6,166.1 353.8,166.2 354.1,166.3 354.3,166.4 354.6,166.4 354.8,166.5 355,166.5 355.3,166.6 355.5,166.6 355.8,166.7 356,166.7 356.3,166.7 356.5,166.7 356.7,166.7 357,166.7 357.2,166.7 357.5,166.6 357.7,166.6 358,166.5 358.2,166.5 358.4,166.4 358.7,166.4 358.9,166.3 359.2,166.2 359.4,166.1 359.6,166 359.9,165.9 360.1,165.8 360.4,165.7 360.6,165.6 360.9,165.5 361.1,165.3 361.3,165.2 361.6,165.1 361.8,164.9 362.1,164.8 362.3,164.6 362.6,164.5 362.8,164.3 363,164.2 363.3,164 363.5,163.9 363.8,163.7 364,163.5 364.3,163.4 364.5,163.2 364.7,163 365,162.9 365.2,162.7 365.5,162.5 365.7,162.4 365.9,162.2 366.2,162 366.4,161.8 366.7,161.7 366.9,161.5 367.2,161.3 367.4,161.1 367.6,160.9 367.9,160.8 368.1,160.6 368.4,160.4 368.6,160.2 368.9,160 369.1,159.8 369.3,159.6 369.6,159.5 369.8,159.3 370.1,159.1 370.3,158.9 370.5,158.7 370.8,158.5 371,158.3 371.3,158.1 371.5,158 371.8,157.8 372,157.6 372.2,157.4 372.5,157.2 372.7,157 373,156.8 373.2,156.6 373.5,156.4 373.7,156.3 373.9,156.1 374.2,155.9 374.4,155.7 374.7,155.5 374.9,155.3 375.2,155.1 375.4,154.9 375.6,154.7 375.9,154.5 376.1,154.3 376.4,154.2 376.6,154 376.8,153.8 377.1,153.6 377.3,153.4 377.6,153.2 377.8,153 378.1,152.8 378.3,152.7 378.5,152.5 378.8,152.3 379,152.1 379.3,151.9 379.5,151.7 379.8,151.5 380,151.4 380.2,151.2 380.5,151 380.7,150.8 381,150.6 381.2,150.5 381.4,150.3 381.7,150.1 381.9,149.9 382.2,149.8 382.4,149.6 382.7,149.4 382.9,149.2 383.1,149.1 383.4,148.9 383.6,148.7 383.9,148.6 384.1,148.4 384.4,148.3 384.6,148.1 384.8,147.9 385.1,147.8 385.3,147.6 385.6,147.5 385.8,147.3 386.1,147.2 386.3,147 386.5,146.9 386.8,146.8 387,146.6 387.3,146.5 387.5,146.4" fill="none" stroke="#9cc47e" stroke-width="1.6" stroke-linejoin="round" stroke-linecap="round" clip-path="url(#c2)"/>
<polyline points="273.3,124.8 293.06,129.51" fill="none" stroke="#000" stroke-width="0.9" stroke-linejoin="round" />
<polygon points="296.8,130.4 291.74,130.94 292.52,127.63" fill="#000"/>
<polyline points="308,135 309.18,134.04 310.35,133.07 311.53,132.11 312.71,131.15 313.89,130.18 315.06,129.22 316.24,128.26 317.42,127.3 318.59,126.34 319.77,125.38 320.95,124.41 322.13,123.45 323.3,122.49 324.48,121.53 325.66,120.58 326.84,119.62 328.01,118.66 329.19,117.7 330.37,116.75 331.54,115.79 332.72,114.84 333.9,113.88 335.08,112.93 336.25,111.98 337.43,111.04 338.61,110.09 339.78,109.15 340.96,108.21 342.14,107.28 343.32,106.35 344.49,105.43 345.67,104.52 346.85,103.62 348.03,102.74 349.2,101.88 350.38,101.05 351.56,100.27 352.73,99.57 353.91,98.98 355.09,98.57 356.27,98.4 357.44,98.51 358.62,98.87 359.8,99.43 360.97,100.11 362.15,100.88 363.33,101.7 364.51,102.55 365.68,103.43 366.86,104.33 368.04,105.24 369.22,106.17 370.39,107.1 371.57,108.03 372.75,108.97 373.92,109.91 375.1,110.86 376.28,111.81 377.46,112.76 378.63,113.72 379.81,114.67 380.99,115.63 382.16,116.59 383.34,117.55 384.52,118.51 385.7,119.47 386.87,120.43 388.05,121.39 389.23,122.35 390.41,123.32 391.58,124.28 392.76,125.24 393.94,126.21 395.11,127.17 396.29,128.14 397.47,129.1 398.65,130.07 399.82,131.03 398.03,129.56" fill="none" stroke="#000" stroke-width="0.9" stroke-linejoin="round" stroke-dasharray="3.0 1.0"/>
<polygon points="401,132 396.21,130.27 398.37,127.64" fill="#000"/>
<polyline points="307.09,135.29 307.57,135.39 308.05,135.49 308.54,135.58 309.02,135.68 309.51,135.78 309.99,135.87 310.47,135.97 310.96,136.07 311.44,136.16 311.93,136.26 312.41,136.36 312.89,136.45 313.38,136.55 313.86,136.65 314.35,136.74 314.83,136.84 315.31,136.94 315.8,137.04 316.28,137.13 316.77,137.23 317.25,137.33 317.73,137.43 318.22,137.53 318.7,137.63 319.19,137.72 319.67,137.82 320.15,137.92 320.64,138.02 321.12,138.12 321.61,138.23 322.09,138.33 322.57,138.43 323.06,138.53 323.54,138.64 324.03,138.75 324.51,138.86 324.99,138.97 325.48,139.09 325.96,139.21 326.44,139.35 326.93,139.49 327.41,139.66 327.9,139.85 328.38,140.07 328.86,140.34 329.35,140.64 329.83,140.97 330.32,141.33 330.8,141.69 331.28,142.07 331.77,142.46 332.25,142.85 332.74,143.25 333.22,143.65 333.7,144.05 334.19,144.45 334.67,144.85 335.16,145.26 335.64,145.66 336.12,146.07 336.61,146.47 337.09,146.88 337.58,147.29 338.06,147.69 338.54,148.1 339.03,148.51 339.51,148.91 340,149.32 340.48,149.73 340.96,150.13 341.45,150.54 341.93,150.95 342.42,151.35 342.9,151.76 343.38,152.16 343.87,152.57 344.35,152.97 344.84,153.38 345.32,153.78 345.8,154.18 346.29,154.59 346.77,154.99 347.26,155.39 347.74,155.79 348.22,156.18 348.71,156.58 349.19,156.97 349.67,157.37 350.16,157.75 350.64,158.14 351.13,158.52 351.61,158.9 352.09,159.27 352.58,159.63 353.06,159.97 353.55,160.31 354.03,160.62 354.51,160.91 355,161.15 355.48,161.35 355.97,161.48 356.45,161.53 356.93,161.5 357.42,161.38 357.9,161.2 358.39,160.96 358.87,160.68 359.35,160.37 359.84,160.04 360.32,159.7 360.81,159.34 361.29,158.97 361.77,158.6 362.26,158.22 362.74,157.83 363.23,157.45 363.71,157.05 364.19,156.66 364.68,156.27 365.16,155.87 365.65,155.47 366.13,155.07 366.61,154.67 367.1,154.27 367.58,153.86 368.07,153.46 368.55,153.06 369.03,152.65 369.52,152.25 370,151.84 370.49,151.43 370.97,151.03 371.45,150.62 371.94,150.22 372.42,149.81 372.9,149.4 373.39,149 373.87,148.59 374.36,148.18 374.84,147.78 375.32,147.37 375.81,146.96 376.29,146.56 376.78,146.15 377.26,145.74 377.74,145.34 378.23,144.94 378.71,144.53 379.2,144.13 379.68,143.73 380.16,143.33 380.65,142.93 381.13,142.54 381.62,142.15 382.1,141.77 382.58,141.4 383.07,141.04 383.55,140.71 384.04,140.4 384.52,140.12 385,139.89 385.49,139.69 385.97,139.52 386.46,139.37 386.94,139.24 387.42,139.11 387.91,138.99 388.39,138.88 388.88,138.77 389.36,138.66 389.84,138.56 390.33,138.45 390.81,138.35 391.3,138.25 391.78,138.15 392.26,138.04 392.75,137.94 393.23,137.84 393.72,137.75 394.2,137.65 394.68,137.55 395.17,137.45 395.65,137.35 396.13,137.25 396.62,137.15 397.1,137.06 397.59,136.96 398.07,136.86 398.55,136.76 399.04,136.67 399.52,136.57 400.01,136.47 400.49,136.38 400.97,136.28 401.46,136.18 401.94,136.09 402.43,135.99 402.91,135.89 399.63,136.55" fill="none" stroke="#000" stroke-width="0.9" stroke-linejoin="round" stroke-dasharray="3.0 1.0"/>
<polygon points="403.39,135.8 399.02,138.4 398.35,135.07" fill="#000"/>
<polyline points="419.5,132.5 435.61,127.86" fill="none" stroke="#000" stroke-width="0.9" stroke-linejoin="round" stroke-dasharray="3.0 1.0"/>
<polygon points="439.3,126.8 435.16,129.76 434.22,126.49" fill="#000"/>
<polyline points="416.3,146.6 435.71,160.92" fill="none" stroke="#000" stroke-width="0.9" stroke-linejoin="round" />
<polygon points="438.8,163.2 433.93,161.72 435.95,158.98" fill="#000"/>
<rect x="269.3" y="79.5" width="174.4" height="93.6" fill="none" stroke="#3c3c3c" stroke-width="0.8"/>
<line x1="269.3" y1="157.5" x2="271.2" y2="157.5" stroke="#3c3c3c" stroke-width="0.8" />
<line x1="443.7" y1="157.5" x2="441.8" y2="157.5" stroke="#3c3c3c" stroke-width="0.8" />
<line x1="269.3" y1="126.3" x2="271.2" y2="126.3" stroke="#3c3c3c" stroke-width="0.8" />
<line x1="443.7" y1="126.3" x2="441.8" y2="126.3" stroke="#3c3c3c" stroke-width="0.8" />
<line x1="269.3" y1="95.1" x2="271.2" y2="95.1" stroke="#3c3c3c" stroke-width="0.8" />
<line x1="443.7" y1="95.1" x2="441.8" y2="95.1" stroke="#3c3c3c" stroke-width="0.8" />
<line x1="278.99" y1="173.1" x2="278.99" y2="171.2" stroke="#3c3c3c" stroke-width="0.8" />
<line x1="317.74" y1="173.1" x2="317.74" y2="171.2" stroke="#3c3c3c" stroke-width="0.8" />
<line x1="356.5" y1="173.1" x2="356.5" y2="171.2" stroke="#3c3c3c" stroke-width="0.8" />
<line x1="395.26" y1="173.1" x2="395.26" y2="171.2" stroke="#3c3c3c" stroke-width="0.8" />
<line x1="434.01" y1="173.1" x2="434.01" y2="171.2" stroke="#3c3c3c" stroke-width="0.8" />
<line x1="283.6" y1="79.5" x2="283.6" y2="81.4" stroke="#3c3c3c" stroke-width="0.8" />
<line x1="320" y1="79.5" x2="320" y2="81.4" stroke="#3c3c3c" stroke-width="0.8" />
<line x1="356.4" y1="79.5" x2="356.4" y2="81.4" stroke="#3c3c3c" stroke-width="0.8" />
<line x1="392.8" y1="79.5" x2="392.8" y2="81.4" stroke="#3c3c3c" stroke-width="0.8" />
<line x1="429.2" y1="79.5" x2="429.2" y2="81.4" stroke="#3c3c3c" stroke-width="0.8" />
<text x="266.1" y="160.3" font-size="9.3" text-anchor="end" fill="#262626"  stroke="#262626" stroke-width="0.2">7</text>
<text x="266.1" y="129.1" font-size="9.3" text-anchor="end" fill="#262626"  stroke="#262626" stroke-width="0.2">8</text>
<text x="266.1" y="97.9" font-size="9.3" text-anchor="end" fill="#262626"  stroke="#262626" stroke-width="0.2">9</text>
<text x="278.99" y="184.3" font-size="9.3" text-anchor="middle" fill="#262626"  stroke="#262626" stroke-width="0.2">0.6</text>
<text x="317.74" y="184.3" font-size="9.3" text-anchor="middle" fill="#262626"  stroke="#262626" stroke-width="0.2">0.8</text>
<text x="356.5" y="184.3" font-size="9.3" text-anchor="middle" fill="#262626"  stroke="#262626" stroke-width="0.2">1</text>
<text x="395.26" y="184.3" font-size="9.3" text-anchor="middle" fill="#262626"  stroke="#262626" stroke-width="0.2">1.2</text>
<text x="434.01" y="184.3" font-size="9.3" text-anchor="middle" fill="#262626"  stroke="#262626" stroke-width="0.2">1.4</text>
<text x="283.6" y="76" font-size="9.3" text-anchor="middle" fill="#262626"  stroke="#262626" stroke-width="0.2">-2</text>
<text x="320" y="76" font-size="9.3" text-anchor="middle" fill="#262626"  stroke="#262626" stroke-width="0.2">-1</text>
<text x="356.4" y="76" font-size="9.3" text-anchor="middle" fill="#262626"  stroke="#262626" stroke-width="0.2">0</text>
<text x="392.8" y="76" font-size="9.3" text-anchor="middle" fill="#262626"  stroke="#262626" stroke-width="0.2">1</text>
<text x="429.2" y="76" font-size="9.3" text-anchor="middle" fill="#262626"  stroke="#262626" stroke-width="0.2">2</text>
<text x="356.5" y="64.9" font-size="9.4" text-anchor="middle" fill="#262626"  stroke="#262626" stroke-width="0.2">Time (ms)</text>
<text font-size="9.4" fill="#262626" stroke="#262626" stroke-width="0.2"><tspan x="302.6" y="195.9">Quasimomentum</tspan><tspan x="378.1" y="195.9" font-style="italic">q</tspan><tspan x="387.5" y="195.9">(</tspan><tspan x="391.5" y="195.9" font-style="italic">ħk</tspan><tspan x="402" y="199.4" font-size="7.3">L</tspan><tspan x="407.4" y="195.9">)</tspan></text>
<text x="367" y="118.1" font-size="10" text-anchor="middle" fill="#26a1c9" font-style="italic" >D</text>
<text x="366.8" y="152" font-size="10" text-anchor="middle" fill="#9cc47e" font-style="italic" >F</text>
<text x="420.7" y="130.4" font-size="10" text-anchor="middle" fill="#f67e2a" font-style="italic" >P</text>
<text transform="translate(254,178.75) rotate(-90)" font-size="9.4" fill="#262626" stroke="#262626" stroke-width="0.2"><tspan x="-0.6" y="0">Dressed Energy</tspan><tspan x="71.0" y="0" font-style="italic">E</tspan><tspan x="83.3" y="0">(</tspan><tspan x="87.0" y="0" font-style="italic">E</tspan><tspan x="93.6" y="3.4" font-size="7.3">R</tspan><tspan x="100.4" y="0">)</tspan></text>
<polyline points="502.7,31.8 502.9,31.5 503.2,31 503.4,30.5 503.7,30.1 503.9,29.7 504.2,29.4 504.4,29.3 504.7,29.5 504.9,30 505.2,30.7 505.4,31.6 505.7,32.8 505.9,34.1 506.2,35.5 506.4,36.8 506.7,38 506.9,39 507.2,39.7 507.4,39.9 507.7,39.8 507.9,39.1 508.2,38 508.4,36.3 508.7,34.3 508.9,32 509.2,29.5 509.4,26.9 509.7,24.3 509.9,22 510.2,20.1 510.4,18.6 510.7,17.8 510.9,17.7 511.2,18.4 511.4,19.8 511.7,21.9 511.9,24.7 512.2,28.1 512.4,31.8 512.7,35.7 512.9,39.6 513.2,43.3 513.4,46.5 513.7,48.9 513.9,50.3 514.2,50.7 514.4,50.2 514.7,48.7 514.9,46.4 515.2,43.4 515.4,39.8 515.7,35.7 515.9,31.5 516.2,27.3 516.4,23.3 516.7,19.7 516.9,16.8 517.2,14.6 517.4,13.3 517.7,12.9 517.9,13.5 518.2,15 518.4,17.4 518.7,20.5 518.9,24.1 519.2,28.2 519.4,32.4 519.7,36.6 519.9,40.6 520.2,44.1 520.4,47 520.7,49.1 520.9,50.4 521.2,50.7 521.4,50 521.7,48.4 521.9,46 522.2,42.9 522.4,39.2 522.7,35.1 522.9,30.8 523.2,26.6 523.4,22.7 523.7,19.2 523.9,16.4 524.2,14.3 524.4,13.2 524.7,12.9 524.9,13.7 525.2,15.3 525.4,17.8 525.7,21 525.9,24.7 526.2,28.8 526.4,33.1 526.7,37.3 526.9,41.2 527.2,44.6 527.4,47.4 527.7,49.4 527.9,50.5 528.2,50.6 528.4,49.8 528.7,48.1 528.9,45.6 529.2,42.3 529.4,38.6 529.7,34.5 529.9,30.2 530.2,26 530.4,22.1 530.7,18.8 530.9,16 531.2,14.1 531.4,13.1 531.7,13 531.9,13.9 532.2,15.6 532.4,18.2 532.6,21.5 532.9,25.3 533.1,29.5 533.4,33.7 533.6,37.9 533.9,41.7 534.1,45.1 534.4,47.8 534.6,49.6 534.9,50.6 535.1,50.6 535.4,49.6 535.6,47.8 535.9,45.1 536.1,41.8 536.4,38 536.6,33.8 536.9,29.5 537.1,25.4 537.4,21.6 537.6,18.3 537.9,15.7 538.1,13.9 538.4,13 538.6,13.1 538.9,14.1 539.1,16 539.4,18.7 539.6,22.1 539.9,26 540.1,30.1 540.4,34.4 540.6,38.5 540.9,42.3 541.1,45.5 541.4,48.1 541.6,49.8 541.9,50.6 542.1,50.5 542.4,49.4 542.6,47.4 542.9,44.7 543.1,41.2 543.4,37.3 543.6,33.2 543.9,28.9 544.1,24.8 544.4,21 544.6,17.8 544.9,15.3 545.1,13.7 545.4,12.9 545.6,13.1 545.9,14.3 546.1,16.4 546.4,19.2 546.6,22.6 546.9,26.6 547.1,30.8 547.4,35 547.6,39.1 547.9,42.8 548.1,46 548.4,48.4 548.6,50 548.9,50.7 549.1,50.4 549.4,49.2 549.6,47.1 549.9,44.2 550.1,40.7 550.4,36.7 550.6,32.5 550.9,28.3 551.1,24.2 551.4,20.5 551.6,17.4 551.9,15 552.1,13.5 552.4,12.9 552.6,13.3 552.9,14.6 553.1,16.7 553.4,19.7 553.6,23.2 553.9,27.2 554.1,31.4 554.4,35.7 554.6,39.7 554.9,43.3 555.1,46.4 555.4,48.7 555.6,50.2 555.9,50.7 556.1,50.3 556.4,48.9 556.6,46.7 556.9,43.7 557.1,40.1 557.4,36.1 557.6,31.9 557.9,27.6 558.1,23.6 558.4,20 558.6,17 558.9,14.7 559.1,13.4 559.4,12.9 559.6,13.4 559.9,14.8 560.1,17.1 560.4,20.2 560.6,23.8 560.9,27.8 561.1,32.1 561.4,36.3 561.6,40.3 561.8,43.9 562.1,46.8 562.3,49 562.6,50.3 562.8,50.7 563.1,50.1 563.3,48.6 563.6,46.3 563.8,43.2 564.1,39.5 564.3,35.4 564.6,31.2 564.8,27 565.1,23 565.3,19.5 565.6,16.6 565.8,14.5 566.1,13.2 566.3,12.9 566.6,13.6 566.8,15.1 567.1,17.6 567.3,20.7 567.6,24.4 567.8,28.5 568.1,32.7 568.3,36.9 568.6,40.9 568.8,44.3 569.1,47.2 569.3,49.3 569.6,50.4 569.8,50.7 570.1,49.9 570.3,48.3 570.6,45.8 570.8,42.6 571.1,38.9 571.3,34.8 571.6,30.5 571.8,26.4 572.1,22.4 572.3,19 572.6,16.2 572.8,14.2 573.1,13.1 573.3,13 573.6,13.7 573.8,15.5 574.1,18 574.3,21.2 574.6,25 574.8,29.1 575.1,33.4 575.3,37.6 575.6,41.4 575.8,44.8 576.1,47.6 576.3,49.5 576.6,50.5 576.8,50.6 577.1,49.8 577.3,48 577.6,45.4 577.8,42.1 578.1,38.3 578.3,34.2 578.6,29.9 578.8,25.7 579.1,21.9 579.3,18.5 579.6,15.9 579.8,14 580.1,13 580.3,13 580.6,14.1 580.8,16.3 581.1,19.2 581.3,22.5 581.6,26.2 581.8,30 582.1,33.7 582.3,37.1 582.6,40 582.8,42.4 583.1,44.1 583.3,45 583.6,45.3 583.8,44.8 584.1,43.7 584.3,42 584.6,40 584.8,37.7 585.1,35.2 585.3,32.7 585.6,30.4 585.8,28.4 586.1,26.7 586.3,25.5 586.6,24.7 586.8,24.3 587.1,24.4 587.3,24.9 587.6,25.7 587.8,26.7 588.1,27.9 588.3,29.2 588.6,30.4 588.8,31.5 589.1,32.4 589.3,33.1 589.6,33.5 589.8,33.7 590.1,33.7 590.3,33.5 590.6,33.1 590.8,32.7 590.9,32.5 591.1,31.7 591.4,30.9 591.6,30.5 591.9,30 592.1,29.7 592.4,29.6 592.6,29.7 592.9,30.1 593.1,30.8 593.4,31.7 593.6,32.8 593.9,34 594.1,35.3 594.4,36.6 594.6,37.8 594.9,38.8 595.1,39.4 595.4,39.7 595.6,39.5 595.9,38.8 596.1,37.7 596.4,36 596.6,34 596.9,31.7 597.1,29.1 597.4,26.5 597.6,24 597.9,21.8 598.1,19.9 598.4,18.6 598.6,17.9 598.9,17.9 599.1,18.7 599.4,20.3 599.6,22.6 599.9,25.5 600.1,28.9 600.4,32.7 600.6,36.7 600.9,40.6 601.1,44.2 601.4,47.3 601.6,49.4 601.9,50.5 602.1,50.6 602.4,49.8 602.6,48.1 602.9,45.5 603.1,42.3 603.4,38.4 603.6,34.3 603.9,30 604.1,25.8 604.4,21.9 604.6,18.5 604.9,15.8 605.1,14 605.4,13 605.6,13 605.9,14 606.1,15.9 606.4,18.6 606.6,22 606.9,25.9 607.1,30.1 607.4,34.4 607.6,38.6 607.9,42.4 608.1,45.6 608.4,48.2 608.6,49.9 608.9,50.7 609.1,50.5 609.4,49.3 609.6,47.3 609.9,44.4 610.1,40.9 610.4,36.9 610.6,32.7 610.9,28.4 611.1,24.3 611.4,20.6 611.6,17.5 611.9,15 612.1,13.5 612.4,12.9 612.6,13.3 612.9,14.6 613.1,16.8 613.4,19.8 613.6,23.4 613.9,27.4 614.1,31.7 614.4,36 614.6,40 614.9,43.6 615.1,46.7 615.4,48.9 615.6,50.3 615.9,50.7 616.1,50.1 616.4,48.7 616.6,46.3 616.9,43.2 617.1,39.5 617.4,35.4 617.6,31.1 617.9,26.9 618.1,22.9 618.4,19.4 618.6,16.5 618.9,14.4 619.1,13.2 619.4,12.9 619.6,13.7 619.9,15.3 620.1,17.8 620.4,21.1 620.6,24.8 620.9,29 621.1,33.3 621.4,37.5 621.6,41.4 621.9,44.8 622.1,47.6 622.4,49.5 622.6,50.5 622.9,50.6 623.1,49.7 623.4,47.9 623.6,45.2 623.9,41.9 624.1,38 624.4,33.8 624.6,29.5 624.9,25.4 625.1,21.5 625.4,18.2 625.6,15.6 625.9,13.8 626.1,13 626.4,13.1 626.6,14.2 626.9,16.2 627.1,19 627.4,22.4 627.6,26.3 627.9,30.6 628.1,34.8 628.4,39 628.6,42.7 628.9,45.9 629.1,48.4 629.4,50 629.6,50.7 629.9,50.4 630.1,49.1 630.4,47 630.6,44.1 630.9,40.5 631.1,36.5 631.4,32.2 631.6,28 631.9,23.9 632.1,20.2 632.4,17.2 632.6,14.8 632.9,13.4 633.1,12.9 633.4,13.4 633.6,14.8 633.9,17.1 634.1,20.2 634.4,23.8 634.6,27.9 634.9,32.1 635.1,36.4 635.3,40.4 635.6,44 635.8,46.9 636.1,49.1 636.3,50.4 636.6,50.7 636.8,50 637.1,48.4 637.3,46 637.6,42.8 637.8,39.1 638.1,34.9 638.3,30.7 638.6,26.4 638.8,22.5 639.1,19 639.3,16.2 639.6,14.2 639.8,13.1 640.1,13 640.3,13.8 640.6,15.6 640.8,18.1 641.1,21.4 641.3,25.3 641.6,29.4 641.8,33.7 642.1,37.9 642.3,41.8 642.6,45.2 642.8,47.8 643.1,49.7 643.3,50.6 643.6,50.6 643.8,49.5 644.1,47.6 644.3,44.9 644.6,41.5 644.8,37.6 645.1,33.4 645.3,29.1 645.6,24.9 645.8,21.1 646.1,17.9 646.3,15.4 646.6,13.7 646.8,12.9 647.1,13.2 647.3,14.3 647.6,16.4 647.8,19.3 648.1,22.8 648.3,26.8 648.6,31 648.8,35.3 649.1,39.4 649.3,43.1 649.6,46.2 649.8,48.6 650.1,50.1 650.3,50.7 650.6,50.3 650.8,48.9 651.1,46.7 651.3,43.7 651.6,40.1 651.8,36 652.1,31.8 652.3,27.5 652.6,23.5 652.8,19.9 653.1,16.9 653.3,14.6 653.6,13.3 653.8,12.9 654.1,13.5 654.3,15 654.6,17.4 654.8,20.5 655.1,24.2 655.3,28.3 655.6,32.6 655.8,36.8 656.1,40.8 656.3,44.3 656.6,47.2 656.8,49.3 657.1,50.4 657.3,50.7 657.6,49.9 657.8,48.2 658.1,45.7 658.3,42.4 658.6,38.6 658.8,34.5 659.1,30.2 659.3,26 659.6,22.1 659.8,18.7 660.1,16 660.3,14 660.6,13 660.8,13 661.1,13.9 661.3,15.8 661.6,18.5 661.8,21.8 662.1,25.7 662.3,29.9 662.6,34.2 662.8,38.3 663.1,42.2 663.3,45.5 663.6,48.1 663.8,49.8 664.1,50.6 664.3,50.5 664.6,49.4 664.8,47.4 665.1,44.6 665.3,41.1 665.6,37.1 665.8,32.9 666.1,28.6 666.3,24.5 666.6,20.8 666.8,17.6 667.1,15.1 667.3,13.6 667.6,12.9 667.8,13.2 668.1,14.5 668.3,16.7 668.6,19.6 668.8,23.2 669.1,27.3 669.3,31.5 669.6,35.5 669.8,39 670.1,42.1 670.3,44.4 670.6,46 670.8,46.7 671.1,46.6 671.3,45.8 671.6,44.3 671.8,42.2 672.1,39.8 672.3,37 672.6,34.2 672.8,31.5 673.1,29 673.3,26.8 673.6,25.1 673.8,23.8 674.1,23.1 674.3,23 674.6,23.3 674.8,24 675.1,25.1 675.3,26.4 675.6,27.9 675.8,29.4 676.1,30.9 676.3,32.2 676.6,33.2 676.8,34 677.1,34.6 677.3,34.8 677.6,34.7 677.8,34.5 678.1,34 678.3,33.5 678.6,33 678.8,32.4 679.1,32 679.3,31.8" fill="none" stroke="#f67e2a" stroke-width="1.7" stroke-linejoin="round" stroke-linecap="round" />
<clipPath id="c3"><rect x="503.3" y="79.7" width="175.3" height="93.4"/></clipPath>
<polyline points="503.3,123.3 503.8,123.4 504.3,123.5 504.8,123.6 505.3,123.8 505.7,123.9 506.2,124 506.7,124.1 507.2,124.2 507.7,124.3 508.2,124.5 508.7,124.6 509.2,124.7 509.6,124.8 510.1,124.9 510.6,125 511.1,125.1 511.6,125.2 512.1,125.3 512.6,125.4 513.1,125.6 513.6,125.7 514,125.8 514.5,125.9 515,126 515.5,126.1 516,126.2 516.5,126.3 517,126.4 517.5,126.5 517.9,126.6 518.4,126.7 518.9,126.8 519.4,126.9 519.9,127 520.4,127.1 520.9,127.1 521.4,127.2 521.9,127.3 522.3,127.4 522.8,127.5 523.3,127.6 523.8,127.7 524.3,127.8 524.8,127.9 525.3,127.9 525.8,128 526.3,128.1 526.7,128.2 527.2,128.3 527.7,128.4 528.2,128.4 528.7,128.5 529.2,128.6 529.7,128.7 530.2,128.7 530.6,128.8 531.1,128.9 531.6,129 532.1,129 532.6,129.1 533.1,129.1 533.6,129.2 534.1,129.3 534.6,129.3 535,129.4 535.5,129.4 536,129.5 536.5,129.5 537,129.6 537.5,129.6 538,129.7 538.5,129.7 538.9,129.7 539.4,129.7 539.9,129.7 540.4,129.7 540.9,129.7 541.4,129.7 541.9,129.7 542.4,129.7 542.9,129.6 543.3,129.5 543.8,129.4 544.3,129.3 544.8,129.2 545.3,129.1 545.8,128.9" fill="none" stroke="#f67e2a" stroke-width="1.6" stroke-linejoin="round" stroke-linecap="round" clip-path="url(#c3)"/>
<polyline points="545.8,128.9 546.3,128.7 546.8,128.5 547.2,128.2 547.7,127.9 548.2,127.7 548.7,127.4 549.2,127.1 549.7,126.7 550.2,126.4 550.7,126.1 551.2,125.7 551.6,125.4 552.1,125 552.6,124.7 553.1,124.3 553.6,123.9 554.1,123.6 554.6,123.2 555.1,122.8 555.5,122.4 556,122 556.5,121.7 557,121.3 557.5,120.9 558,120.5 558.5,120.1 559,119.7 559.5,119.3 559.9,119 560.4,118.6 560.9,118.2 561.4,117.8 561.9,117.4 562.4,117 562.9,116.6 563.4,116.2 563.8,115.8 564.3,115.4 564.8,115 565.3,114.6 565.8,114.2 566.3,113.8 566.8,113.5 567.3,113.1 567.8,112.7 568.2,112.3 568.7,111.9 569.2,111.5 569.7,111.1 570.2,110.7 570.7,110.3 571.2,109.9 571.7,109.5 572.2,109.1 572.6,108.8 573.1,108.4 573.6,108 574.1,107.6 574.6,107.2 575.1,106.8 575.6,106.4 576.1,106.1 576.5,105.7 577,105.3 577.5,104.9 578,104.5 578.5,104.2 579,103.8 579.5,103.4 580,103.1 580.5,102.7 580.9,102.3 581.4,102 581.9,101.6 582.4,101.3 582.9,100.9 583.4,100.6 583.9,100.3 584.4,100 584.8,99.7 585.3,99.4 585.8,99.1 586.3,98.8 586.8,98.5 587.3,98.3 587.8,98.1 588.3,97.9 588.8,97.7 589.2,97.6 589.7,97.5 590.2,97.4 590.7,97.4 591.2,97.4 591.7,97.4 592.2,97.5 592.7,97.6 593.1,97.7 593.6,97.9 594.1,98.1 594.6,98.3 595.1,98.5 595.6,98.8 596.1,99.1 596.6,99.4 597.1,99.7 597.5,100 598,100.3 598.5,100.6 599,100.9 599.5,101.3 600,101.6 600.5,102 601,102.3 601.4,102.7 601.9,103.1 602.4,103.4 602.9,103.8 603.4,104.2 603.9,104.5 604.4,104.9 604.9,105.3 605.4,105.7 605.8,106.1 606.3,106.4 606.8,106.8 607.3,107.2 607.8,107.6 608.3,108 608.8,108.4 609.3,108.8 609.7,109.1 610.2,109.5 610.7,109.9 611.2,110.3 611.7,110.7 612.2,111.1 612.7,111.5 613.2,111.9 613.7,112.3 614.1,112.7 614.6,113.1 615.1,113.5 615.6,113.8 616.1,114.2 616.6,114.6 617.1,115 617.6,115.4 618.1,115.8 618.5,116.2 619,116.6 619.5,117 620,117.4 620.5,117.8 621,118.2 621.5,118.6 622,119 622.4,119.3 622.9,119.7 623.4,120.1 623.9,120.5 624.4,120.9 624.9,121.3 625.4,121.7 625.9,122 626.4,122.4 626.8,122.8 627.3,123.2 627.8,123.6 628.3,123.9 628.8,124.3 629.3,124.7 629.8,125 630.3,125.4 630.7,125.7 631.2,126.1 631.7,126.4 632.2,126.7 632.7,127.1 633.2,127.4 633.7,127.7 634.2,127.9 634.7,128.2 635.1,128.5 635.6,128.7 636.1,128.9 636.6,129.1" fill="none" stroke="#26a1c9" stroke-width="1.6" stroke-linejoin="round" stroke-linecap="round" clip-path="url(#c3)"/>
<polyline points="636.6,129.1 637.1,129.2 637.6,129.3 638.1,129.4 638.6,129.5 639,129.6 639.5,129.7 640,129.7 640.5,129.7 641,129.7 641.5,129.7 642,129.7 642.5,129.7 643,129.7 643.4,129.7 643.9,129.7 644.4,129.6 644.9,129.6 645.4,129.5 645.9,129.5 646.4,129.4 646.9,129.4 647.3,129.3 647.8,129.3 648.3,129.2 648.8,129.1 649.3,129.1 649.8,129 650.3,129 650.8,128.9 651.3,128.8 651.7,128.7 652.2,128.7 652.7,128.6 653.2,128.5 653.7,128.4 654.2,128.4 654.7,128.3 655.2,128.2 655.6,128.1 656.1,128 656.6,127.9 657.1,127.9 657.6,127.8 658.1,127.7 658.6,127.6 659.1,127.5 659.6,127.4 660,127.3 660.5,127.2 661,127.1 661.5,127.1 662,127 662.5,126.9 663,126.8 663.5,126.7 664,126.6 664.4,126.5 664.9,126.4 665.4,126.3 665.9,126.2 666.4,126.1 666.9,126 667.4,125.9 667.9,125.8 668.3,125.7 668.8,125.6 669.3,125.4 669.8,125.3 670.3,125.2 670.8,125.1 671.3,125 671.8,124.9 672.3,124.8 672.7,124.7 673.2,124.6 673.7,124.5 674.2,124.3 674.7,124.2 675.2,124.1 675.7,124 676.2,123.9 676.6,123.8 677.1,123.6 677.6,123.5 678.1,123.4 678.6,123.3" fill="none" stroke="#f67e2a" stroke-width="1.6" stroke-linejoin="round" stroke-linecap="round" clip-path="url(#c3)"/>
<polyline points="503.3,166.8 503.8,166.4 504.3,166 504.8,165.6 505.3,165.2 505.7,164.8 506.2,164.3 506.7,163.9 507.2,163.5 507.7,163.1 508.2,162.7 508.7,162.3 509.2,161.9 509.6,161.5 510.1,161.1 510.6,160.7 511.1,160.3 511.6,159.9 512.1,159.5 512.6,159.1 513.1,158.7 513.6,158.2 514,157.8 514.5,157.4 515,157 515.5,156.6 516,156.2 516.5,155.8 517,155.4 517.5,155 517.9,154.6 518.4,154.2 518.9,153.8 519.4,153.4 519.9,153 520.4,152.6 520.9,152.2 521.4,151.8 521.9,151.4 522.3,151 522.8,150.6 523.3,150.2 523.8,149.8 524.3,149.4 524.8,148.9 525.3,148.5 525.8,148.1 526.3,147.7 526.7,147.3 527.2,146.9 527.7,146.5 528.2,146.1 528.7,145.7 529.2,145.3 529.7,145 530.2,144.6 530.6,144.2 531.1,143.8 531.6,143.4 532.1,143 532.6,142.6 533.1,142.2 533.6,141.8 534.1,141.4 534.6,141 535,140.6 535.5,140.3 536,139.9 536.5,139.5 537,139.1 537.5,138.8 538,138.4 538.5,138 538.9,137.7 539.4,137.3 539.9,137 540.4,136.6 540.9,136.3 541.4,136 541.9,135.6 542.4,135.3 542.9,135.1 543.3,134.8 543.8,134.5 544.3,134.3 544.8,134.1 545.3,133.9 545.8,133.7" fill="none" stroke="#26a1c9" stroke-width="1.6" stroke-linejoin="round" stroke-linecap="round" clip-path="url(#c3)"/>
<polyline points="545.8,133.7 546.3,133.6 546.8,133.5 547.2,133.4 547.7,133.3 548.2,133.2 548.7,133.2 549.2,133.1 549.7,133.1 550.2,133.1 550.7,133.1 551.2,133.1 551.6,133.1 552.1,133.1 552.6,133.1 553.1,133.1 553.6,133.1 554.1,133.1 554.6,133.1 555.1,133.2 555.5,133.2 556,133.2 556.5,133.2 557,133.3 557.5,133.3 558,133.3 558.5,133.4 559,133.4 559.5,133.4 559.9,133.5 560.4,133.5 560.9,133.5 561.4,133.5 561.9,133.6 562.4,133.6 562.9,133.6 563.4,133.7 563.8,133.7 564.3,133.7 564.8,133.8 565.3,133.8 565.8,133.8 566.3,133.8 566.8,133.9 567.3,133.9 567.8,133.9 568.2,133.9 568.7,134 569.2,134 569.7,134 570.2,134 570.7,134.1 571.2,134.1 571.7,134.1 572.2,134.1 572.6,134.2 573.1,134.2 573.6,134.2 574.1,134.2 574.6,134.2 575.1,134.3 575.6,134.3 576.1,134.3 576.5,134.3 577,134.3 577.5,134.4 578,134.4 578.5,134.4 579,134.4 579.5,134.4 580,134.4 580.5,134.4 580.9,134.5 581.4,134.5 581.9,134.5 582.4,134.5 582.9,134.5 583.4,134.5 583.9,134.5 584.4,134.5 584.8,134.5 585.3,134.5 585.8,134.5 586.3,134.5 586.8,134.5 587.3,134.6 587.8,134.6 588.3,134.6 588.8,134.6 589.2,134.6 589.7,134.6 590.2,134.6 590.7,134.6 591.2,134.6 591.7,134.6 592.2,134.6 592.7,134.6 593.1,134.6 593.6,134.6 594.1,134.6 594.6,134.6 595.1,134.5 595.6,134.5 596.1,134.5 596.6,134.5 597.1,134.5 597.5,134.5 598,134.5 598.5,134.5 599,134.5 599.5,134.5 600,134.5 600.5,134.5 601,134.5 601.4,134.4 601.9,134.4 602.4,134.4 602.9,134.4 603.4,134.4 603.9,134.4 604.4,134.4 604.9,134.3 605.4,134.3 605.8,134.3 606.3,134.3 606.8,134.3 607.3,134.2 607.8,134.2 608.3,134.2 608.8,134.2 609.3,134.2 609.7,134.1 610.2,134.1 610.7,134.1 611.2,134.1 611.7,134 612.2,134 612.7,134 613.2,134 613.7,133.9 614.1,133.9 614.6,133.9 615.1,133.9 615.6,133.8 616.1,133.8 616.6,133.8 617.1,133.8 617.6,133.7 618.1,133.7 618.5,133.7 619,133.6 619.5,133.6 620,133.6 620.5,133.5 621,133.5 621.5,133.5 622,133.5 622.4,133.4 622.9,133.4 623.4,133.4 623.9,133.3 624.4,133.3 624.9,133.3 625.4,133.2 625.9,133.2 626.4,133.2 626.8,133.2 627.3,133.1 627.8,133.1 628.3,133.1 628.8,133.1 629.3,133.1 629.8,133.1 630.3,133.1 630.7,133.1 631.2,133.1 631.7,133.1 632.2,133.1 632.7,133.1 633.2,133.2 633.7,133.2 634.2,133.3 634.7,133.4 635.1,133.5 635.6,133.6 636.1,133.7 636.6,133.9" fill="none" stroke="#f67e2a" stroke-width="1.6" stroke-linejoin="round" stroke-linecap="round" clip-path="url(#c3)"/>
<polyline points="636.6,133.9 637.1,134.1 637.6,134.3 638.1,134.5 638.6,134.8 639,135.1 639.5,135.3 640,135.6 640.5,136 641,136.3 641.5,136.6 642,137 642.5,137.3 643,137.7 643.4,138 643.9,138.4 644.4,138.8 644.9,139.1 645.4,139.5 645.9,139.9 646.4,140.3 646.9,140.6 647.3,141 647.8,141.4 648.3,141.8 648.8,142.2 649.3,142.6 649.8,143 650.3,143.4 650.8,143.8 651.3,144.2 651.7,144.6 652.2,145 652.7,145.3 653.2,145.7 653.7,146.1 654.2,146.5 654.7,146.9 655.2,147.3 655.6,147.7 656.1,148.1 656.6,148.5 657.1,148.9 657.6,149.4 658.1,149.8 658.6,150.2 659.1,150.6 659.6,151 660,151.4 660.5,151.8 661,152.2 661.5,152.6 662,153 662.5,153.4 663,153.8 663.5,154.2 664,154.6 664.4,155 664.9,155.4 665.4,155.8 665.9,156.2 666.4,156.6 666.9,157 667.4,157.4 667.9,157.8 668.3,158.2 668.8,158.7 669.3,159.1 669.8,159.5 670.3,159.9 670.8,160.3 671.3,160.7 671.8,161.1 672.3,161.5 672.7,161.9 673.2,162.3 673.7,162.7 674.2,163.1 674.7,163.5 675.2,163.9 675.7,164.3 676.2,164.8 676.6,165.2 677.1,165.6 677.6,166 678.1,166.4 678.6,166.8" fill="none" stroke="#26a1c9" stroke-width="1.6" stroke-linejoin="round" stroke-linecap="round" clip-path="url(#c3)"/>
<polyline points="506.5,117.6 537.83,123.67" fill="none" stroke="#000" stroke-width="0.9" stroke-linejoin="round" />
<polygon points="541.6,124.4 536.56,125.16 537.21,121.82" fill="#000"/>
<polyline points="555.4,128.3 556.32,127.53 557.23,126.76 558.15,125.98 559.07,125.21 559.98,124.44 560.9,123.67 561.82,122.9 562.73,122.13 563.65,121.37 564.56,120.6 565.48,119.83 566.4,119.07 567.31,118.31 568.23,117.54 569.15,116.78 570.06,116.02 570.98,115.27 571.9,114.51 572.81,113.76 573.73,113.01 574.65,112.26 575.56,111.52 576.48,110.78 577.39,110.05 578.31,109.32 579.23,108.6 580.14,107.89 581.06,107.19 581.98,106.5 582.89,105.84 583.81,105.19 584.73,104.58 585.64,104 586.56,103.47 587.48,103.01 588.39,102.63 589.31,102.36 590.23,102.22 591.14,102.22 592.06,102.34 592.97,102.59 593.89,102.94 594.81,103.37 595.72,103.86 596.64,104.4 597.56,104.97 598.47,105.57 599.39,106.2 600.31,106.84 601.22,107.49 602.14,108.15 603.06,108.83 603.97,109.5 604.89,110.19 605.81,110.88 606.72,111.57 607.64,112.27 608.55,112.97 609.47,113.67 610.39,114.38 611.3,115.09 612.22,115.8 613.14,116.51 614.05,117.22 614.97,117.93 615.89,118.65 616.8,119.36 617.72,120.08 618.64,120.8 619.55,121.51 620.47,122.23 621.38,122.95 622.3,123.67 623.22,124.39 624.13,125.11 625.05,125.83 625.97,126.56 626.88,127.28 624.78,125.62" fill="none" stroke="#000" stroke-width="0.9" stroke-linejoin="round" stroke-dasharray="3.0 1.0"/>
<polygon points="627.8,128 622.98,126.36 625.08,123.69" fill="#000"/>
<polyline points="561,128.5 616.56,128.5" fill="none" stroke="#000" stroke-width="0.9" stroke-linejoin="round" stroke-dasharray="3.0 1.0"/>
<polygon points="620.4,128.5 615.6,130.2 615.6,126.8" fill="#000"/>
<polyline points="640.9,122.5 671.81,117.42" fill="none" stroke="#000" stroke-width="0.9" stroke-linejoin="round" stroke-dasharray="3.0 1.0"/>
<polygon points="675.6,116.8 671.14,119.26 670.59,115.9" fill="#000"/>
<polyline points="645.4,134.2 672.5,154.03" fill="none" stroke="#000" stroke-width="0.9" stroke-linejoin="round" />
<polygon points="675.6,156.3 670.72,154.84 672.73,152.09" fill="#000"/>
<rect x="503.3" y="79.7" width="175.3" height="93.4" fill="none" stroke="#3c3c3c" stroke-width="0.8"/>
<line x1="503.3" y1="173.1" x2="505.2" y2="173.1" stroke="#3c3c3c" stroke-width="0.8" />
<line x1="678.6" y1="173.1" x2="676.7" y2="173.1" stroke="#3c3c3c" stroke-width="0.8" />
<line x1="503.3" y1="138.4" x2="505.2" y2="138.4" stroke="#3c3c3c" stroke-width="0.8" />
<line x1="678.6" y1="138.4" x2="676.7" y2="138.4" stroke="#3c3c3c" stroke-width="0.8" />
<line x1="503.3" y1="103.7" x2="505.2" y2="103.7" stroke="#3c3c3c" stroke-width="0.8" />
<line x1="678.6" y1="103.7" x2="676.7" y2="103.7" stroke="#3c3c3c" stroke-width="0.8" />
<line x1="503.3" y1="173.1" x2="503.3" y2="171.2" stroke="#3c3c3c" stroke-width="0.8" />
<line x1="547.12" y1="173.1" x2="547.12" y2="171.2" stroke="#3c3c3c" stroke-width="0.8" />
<line x1="590.95" y1="173.1" x2="590.95" y2="171.2" stroke="#3c3c3c" stroke-width="0.8" />
<line x1="634.77" y1="173.1" x2="634.77" y2="171.2" stroke="#3c3c3c" stroke-width="0.8" />
<line x1="678.6" y1="173.1" x2="678.6" y2="171.2" stroke="#3c3c3c" stroke-width="0.8" />
<line x1="508.1" y1="79.7" x2="508.1" y2="81.6" stroke="#3c3c3c" stroke-width="0.8" />
<line x1="549.4" y1="79.7" x2="549.4" y2="81.6" stroke="#3c3c3c" stroke-width="0.8" />
<line x1="590.7" y1="79.7" x2="590.7" y2="81.6" stroke="#3c3c3c" stroke-width="0.8" />
<line x1="632" y1="79.7" x2="632" y2="81.6" stroke="#3c3c3c" stroke-width="0.8" />
<line x1="673.3" y1="79.7" x2="673.3" y2="81.6" stroke="#3c3c3c" stroke-width="0.8" />
<text x="500.1" y="175.9" font-size="9.3" text-anchor="end" fill="#262626"  stroke="#262626" stroke-width="0.2">3</text>
<text x="500.1" y="141.2" font-size="9.3" text-anchor="end" fill="#262626"  stroke="#262626" stroke-width="0.2">4</text>
<text x="500.1" y="106.5" font-size="9.3" text-anchor="end" fill="#262626"  stroke="#262626" stroke-width="0.2">5</text>
<text x="503.3" y="184.3" font-size="9.3" text-anchor="middle" fill="#262626"  stroke="#262626" stroke-width="0.2">0.6</text>
<text x="547.12" y="184.3" font-size="9.3" text-anchor="middle" fill="#262626"  stroke="#262626" stroke-width="0.2">0.8</text>
<text x="590.95" y="184.3" font-size="9.3" text-anchor="middle" fill="#262626"  stroke="#262626" stroke-width="0.2">1</text>
<text x="634.77" y="184.3" font-size="9.3" text-anchor="middle" fill="#262626"  stroke="#262626" stroke-width="0.2">1.2</text>
<text x="678.6" y="184.3" font-size="9.3" text-anchor="middle" fill="#262626"  stroke="#262626" stroke-width="0.2">1.4</text>
<text x="508.1" y="76" font-size="9.3" text-anchor="middle" fill="#262626"  stroke="#262626" stroke-width="0.2">-2</text>
<text x="549.4" y="76" font-size="9.3" text-anchor="middle" fill="#262626"  stroke="#262626" stroke-width="0.2">-1</text>
<text x="590.7" y="76" font-size="9.3" text-anchor="middle" fill="#262626"  stroke="#262626" stroke-width="0.2">0</text>
<text x="632" y="76" font-size="9.3" text-anchor="middle" fill="#262626"  stroke="#262626" stroke-width="0.2">1</text>
<text x="673.3" y="76" font-size="9.3" text-anchor="middle" fill="#262626"  stroke="#262626" stroke-width="0.2">2</text>
<text x="590.9" y="64.9" font-size="9.4" text-anchor="middle" fill="#262626"  stroke="#262626" stroke-width="0.2">Time (ms)</text>
<text font-size="9.4" fill="#262626" stroke="#262626" stroke-width="0.2"><tspan x="537.1" y="195.9">Quasimomentum</tspan><tspan x="612.6" y="195.9" font-style="italic">q</tspan><tspan x="622" y="195.9">(</tspan><tspan x="626" y="195.9" font-style="italic">ħk</tspan><tspan x="636.5" y="199.4" font-size="7.3">L</tspan><tspan x="641.9" y="195.9">)</tspan></text>
<text x="601.8" y="121.8" font-size="10" text-anchor="middle" fill="#26a1c9" font-style="italic" >D</text>
<text x="601.3" y="146" font-size="10" text-anchor="middle" fill="#f67e2a" font-style="italic" >P</text>
<text transform="translate(488,178.75) rotate(-90)" font-size="9.4" fill="#262626" stroke="#262626" stroke-width="0.2"><tspan x="-0.6" y="0">Dressed Energy</tspan><tspan x="71.0" y="0" font-style="italic">E</tspan><tspan x="83.3" y="0">(</tspan><tspan x="87.0" y="0" font-style="italic">E</tspan><tspan x="93.6" y="3.4" font-size="7.3">R</tspan><tspan x="100.4" y="0">)</tspan></text>
<text x="543.8" y="9" font-size="9.4" text-anchor="middle" fill="#262626"  stroke="#262626" stroke-width="0.2"><tspan font-style="italic">ϕ</tspan>=0</text>
<text font-size="9.4" fill="#262626" stroke="#262626" stroke-width="0.2"><tspan x="624.0" y="9.0" font-style="italic">ϕ</tspan><tspan x="630.2" y="9.0">=</tspan><tspan x="635.8" y="9.0" font-style="italic">ϕ</tspan><tspan x="642.2" y="12.2" font-size="7.5">Mod</tspan></text>
<text x="-0.8" y="255.6" font-size="10.5" text-anchor="start" fill="#000" font-weight="bold"  stroke="#000" stroke-width="0.2">b</text>
<text x="233.2" y="255.6" font-size="10.5" text-anchor="start" fill="#000" font-weight="bold"  stroke="#000" stroke-width="0.2">d</text>
<text x="467.4" y="255.6" font-size="10.5" text-anchor="start" fill="#000" font-weight="bold"  stroke="#000" stroke-width="0.2">f</text>
<clipPath id="c4"><rect x="34.2" y="250.4" width="175.9" height="127"/></clipPath>
<g>
<path d="M50,325H57M53.5,316.8V333.2" stroke="#9a650a" stroke-width="1.7" fill="none"/>
<path d="M52,331H59M55.5,322.17V339.83" stroke="#9a650a" stroke-width="1.7" fill="none"/>
<path d="M73,327H80M76.5,319.84V334.16" stroke="#9a650a" stroke-width="1.7" fill="none"/>
<path d="M74,334H81M77.5,325.96V342.04" stroke="#9a650a" stroke-width="1.7" fill="none"/>
<path d="M96,326H103M99.5,316.43V335.57" stroke="#9a650a" stroke-width="1.7" fill="none"/>
<path d="M97,333H104M100.5,323.41V342.59" stroke="#9a650a" stroke-width="1.7" fill="none"/>
<path d="M118,329H125M121.5,322.5V335.5" stroke="#9a650a" stroke-width="1.7" fill="none"/>
<path d="M142,326H149M145.5,319.17V332.83" stroke="#9a650a" stroke-width="1.7" fill="none"/>
<path d="M145,334H152M148.5,327.79V340.21" stroke="#9a650a" stroke-width="1.7" fill="none"/>
<path d="M165,329H172M168.5,321.24V336.76" stroke="#9a650a" stroke-width="1.7" fill="none"/>
<path d="M168,334H175M171.5,327.88V340.12" stroke="#9a650a" stroke-width="1.7" fill="none"/>
<path d="M189,328H196M192.5,320.17V335.83" stroke="#9a650a" stroke-width="1.7" fill="none"/>
<path d="M192,334H199M195.5,325.4V342.6" stroke="#9a650a" stroke-width="1.7" fill="none"/>
<path d="M39,300H46M42.5,292.89V307.11" stroke="#9a650a" stroke-width="1.7" fill="none"/>
<path d="M61,297H68M64.5,288.29V305.71" stroke="#9a650a" stroke-width="1.7" fill="none"/>
<path d="M84,299H91M87.5,290.64V307.36" stroke="#9a650a" stroke-width="1.7" fill="none"/>
<path d="M107,299H114M110.5,292.9V305.1" stroke="#9a650a" stroke-width="1.7" fill="none"/>
<path d="M130,297H137M133.5,288.76V305.24" stroke="#9a650a" stroke-width="1.7" fill="none"/>
<path d="M153,296H160M156.5,288.96V303.04" stroke="#9a650a" stroke-width="1.7" fill="none"/>
<path d="M177,298H184M180.5,290.34V305.66" stroke="#9a650a" stroke-width="1.7" fill="none"/>
<path d="M200.5,297H207.5M204,289.87V304.13" stroke="#9a650a" stroke-width="1.7" fill="none"/>
<path d="M44,318H51M47.5,309.23V326.77" stroke="#9a650a" stroke-width="1.7" fill="none"/>
<path d="M54.5,312H61.5M58,304.24V319.76" stroke="#9a650a" stroke-width="1.7" fill="none"/>
<path d="M66.5,318H73.5M70,311.37V324.63" stroke="#9a650a" stroke-width="1.7" fill="none"/>
<path d="M78.5,311H85.5M82,302.82V319.18" stroke="#9a650a" stroke-width="1.7" fill="none"/>
<path d="M89.5,318H96.5M93,308.88V327.12" stroke="#9a650a" stroke-width="1.7" fill="none"/>
<path d="M100.5,311H107.5M104,303.77V318.23" stroke="#9a650a" stroke-width="1.7" fill="none"/>
<path d="M112.5,316H119.5M116,309.11V322.89" stroke="#9a650a" stroke-width="1.7" fill="none"/>
<path d="M123.5,313H130.5M127,305.45V320.55" stroke="#9a650a" stroke-width="1.7" fill="none"/>
<path d="M135.5,318H142.5M139,308.25V327.75" stroke="#9a650a" stroke-width="1.7" fill="none"/>
<path d="M147.5,312H154.5M151,302.1V321.9" stroke="#9a650a" stroke-width="1.7" fill="none"/>
<path d="M158.5,318H165.5M162,309.31V326.69" stroke="#9a650a" stroke-width="1.7" fill="none"/>
<path d="M170.5,312H177.5M174,302.39V321.61" stroke="#9a650a" stroke-width="1.7" fill="none"/>
<path d="M182.5,318H189.5M186,308.62V327.38" stroke="#9a650a" stroke-width="1.7" fill="none"/>
<path d="M194.5,313H201.5M198,305.49V320.51" stroke="#9a650a" stroke-width="1.7" fill="none"/>
<path d="M30.4,321.8H39.6M35,316.34V327.26" stroke="#9a650a" stroke-width="1.7" fill="none"/>
<path d="M32.8,319.3H42M37.4,311.03V327.57" stroke="#9a650a" stroke-width="1.7" fill="none"/>
<path d="M34.8,315.6H44M39.4,307.81V323.39" stroke="#9a650a" stroke-width="1.7" fill="none"/>
<path d="M35.8,295.8H45M40.4,288.99V302.61" stroke="#9a650a" stroke-width="1.7" fill="none"/>
<path d="M39,298.3H48.2M43.6,292.17V304.43" stroke="#9a650a" stroke-width="1.7" fill="none"/>
<path d="M40.7,302H49.9M45.3,294.97V309.03" stroke="#9a650a" stroke-width="1.7" fill="none"/>
<path d="M44,307H53.2M48.6,299.66V314.34" stroke="#9a650a" stroke-width="1.7" fill="none"/>
<path d="M42.2,314.4H51.4M46.8,308.05V320.75" stroke="#9a650a" stroke-width="1.7" fill="none"/>
<path d="M45.2,336.6H54.4M49.8,330.14V343.06" stroke="#9a650a" stroke-width="1.7" fill="none"/>
<path d="M47.6,352H56.8M52.2,344.71V359.29" stroke="#9a650a" stroke-width="1.7" fill="none"/>
<path d="M53.1,327.2H62.3M57.7,317.9V336.5" stroke="#9a650a" stroke-width="1.7" fill="none"/>
<path d="M54.6,298.3H63.8M59.2,290.37V306.23" stroke="#9a650a" stroke-width="1.7" fill="none"/>
<path d="M57.1,290.8H66.3M61.7,284.38V297.22" stroke="#9a650a" stroke-width="1.7" fill="none"/>
<path d="M60.1,283.4H69.3M64.7,277.01V289.79" stroke="#9a650a" stroke-width="1.7" fill="none"/>
<path d="M62,309.4H71.2M66.6,302.13V316.67" stroke="#9a650a" stroke-width="1.7" fill="none"/>
<path d="M66.2,307H75.4M70.8,300.97V313.03" stroke="#9a650a" stroke-width="1.7" fill="none"/>
<path d="M68.7,324.3H77.9M73.3,318.29V330.31" stroke="#9a650a" stroke-width="1.7" fill="none"/>
<path d="M71.2,329.2H80.4M75.8,321.63V336.77" stroke="#9a650a" stroke-width="1.7" fill="none"/>
<path d="M73.7,342H82.9M78.3,336.56V347.44" stroke="#9a650a" stroke-width="1.7" fill="none"/>
<path d="M76.1,313.9H85.3M80.7,306.48V321.32" stroke="#9a650a" stroke-width="1.7" fill="none"/>
<path d="M77.4,299H86.6M82,292.19V305.81" stroke="#9a650a" stroke-width="1.7" fill="none"/>
<path d="M81.8,286.6H91M86.4,278.06V295.14" stroke="#9a650a" stroke-width="1.7" fill="none"/>
<path d="M85.3,280.2H94.5M89.9,271.47V288.93" stroke="#9a650a" stroke-width="1.7" fill="none"/>
<path d="M87.3,292.6H96.5M91.9,284.14V301.06" stroke="#9a650a" stroke-width="1.7" fill="none"/>
<path d="M89.3,305H98.5M93.9,296.55V313.45" stroke="#9a650a" stroke-width="1.7" fill="none"/>
<path d="M91.7,329.2H100.9M96.3,322.33V336.07" stroke="#9a650a" stroke-width="1.7" fill="none"/>
<path d="M95.2,316.8H104.4M99.8,308.46V325.14" stroke="#9a650a" stroke-width="1.7" fill="none"/>
<path d="M97.2,320.5H106.4M101.8,313.8V327.2" stroke="#9a650a" stroke-width="1.7" fill="none"/>
<path d="M98.4,337.9H107.6M103,330.04V345.76" stroke="#9a650a" stroke-width="1.7" fill="none"/>
<path d="M101.6,302H110.8M106.2,295.37V308.63" stroke="#9a650a" stroke-width="1.7" fill="none"/>
<path d="M105.8,285.9H115M110.4,278.67V293.13" stroke="#9a650a" stroke-width="1.7" fill="none"/>
<path d="M107.6,305.7H116.8M112.2,300.39V311.01" stroke="#9a650a" stroke-width="1.7" fill="none"/>
<path d="M110.8,293.3H120M115.4,287.09V299.51" stroke="#9a650a" stroke-width="1.7" fill="none"/>
<path d="M117,324.3H126.2M121.6,314.44V334.16" stroke="#9a650a" stroke-width="1.7" fill="none"/>
<path d="M118.2,339.1H127.4M122.8,332.95V345.25" stroke="#9a650a" stroke-width="1.7" fill="none"/>
<path d="M120.7,314.4H129.9M125.3,305.94V322.86" stroke="#9a650a" stroke-width="1.7" fill="none"/>
<path d="M70,332H79.2M74.6,323.75V340.25" stroke="#9a650a" stroke-width="1.7" fill="none"/>
<path d="M120,334.6H129.2M124.6,325.98V343.22" stroke="#9a650a" stroke-width="1.7" fill="none"/>
<path d="M153,275.5H162.2M157.6,268.12V282.88" stroke="#9a650a" stroke-width="1.7" fill="none"/>
<path d="M127.8,292H137M132.4,284.02V299.98" stroke="#9a650a" stroke-width="1.7" fill="none"/>
<path d="M131.5,294H140.7M136.1,288.67V299.33" stroke="#9a650a" stroke-width="1.7" fill="none"/>
<path d="M125.3,300.7H134.5M129.9,295.34V306.06" stroke="#9a650a" stroke-width="1.7" fill="none"/>
<path d="M135.7,303.2H144.9M140.3,297.21V309.19" stroke="#9a650a" stroke-width="1.7" fill="none"/>
<path d="M129.8,316.8H139M134.4,311.04V322.56" stroke="#9a650a" stroke-width="1.7" fill="none"/>
<path d="M138.9,318H148.1M143.5,312.5V323.5" stroke="#9a650a" stroke-width="1.7" fill="none"/>
<path d="M142.6,323.8H151.8M147.2,318.15V329.45" stroke="#9a650a" stroke-width="1.7" fill="none"/>
<path d="M145.1,330.4H154.3M149.7,322.63V338.17" stroke="#9a650a" stroke-width="1.7" fill="none"/>
<path d="M120.4,334.2H129.6M125,328.26V340.14" stroke="#9a650a" stroke-width="1.7" fill="none"/>
<path d="M141.4,344H150.6M146,334.24V353.76" stroke="#9a650a" stroke-width="1.7" fill="none"/>
<path d="M147.6,294.6H156.8M152.2,286.19V303.01" stroke="#9a650a" stroke-width="1.7" fill="none"/>
<path d="M150.1,290.8H159.3M154.7,283.09V298.51" stroke="#9a650a" stroke-width="1.7" fill="none"/>
<path d="M155,295.8H164.2M159.6,287.26V304.34" stroke="#9a650a" stroke-width="1.7" fill="none"/>
<path d="M157.5,288.4H166.7M162.1,282.08V294.72" stroke="#9a650a" stroke-width="1.7" fill="none"/>
<path d="M161.2,308.7H170.4M165.8,299.07V318.33" stroke="#9a650a" stroke-width="1.7" fill="none"/>
<path d="M158.7,316.8H167.9M163.3,307.6V326" stroke="#9a650a" stroke-width="1.7" fill="none"/>
<path d="M162.9,315.6H172.1M167.5,306.97V324.23" stroke="#9a650a" stroke-width="1.7" fill="none"/>
<path d="M167.4,313.1H176.6M172,305.7V320.5" stroke="#9a650a" stroke-width="1.7" fill="none"/>
<path d="M164.9,337.9H174.1M169.5,328.69V347.11" stroke="#9a650a" stroke-width="1.7" fill="none"/>
<path d="M169.4,333.7H178.6M174,324.98V342.42" stroke="#9a650a" stroke-width="1.7" fill="none"/>
<path d="M174.8,292H184M179.4,283.7V300.3" stroke="#9a650a" stroke-width="1.7" fill="none"/>
<path d="M173.6,298.3H182.8M178.2,288.73V307.87" stroke="#9a650a" stroke-width="1.7" fill="none"/>
<path d="M181,295H190.2M185.6,286.83V303.17" stroke="#9a650a" stroke-width="1.7" fill="none"/>
<path d="M178.5,314.9H187.7M183.1,308.07V321.73" stroke="#9a650a" stroke-width="1.7" fill="none"/>
<path d="M182.2,333.7H191.4M186.8,325.94V341.46" stroke="#9a650a" stroke-width="1.7" fill="none"/>
<path d="M187.2,323H196.4M191.8,317.02V328.98" stroke="#9a650a" stroke-width="1.7" fill="none"/>
<path d="M189.7,315.6H198.9M194.3,309.64V321.56" stroke="#9a650a" stroke-width="1.7" fill="none"/>
<path d="M192.6,333.7H201.8M197.2,325.07V342.33" stroke="#9a650a" stroke-width="1.7" fill="none"/>
<path d="M195.1,315.6H204.3M199.7,306.68V324.52" stroke="#9a650a" stroke-width="1.7" fill="none"/>
<path d="M199.1,295.3H208.3M203.7,285.44V305.16" stroke="#9a650a" stroke-width="1.7" fill="none"/>
<path d="M200.8,305H210M205.4,295.75V314.25" stroke="#9a650a" stroke-width="1.7" fill="none"/>
<path d="M203.3,299.5H212.5M207.9,291.78V307.22" stroke="#9a650a" stroke-width="1.7" fill="none"/>
<path d="M205,310.6H214.2M209.6,305.15V316.05" stroke="#9a650a" stroke-width="1.7" fill="none"/>
<polyline points="34.2,325.2 34.7,323.1 35.2,320.8 35.7,318.4 36.2,315.8 36.7,313.3 37.2,310.8 37.7,308.3 38.2,306 38.7,303.8 39.2,301.8 39.7,300.1 40.2,298.7 40.7,297.6 41.2,296.9 41.7,296.5 42.2,296.4 42.7,296.8 43.2,297.4 43.7,298.5 44.2,299.8 44.7,301.4 45.2,303.3 45.7,305.5 46.2,307.8 46.7,310.2 47.2,312.7 47.7,315.3 48.2,317.8 48.7,320.3 49.2,322.6 49.7,324.8 50.2,326.7 50.7,328.4 51.2,329.9 51.7,331 52.2,331.7 52.7,332.1 53.2,332.2 53.7,331.9 54.2,331.4 54.7,330.5 55.2,329.4 55.7,328 56.2,326.4 56.7,324.6 57.2,322.6 57.7,320.5 58.2,318.3 58.7,316 59.2,313.7 59.7,311.4 60.2,309.1 60.7,306.9 61.2,304.9 61.7,303 62.2,301.3 62.7,299.8 63.2,298.6 63.7,297.6 64.2,296.9 64.7,296.5 65.2,296.4 65.7,296.7 66.2,297.3 66.7,298.3 67.2,299.6 67.7,301.3 68.2,303.2 68.7,305.4 69.2,307.8 69.7,310.3 70.2,312.9 70.7,315.5 71.2,318.1 71.7,320.6 72.2,323 72.7,325.2 73.2,327.2 73.7,328.8 74.2,330.2 74.7,331.2 75.2,331.9 75.7,332.2 76.2,332.1 76.7,331.8 77.2,331.1 77.7,330.2 78.2,329.1 78.7,327.7 79.2,326 79.7,324.2 80.2,322.3 80.7,320.2 81.2,318 81.7,315.8 82.2,313.5 82.7,311.3 83.2,309.1 83.7,306.9 84.2,304.9 84.7,303.1 85.2,301.4 85.7,300 86.2,298.7 86.7,297.7 87.2,297 87.7,296.6 88.2,296.4 88.7,296.6 89.2,297.2 89.7,298.1 90.2,299.5 90.7,301.1 91.2,303.1 91.7,305.4 92.2,307.8 92.7,310.4 93.2,313 93.7,315.7 94.2,318.4 94.7,321 95.2,323.4 95.7,325.6 96.2,327.6 96.7,329.2 97.2,330.5 97.7,331.5 98.2,332 98.7,332.2 99.2,332 99.7,331.6 100.2,330.9 100.7,329.9 101.2,328.7 101.7,327.3 102.2,325.7 102.7,323.9 103.2,322 103.7,319.9 104.2,317.8 104.7,315.6 105.2,313.4 105.7,311.2 106.2,309 106.7,307 107.2,305 107.7,303.2 108.2,301.5 108.7,300.1 109.2,298.9 109.7,297.9 110.2,297.1 110.7,296.6 111.2,296.4 111.7,296.5 112.2,297 112.7,298 113.2,299.3 113.7,301 114.2,303 114.7,305.3 115.2,307.8 115.7,310.5 116.2,313.2 116.7,316 117.2,318.7 117.7,321.4 118.2,323.8 118.7,326 119.2,328 119.7,329.6 120.2,330.9 120.7,331.7 121.2,332.1 121.7,332.2 122.1,331.9 122.6,331.4 123.1,330.6 123.6,329.6 124.1,328.4 124.6,327 125.1,325.3 125.6,323.6 126.1,321.7 126.6,319.6 127.1,317.5 127.6,315.4 128.1,313.2 128.6,311.1 129.1,309 129.6,307 130.1,305.1 130.6,303.3 131.1,301.7 131.6,300.2 132.1,299 132.6,298 133.1,297.2 133.6,296.7 134.1,296.4 134.6,296.5 135.1,296.9 135.6,297.8 136.1,299.1 136.6,300.8 137.1,302.9 137.6,305.2 138.1,307.8 138.6,310.5 139.1,313.4 139.6,316.2 140.1,319.1 140.6,321.8 141.1,324.3 141.6,326.5 142.1,328.4 142.6,330 143.1,331.2 143.6,331.9 144.1,332.2 144.6,332.1 145.1,331.8 145.6,331.2 146.1,330.4 146.6,329.3 147.1,328.1 147.6,326.6 148.1,325 148.6,323.2 149.1,321.4 149.6,319.4 150.1,317.3 150.6,315.2 151.1,313.1 151.6,311 152.1,309 152.6,307 153.1,305.1 153.6,303.4 154.1,301.8 154.6,300.4 155.1,299.1 155.6,298.1 156.1,297.3 156.6,296.8 157.1,296.5 157.6,296.4 158.1,296.8 158.6,297.6 159.1,298.9 159.6,300.7 160.1,302.7 160.6,305.2 161.1,307.8 161.6,310.6 162.1,313.6 162.6,316.5 163.1,319.4 163.6,322.2 164.1,324.7 164.6,327 165.1,328.9 165.6,330.4 166.1,331.5 166.6,332.1 167.1,332.2 167.6,332 168.1,331.6 168.6,331 169.1,330.1 169.6,329 170.1,327.7 170.6,326.3 171.1,324.7 171.6,322.9 172.1,321.1 172.6,319.1 173.1,317.1 173.6,315 174.1,313 174.6,310.9 175.1,308.9 175.6,307 176.1,305.2 176.6,303.5 177.1,301.9 177.6,300.5 178.1,299.3 178.6,298.2 179.1,297.4 179.6,296.9 180.1,296.5 180.6,296.4 181.1,296.7 181.6,297.5 182.1,298.7 182.6,300.5 183.1,302.6 183.6,305.1 184.1,307.8 184.6,310.7 185.1,313.8 185.6,316.8 186.1,319.8 186.6,322.6 187.1,325.2 187.6,327.4 188.1,329.3 188.6,330.7 189.1,331.7 189.6,332.2 190.1,332.2 190.6,331.9 191.1,331.4 191.6,330.7 192.1,329.8 192.6,328.7 193.1,327.4 193.6,326 194.1,324.4 194.6,322.6 195.1,320.8 195.6,318.9 196.1,316.9 196.6,314.9 197.1,312.9 197.6,310.9 198.1,308.9 198.6,307 199.1,305.2 199.6,303.5 200.1,302 200.6,300.6 201.1,299.4 201.6,298.4 202.1,297.6 202.6,296.9 203.1,296.6 203.6,296.4 204.1,296.6 204.6,297.3 205.1,298.6 205.6,300.3 206.1,302.5 206.6,305 207.1,307.8 207.6,310.9 208.1,314 208.6,317.1 209.1,320.2 209.6,323.1 210.1,325.7" fill="none" stroke="#7a500a" stroke-width="1.8" stroke-linejoin="round" stroke-linecap="round" clip-path="url(#c4)"/>
<circle cx="35" cy="321.8" r="2.3" fill="#f5a11c" stroke="#9a650a" stroke-width="1.2"/>
<circle cx="37.4" cy="319.3" r="2.3" fill="#f5a11c" stroke="#9a650a" stroke-width="1.2"/>
<circle cx="39.4" cy="315.6" r="2.3" fill="#f5a11c" stroke="#9a650a" stroke-width="1.2"/>
<circle cx="40.4" cy="295.8" r="2.3" fill="#f5a11c" stroke="#9a650a" stroke-width="1.2"/>
<circle cx="43.6" cy="298.3" r="2.3" fill="#f5a11c" stroke="#9a650a" stroke-width="1.2"/>
<circle cx="45.3" cy="302" r="2.3" fill="#f5a11c" stroke="#9a650a" stroke-width="1.2"/>
<circle cx="48.6" cy="307" r="2.3" fill="#f5a11c" stroke="#9a650a" stroke-width="1.2"/>
<circle cx="46.8" cy="314.4" r="2.3" fill="#f5a11c" stroke="#9a650a" stroke-width="1.2"/>
<circle cx="49.8" cy="336.6" r="2.3" fill="#f5a11c" stroke="#9a650a" stroke-width="1.2"/>
<circle cx="52.2" cy="352" r="2.3" fill="#f5a11c" stroke="#9a650a" stroke-width="1.2"/>
<circle cx="57.7" cy="327.2" r="2.3" fill="#f5a11c" stroke="#9a650a" stroke-width="1.2"/>
<circle cx="59.2" cy="298.3" r="2.3" fill="#f5a11c" stroke="#9a650a" stroke-width="1.2"/>
<circle cx="61.7" cy="290.8" r="2.3" fill="#f5a11c" stroke="#9a650a" stroke-width="1.2"/>
<circle cx="64.7" cy="283.4" r="2.3" fill="#f5a11c" stroke="#9a650a" stroke-width="1.2"/>
<circle cx="66.6" cy="309.4" r="2.3" fill="#f5a11c" stroke="#9a650a" stroke-width="1.2"/>
<circle cx="70.8" cy="307" r="2.3" fill="#f5a11c" stroke="#9a650a" stroke-width="1.2"/>
<circle cx="73.3" cy="324.3" r="2.3" fill="#f5a11c" stroke="#9a650a" stroke-width="1.2"/>
<circle cx="75.8" cy="329.2" r="2.3" fill="#f5a11c" stroke="#9a650a" stroke-width="1.2"/>
<circle cx="78.3" cy="342" r="2.3" fill="#f5a11c" stroke="#9a650a" stroke-width="1.2"/>
<circle cx="80.7" cy="313.9" r="2.3" fill="#f5a11c" stroke="#9a650a" stroke-width="1.2"/>
<circle cx="82" cy="299" r="2.3" fill="#f5a11c" stroke="#9a650a" stroke-width="1.2"/>
<circle cx="86.4" cy="286.6" r="2.3" fill="#f5a11c" stroke="#9a650a" stroke-width="1.2"/>
<circle cx="89.9" cy="280.2" r="2.3" fill="#f5a11c" stroke="#9a650a" stroke-width="1.2"/>
<circle cx="91.9" cy="292.6" r="2.3" fill="#f5a11c" stroke="#9a650a" stroke-width="1.2"/>
<circle cx="93.9" cy="305" r="2.3" fill="#f5a11c" stroke="#9a650a" stroke-width="1.2"/>
<circle cx="96.3" cy="329.2" r="2.3" fill="#f5a11c" stroke="#9a650a" stroke-width="1.2"/>
<circle cx="99.8" cy="316.8" r="2.3" fill="#f5a11c" stroke="#9a650a" stroke-width="1.2"/>
<circle cx="101.8" cy="320.5" r="2.3" fill="#f5a11c" stroke="#9a650a" stroke-width="1.2"/>
<circle cx="103" cy="337.9" r="2.3" fill="#f5a11c" stroke="#9a650a" stroke-width="1.2"/>
<circle cx="106.2" cy="302" r="2.3" fill="#f5a11c" stroke="#9a650a" stroke-width="1.2"/>
<circle cx="110.4" cy="285.9" r="2.3" fill="#f5a11c" stroke="#9a650a" stroke-width="1.2"/>
<circle cx="112.2" cy="305.7" r="2.3" fill="#f5a11c" stroke="#9a650a" stroke-width="1.2"/>
<circle cx="115.4" cy="293.3" r="2.3" fill="#f5a11c" stroke="#9a650a" stroke-width="1.2"/>
<circle cx="121.6" cy="324.3" r="2.3" fill="#f5a11c" stroke="#9a650a" stroke-width="1.2"/>
<circle cx="122.8" cy="339.1" r="2.3" fill="#f5a11c" stroke="#9a650a" stroke-width="1.2"/>
<circle cx="125.3" cy="314.4" r="2.3" fill="#f5a11c" stroke="#9a650a" stroke-width="1.2"/>
<circle cx="74.6" cy="332" r="2.3" fill="#f5a11c" stroke="#9a650a" stroke-width="1.2"/>
<circle cx="124.6" cy="334.6" r="2.3" fill="#f5a11c" stroke="#9a650a" stroke-width="1.2"/>
<circle cx="157.6" cy="275.5" r="2.3" fill="#f5a11c" stroke="#9a650a" stroke-width="1.2"/>
<circle cx="132.4" cy="292" r="2.3" fill="#f5a11c" stroke="#9a650a" stroke-width="1.2"/>
<circle cx="136.1" cy="294" r="2.3" fill="#f5a11c" stroke="#9a650a" stroke-width="1.2"/>
<circle cx="129.9" cy="300.7" r="2.3" fill="#f5a11c" stroke="#9a650a" stroke-width="1.2"/>
<circle cx="140.3" cy="303.2" r="2.3" fill="#f5a11c" stroke="#9a650a" stroke-width="1.2"/>
<circle cx="134.4" cy="316.8" r="2.3" fill="#f5a11c" stroke="#9a650a" stroke-width="1.2"/>
<circle cx="143.5" cy="318" r="2.3" fill="#f5a11c" stroke="#9a650a" stroke-width="1.2"/>
<circle cx="147.2" cy="323.8" r="2.3" fill="#f5a11c" stroke="#9a650a" stroke-width="1.2"/>
<circle cx="149.7" cy="330.4" r="2.3" fill="#f5a11c" stroke="#9a650a" stroke-width="1.2"/>
<circle cx="125" cy="334.2" r="2.3" fill="#f5a11c" stroke="#9a650a" stroke-width="1.2"/>
<circle cx="146" cy="344" r="2.3" fill="#f5a11c" stroke="#9a650a" stroke-width="1.2"/>
<circle cx="152.2" cy="294.6" r="2.3" fill="#f5a11c" stroke="#9a650a" stroke-width="1.2"/>
<circle cx="154.7" cy="290.8" r="2.3" fill="#f5a11c" stroke="#9a650a" stroke-width="1.2"/>
<circle cx="159.6" cy="295.8" r="2.3" fill="#f5a11c" stroke="#9a650a" stroke-width="1.2"/>
<circle cx="162.1" cy="288.4" r="2.3" fill="#f5a11c" stroke="#9a650a" stroke-width="1.2"/>
<circle cx="165.8" cy="308.7" r="2.3" fill="#f5a11c" stroke="#9a650a" stroke-width="1.2"/>
<circle cx="163.3" cy="316.8" r="2.3" fill="#f5a11c" stroke="#9a650a" stroke-width="1.2"/>
<circle cx="167.5" cy="315.6" r="2.3" fill="#f5a11c" stroke="#9a650a" stroke-width="1.2"/>
<circle cx="172" cy="313.1" r="2.3" fill="#f5a11c" stroke="#9a650a" stroke-width="1.2"/>
<circle cx="169.5" cy="337.9" r="2.3" fill="#f5a11c" stroke="#9a650a" stroke-width="1.2"/>
<circle cx="174" cy="333.7" r="2.3" fill="#f5a11c" stroke="#9a650a" stroke-width="1.2"/>
<circle cx="179.4" cy="292" r="2.3" fill="#f5a11c" stroke="#9a650a" stroke-width="1.2"/>
<circle cx="178.2" cy="298.3" r="2.3" fill="#f5a11c" stroke="#9a650a" stroke-width="1.2"/>
<circle cx="185.6" cy="295" r="2.3" fill="#f5a11c" stroke="#9a650a" stroke-width="1.2"/>
<circle cx="183.1" cy="314.9" r="2.3" fill="#f5a11c" stroke="#9a650a" stroke-width="1.2"/>
<circle cx="186.8" cy="333.7" r="2.3" fill="#f5a11c" stroke="#9a650a" stroke-width="1.2"/>
<circle cx="191.8" cy="323" r="2.3" fill="#f5a11c" stroke="#9a650a" stroke-width="1.2"/>
<circle cx="194.3" cy="315.6" r="2.3" fill="#f5a11c" stroke="#9a650a" stroke-width="1.2"/>
<circle cx="197.2" cy="333.7" r="2.3" fill="#f5a11c" stroke="#9a650a" stroke-width="1.2"/>
<circle cx="199.7" cy="315.6" r="2.3" fill="#f5a11c" stroke="#9a650a" stroke-width="1.2"/>
<circle cx="203.7" cy="295.3" r="2.3" fill="#f5a11c" stroke="#9a650a" stroke-width="1.2"/>
<circle cx="205.4" cy="305" r="2.3" fill="#f5a11c" stroke="#9a650a" stroke-width="1.2"/>
<circle cx="207.9" cy="299.5" r="2.3" fill="#f5a11c" stroke="#9a650a" stroke-width="1.2"/>
<circle cx="209.6" cy="310.6" r="2.3" fill="#f5a11c" stroke="#9a650a" stroke-width="1.2"/>
</g>
<rect x="34.2" y="250.4" width="175.9" height="127" fill="none" stroke="#3c3c3c" stroke-width="0.8"/>
<line x1="34.2" y1="250.4" x2="36.1" y2="250.4" stroke="#3c3c3c" stroke-width="0.8" />
<line x1="210.1" y1="250.4" x2="208.2" y2="250.4" stroke="#3c3c3c" stroke-width="0.8" />
<line x1="34.2" y1="275.8" x2="36.1" y2="275.8" stroke="#3c3c3c" stroke-width="0.8" />
<line x1="210.1" y1="275.8" x2="208.2" y2="275.8" stroke="#3c3c3c" stroke-width="0.8" />
<line x1="34.2" y1="301.2" x2="36.1" y2="301.2" stroke="#3c3c3c" stroke-width="0.8" />
<line x1="210.1" y1="301.2" x2="208.2" y2="301.2" stroke="#3c3c3c" stroke-width="0.8" />
<line x1="34.2" y1="326.6" x2="36.1" y2="326.6" stroke="#3c3c3c" stroke-width="0.8" />
<line x1="210.1" y1="326.6" x2="208.2" y2="326.6" stroke="#3c3c3c" stroke-width="0.8" />
<line x1="34.2" y1="352" x2="36.1" y2="352" stroke="#3c3c3c" stroke-width="0.8" />
<line x1="210.1" y1="352" x2="208.2" y2="352" stroke="#3c3c3c" stroke-width="0.8" />
<line x1="34.2" y1="377.4" x2="36.1" y2="377.4" stroke="#3c3c3c" stroke-width="0.8" />
<line x1="210.1" y1="377.4" x2="208.2" y2="377.4" stroke="#3c3c3c" stroke-width="0.8" />
<line x1="34.2" y1="377.4" x2="34.2" y2="375.5" stroke="#3c3c3c" stroke-width="0.8" />
<line x1="78.17" y1="377.4" x2="78.17" y2="375.5" stroke="#3c3c3c" stroke-width="0.8" />
<line x1="122.15" y1="377.4" x2="122.15" y2="375.5" stroke="#3c3c3c" stroke-width="0.8" />
<line x1="166.12" y1="377.4" x2="166.12" y2="375.5" stroke="#3c3c3c" stroke-width="0.8" />
<line x1="210.1" y1="377.4" x2="210.1" y2="375.5" stroke="#3c3c3c" stroke-width="0.8" />
<line x1="34.2" y1="250.4" x2="34.2" y2="252.3" stroke="#3c3c3c" stroke-width="0.8" />
<line x1="78.17" y1="250.4" x2="78.17" y2="252.3" stroke="#3c3c3c" stroke-width="0.8" />
<line x1="122.15" y1="250.4" x2="122.15" y2="252.3" stroke="#3c3c3c" stroke-width="0.8" />
<line x1="166.12" y1="250.4" x2="166.12" y2="252.3" stroke="#3c3c3c" stroke-width="0.8" />
<line x1="210.1" y1="250.4" x2="210.1" y2="252.3" stroke="#3c3c3c" stroke-width="0.8" />
<text x="31" y="253.2" font-size="9.3" text-anchor="end" fill="#262626"  stroke="#262626" stroke-width="0.2">0.2</text>
<text x="31" y="278.6" font-size="9.3" text-anchor="end" fill="#262626"  stroke="#262626" stroke-width="0.2">0.1</text>
<text x="31" y="304" font-size="9.3" text-anchor="end" fill="#262626"  stroke="#262626" stroke-width="0.2">0</text>
<text x="31" y="329.4" font-size="9.3" text-anchor="end" fill="#262626"  stroke="#262626" stroke-width="0.2">-0.1</text>
<text x="31" y="354.8" font-size="9.3" text-anchor="end" fill="#262626"  stroke="#262626" stroke-width="0.2">-0.2</text>
<text x="31" y="380.2" font-size="9.3" text-anchor="end" fill="#262626"  stroke="#262626" stroke-width="0.2">-0.3</text>
<text x="34.2" y="388.3" font-size="9.3" text-anchor="middle" fill="#262626"  stroke="#262626" stroke-width="0.2">10.5</text>
<text x="78.17" y="388.3" font-size="9.3" text-anchor="middle" fill="#262626"  stroke="#262626" stroke-width="0.2">10.6</text>
<text x="122.15" y="388.3" font-size="9.3" text-anchor="middle" fill="#262626"  stroke="#262626" stroke-width="0.2">10.7</text>
<text x="166.12" y="388.3" font-size="9.3" text-anchor="middle" fill="#262626"  stroke="#262626" stroke-width="0.2">10.8</text>
<text x="210.1" y="388.3" font-size="9.3" text-anchor="middle" fill="#262626"  stroke="#262626" stroke-width="0.2">10.9</text>
<text x="34.2" y="246.8" font-size="9.3" text-anchor="middle" fill="#262626"  stroke="#262626" stroke-width="0.2">1.038</text>
<text x="78.17" y="246.8" font-size="9.3" text-anchor="middle" fill="#262626"  stroke="#262626" stroke-width="0.2">1.028</text>
<text x="122.15" y="246.8" font-size="9.3" text-anchor="middle" fill="#262626"  stroke="#262626" stroke-width="0.2">1.019</text>
<text x="166.12" y="246.8" font-size="9.3" text-anchor="middle" fill="#262626"  stroke="#262626" stroke-width="0.2">1.009</text>
<text x="210.1" y="246.8" font-size="9.3" text-anchor="middle" fill="#262626"  stroke="#262626" stroke-width="0.2">1.000</text>
<text font-size="9.4" fill="#262626" stroke="#262626" stroke-width="0.2"><tspan x="93.8" y="235.2">Force</tspan><tspan x="129.7" y="235.2">(</tspan><tspan x="132.9" y="235.2" font-style="italic">Mg</tspan><tspan x="146" y="235.2">)</tspan></text>
<path transform="translate(120.9,235.2)" d="M1.5,-5.5 C0.9,-5.9 1.2,-6.6 2.2,-6.6 C3.8,-6.7 5.5,-6.6 7.0,-6.8 M4.0,-6.5 C3.7,-4.4 3.2,-1.6 2.3,-0.6 C1.7,0.0 0.8,0.1 0.3,-0.4 M3.4,-3.6 L6.0,-3.7" fill="none" stroke="#262626" stroke-width="0.95" stroke-linecap="round"/>
<text font-size="9.4" fill="#262626" stroke="#262626" stroke-width="0.2"><tspan x="75.9" y="399.8">Bloch Period</tspan><tspan x="132.8" y="399.8" font-style="italic">T</tspan><tspan x="139.6" y="403.8" font-size="7.2">B</tspan><tspan x="146.8" y="399.8">(ms)</tspan></text>
<text transform="translate(12.4,339) rotate(-90)" font-size="9.4" fill="#262626" stroke="#262626" stroke-width="0.2"><tspan x="-0.5" y="0">Imbalance</tspan></text>
<path transform="translate(12.4,339) rotate(-90) translate(47.5,0)" d="M1.6,-5.4 C1.0,-5.8 1.1,-6.5 1.9,-6.6 C3.5,-6.7 5.2,-6.5 6.8,-6.7 M3.7,-6.5 C3.6,-4.2 3.4,-2.0 3.2,0 M0,0.05 C1.8,-0.1 3.8,0.1 5.4,-0.05 C6.0,-0.3 5.9,-0.9 5.4,-1.1" fill="none" stroke="#262626" stroke-width="0.95" stroke-linecap="round"/>
<clipPath id="c5"><rect x="269.5" y="249.6" width="174.5" height="127.8"/></clipPath>
<g clip-path="url(#c5)">
<polyline points="269.5,313.3 270,311.6 270.5,309.8 271,308.1 271.5,306.3 272,304.6 272.5,302.9 273,301.3 273.5,299.7 274,298.1 274.5,296.6 275,295.2 275.5,293.8 276,292.5 276.5,291.3 277,290.2 277.5,289.2 278,288.2 278.5,287.4 279,286.7 279.5,286.1 280,285.6 280.5,285.2 281,285 281.5,284.8 282,284.8 282.5,284.9 283,285.1 283.5,285.5 284,285.9 284.5,286.5 285,287.2 285.5,287.9 286,288.8 286.5,289.8 286.9,290.9 287.4,292.1 287.9,293.4 288.4,294.7 288.9,296.1 289.4,297.6 289.9,299.1 290.4,300.7 290.9,302.4 291.4,304.1 291.9,305.8 292.4,307.5 292.9,309.2 293.4,311 293.9,312.7 294.4,314.4 294.9,316.1 295.4,317.8 295.9,319.4 296.4,321 296.9,322.6 297.4,324.1 297.9,325.5 298.4,326.8 298.9,328.1 299.4,329.3 299.9,330.4 300.4,331.4 300.9,332.3 301.4,333.1 301.9,333.8 302.4,334.4 302.9,334.8 303.4,335.2 303.9,335.4 304.4,335.5 304.9,335.5 305.4,335.3 305.9,335 306.4,334.6 306.9,334 307.4,333.3 307.9,332.4 308.4,331.4 308.9,330.3 309.4,329.1 309.9,327.8 310.4,326.4 310.9,324.8 311.4,323.2 311.9,321.6 312.4,319.8 312.9,318 313.4,316.1 313.9,314.2 314.4,312.3 314.9,310.4 315.4,308.5 315.9,306.5 316.4,304.6 316.9,302.7 317.4,300.9 317.9,299.1 318.4,297.3 318.9,295.6 319.4,294 319.9,292.5 320.4,291.1 320.9,289.8 321.4,288.6 321.9,287.5 322.3,286.5 322.8,285.7 323.3,285 323.8,284.4 324.3,284 324.8,283.7 325.3,283.5 325.8,283.5 326.3,283.7 326.8,284 327.3,284.4 327.8,285 328.3,285.8 328.8,286.7 329.3,287.7 329.8,288.8 330.3,290.1 330.8,291.5 331.3,293 331.8,294.6 332.3,296.3 332.8,298.1 333.3,299.9 333.8,301.9 334.3,303.8 334.8,305.8 335.3,307.9 335.8,309.9 336.3,312 336.8,314.1 337.3,316.1 337.8,318.1 338.3,320.1 338.8,322.1 339.3,323.9 339.8,325.7 340.3,327.5 340.8,329.1 341.3,330.7 341.8,332.1 342.3,333.4 342.8,334.6 343.3,335.7 343.8,336.6 344.3,337.4 344.8,338.1 345.3,338.6 345.8,338.9 346.3,339.1 346.8,339.2 347.3,339.1 347.8,338.9 348.3,338.5 348.8,338 349.3,337.3 349.8,336.5 350.3,335.6 350.8,334.6 351.3,333.4 351.8,332.2 352.3,330.8 352.8,329.3 353.3,327.8 353.8,326.1 354.3,324.4 354.8,322.6 355.3,320.7 355.8,318.8 356.3,316.9 356.8,314.9 357.2,313 357.7,311 358.2,309 358.7,307 359.2,305 359.7,303.1 360.2,301.2 360.7,299.4 361.2,297.6 361.7,295.9 362.2,294.3 362.7,292.8 363.2,291.4 363.7,290 364.2,288.8 364.7,287.7 365.2,286.7 365.7,285.8 366.2,285.1 366.7,284.5 367.2,284 367.7,283.7 368.2,283.5 368.7,283.5 369.2,283.6 369.7,284 370.2,284.5 370.7,285.1 371.2,286 371.7,287 372.2,288.2 372.7,289.6 373.2,291.1 373.7,292.7 374.2,294.5 374.7,296.4 375.2,298.3 375.7,300.4 376.2,302.6 376.7,304.8 377.2,307.1 377.7,309.4 378.2,311.7 378.7,314.1 379.2,316.4 379.7,318.7 380.2,321 380.7,323.3 381.2,325.5 381.7,327.6 382.2,329.6 382.7,331.5 383.2,333.3 383.7,334.9 384.2,336.5 384.7,337.8 385.2,339.1 385.7,340.2 386.2,341.1 386.7,341.8 387.2,342.3 387.7,342.7 388.2,342.9 388.7,342.9 389.2,342.7 389.7,342.5 390.2,342.1 390.7,341.5 391.2,340.9 391.6,340.1 392.1,339.2 392.6,338.2 393.1,337 393.6,335.8 394.1,334.4 394.6,333 395.1,331.5 395.6,329.9 396.1,328.2 396.6,326.5 397.1,324.7 397.6,322.9 398.1,321 398.6,319.1 399.1,317.2 399.6,315.3 400.1,313.4 400.6,311.5 401.1,309.6 401.6,307.8 402.1,306 402.6,304.2 403.1,302.5 403.6,300.9 404.1,299.3 404.6,297.9 405.1,296.5 405.6,295.2 406.1,294 406.6,292.9 407.1,291.9 407.6,291.1 408.1,290.4 408.6,289.8 409.1,289.3 409.6,289 410.1,288.8 410.6,288.7 411.1,288.8 411.6,289.1 412.1,289.5 412.6,290.2 413.1,291 413.6,292 414.1,293.2 414.6,294.5 415.1,295.9 415.6,297.5 416.1,299.3 416.6,301.1 417.1,303 417.6,305.1 418.1,307.2 418.6,309.3 419.1,311.5 419.6,313.7 420.1,316 420.6,318.2 421.1,320.4 421.6,322.6 422.1,324.7 422.6,326.7 423.1,328.7 423.6,330.6 424.1,332.3 424.6,334 425.1,335.5 425.6,336.8 426.1,338 426.5,339.1 427,340 427.5,340.7 428,341.2 428.5,341.5 429,341.7 429.5,341.7 430,341.4 430.5,341 431,340.4 431.5,339.7 432,338.7 432.5,337.6 433,336.3 433.5,334.9 434,333.4 434.5,331.7 435,329.9 435.5,328 436,326 436.5,323.9 437,321.8 437.5,319.6 438,317.4 438.5,315.1 439,312.9 439.5,310.7 440,308.5 440.5,306.4 441,304.3 441.5,302.3 442,300.4 442.5,298.6 443,296.9 443.5,295.4 444,294" fill="none" stroke="#f7b3b3" stroke-width="1.4" stroke-linejoin="round" stroke-linecap="round" />
<polyline points="269.5,350.1 270,350.8 270.5,351.4 271,351.8 271.5,352.2 272,352.4 272.5,352.5 273,352.5 273.5,352.4 274,352.1 274.5,351.8 275,351.3 275.5,350.7 276,350 276.5,349.2 277,348.3 277.5,347.3 278,346.1 278.5,344.9 279,343.6 279.5,342.2 280,340.8 280.5,339.2 281,337.6 281.5,335.9 282,334.1 282.5,332.3 283,330.5 283.5,328.6 284,326.6 284.5,324.7 285,322.7 285.5,320.7 286,318.7 286.5,316.6 286.9,314.6 287.4,312.6 287.9,310.6 288.4,308.6 288.9,306.7 289.4,304.8 289.9,303 290.4,301.1 290.9,299.4 291.4,297.7 291.9,296.1 292.4,294.5 292.9,293.1 293.4,291.7 293.9,290.4 294.4,289.2 294.9,288 295.4,287 295.9,286.1 296.4,285.3 296.9,284.6 297.4,284 297.9,283.5 298.4,283.2 298.9,282.9 299.4,282.8 299.9,282.8 300.4,282.9 300.9,283.2 301.4,283.5 301.9,284 302.4,284.6 302.9,285.4 303.4,286.2 303.9,287.2 304.4,288.3 304.9,289.5 305.4,290.7 305.9,292.1 306.4,293.6 306.9,295.2 307.4,296.8 307.9,298.5 308.4,300.3 308.9,302.2 309.4,304.1 309.9,306 310.4,308 310.9,310 311.4,312.1 311.9,314.2 312.4,316.3 312.9,318.3 313.4,320.4 313.9,322.5 314.4,324.6 314.9,326.6 315.4,328.6 315.9,330.6 316.4,332.5 316.9,334.3 317.4,336.1 317.9,337.8 318.4,339.5 318.9,341.1 319.4,342.5 319.9,343.9 320.4,345.2 320.9,346.4 321.4,347.5 321.9,348.5 322.3,349.3 322.8,350.1 323.3,350.7 323.8,351.2 324.3,351.6 324.8,351.9 325.3,352 325.8,352 326.3,351.9 326.8,351.7 327.3,351.4 327.8,350.9 328.3,350.4 328.8,349.8 329.3,349.1 329.8,348.2 330.3,347.3 330.8,346.3 331.3,345.2 331.8,344 332.3,342.7 332.8,341.4 333.3,339.9 333.8,338.4 334.3,336.9 334.8,335.3 335.3,333.6 335.8,331.8 336.3,330.1 336.8,328.3 337.3,326.4 337.8,324.5 338.3,322.6 338.8,320.7 339.3,318.7 339.8,316.8 340.3,314.9 340.8,312.9 341.3,311 341.8,309.1 342.3,307.2 342.8,305.3 343.3,303.5 343.8,301.7 344.3,300 344.8,298.3 345.3,296.6 345.8,295.1 346.3,293.6 346.8,292.1 347.3,290.7 347.8,289.5 348.3,288.3 348.8,287.1 349.3,286.1 349.8,285.2 350.3,284.3 350.8,283.6 351.3,282.9 351.8,282.4 352.3,281.9 352.8,281.6 353.3,281.4 353.8,281.2 354.3,281.2 354.8,281.3 355.3,281.6 355.8,282 356.3,282.5 356.8,283.2 357.2,284.1 357.7,285 358.2,286.1 358.7,287.3 359.2,288.7 359.7,290.1 360.2,291.7 360.7,293.4 361.2,295.1 361.7,297 362.2,298.9 362.7,300.9 363.2,303 363.7,305.1 364.2,307.3 364.7,309.5 365.2,311.7 365.7,314 366.2,316.2 366.7,318.5 367.2,320.8 367.7,323 368.2,325.2 368.7,327.4 369.2,329.6 369.7,331.7 370.2,333.7 370.7,335.6 371.2,337.5 371.7,339.3 372.2,341 372.7,342.6 373.2,344.1 373.7,345.5 374.2,346.7 374.7,347.8 375.2,348.8 375.7,349.7 376.2,350.5 376.7,351 377.2,351.5 377.7,351.8 378.2,352 378.7,352 379.2,351.9 379.7,351.7 380.2,351.5 380.7,351.1 381.2,350.6 381.7,350.1 382.2,349.4 382.7,348.7 383.2,347.9 383.7,346.9 384.2,346 384.7,344.9 385.2,343.7 385.7,342.5 386.2,341.2 386.7,339.9 387.2,338.5 387.7,337 388.2,335.5 388.7,333.9 389.2,332.2 389.7,330.6 390.2,328.9 390.7,327.1 391.2,325.4 391.6,323.6 392.1,321.8 392.6,320 393.1,318.1 393.6,316.3 394.1,314.5 394.6,312.7 395.1,310.9 395.6,309.1 396.1,307.3 396.6,305.6 397.1,303.9 397.6,302.3 398.1,300.6 398.6,299.1 399.1,297.5 399.6,296.1 400.1,294.7 400.6,293.3 401.1,292.1 401.6,290.8 402.1,289.7 402.6,288.7 403.1,287.7 403.6,286.8 404.1,286 404.6,285.3 405.1,284.6 405.6,284.1 406.1,283.6 406.6,283.3 407.1,283 407.6,282.9 408.1,282.8 408.6,282.8 409.1,283 409.6,283.3 410.1,283.7 410.6,284.2 411.1,284.8 411.6,285.6 412.1,286.4 412.6,287.4 413.1,288.5 413.6,289.6 414.1,290.9 414.6,292.2 415.1,293.7 415.6,295.2 416.1,296.8 416.6,298.5 417.1,300.2 417.6,302 418.1,303.8 418.6,305.7 419.1,307.6 419.6,309.6 420.1,311.5 420.6,313.5 421.1,315.5 421.6,317.5 422.1,319.5 422.6,321.5 423.1,323.4 423.6,325.3 424.1,327.2 424.6,329.1 425.1,330.9 425.6,332.6 426.1,334.3 426.5,335.9 427,337.4 427.5,338.9 428,340.2 428.5,341.5 429,342.7 429.5,343.8 430,344.8 430.5,345.6 431,346.4 431.5,347 432,347.6 432.5,348 433,348.3 433.5,348.4 434,348.5 434.5,348.4 435,348.2 435.5,347.9 436,347.5 436.5,347 437,346.3 437.5,345.5 438,344.6 438.5,343.7 439,342.6 439.5,341.4 440,340.1 440.5,338.7 441,337.2 441.5,335.7 442,334.1 442.5,332.4 443,330.7 443.5,328.9 444,327" fill="none" stroke="#5e5e5e" stroke-width="1.3" stroke-linejoin="round" stroke-linecap="round" />
</g><g>
<path d="M266.1,351.1H273.9M270,347.87V354.33" stroke="#2a2a2a" stroke-width="1.2" fill="none"/>
<rect x="267.7" y="348.8" width="4.6" height="4.6" fill="#3a3a3a" stroke="#1e1e1e" stroke-width="0.8"/>
<path d="M270.5,345.4H278.3M274.4,340.06V350.74" stroke="#2a2a2a" stroke-width="1.2" fill="none"/>
<rect x="272.1" y="343.1" width="4.6" height="4.6" fill="#3a3a3a" stroke="#1e1e1e" stroke-width="0.8"/>
<path d="M274.7,347.1H282.5M278.6,342.78V351.42" stroke="#2a2a2a" stroke-width="1.2" fill="none"/>
<rect x="276.3" y="344.8" width="4.6" height="4.6" fill="#3a3a3a" stroke="#1e1e1e" stroke-width="0.8"/>
<path d="M277.9,324.9H285.7M281.8,319.73V330.07" stroke="#2a2a2a" stroke-width="1.2" fill="none"/>
<rect x="279.5" y="322.6" width="4.6" height="4.6" fill="#3a3a3a" stroke="#1e1e1e" stroke-width="0.8"/>
<path d="M281.4,310.7H289.2M285.3,304.77V316.63" stroke="#2a2a2a" stroke-width="1.2" fill="none"/>
<rect x="283" y="308.4" width="4.6" height="4.6" fill="#3a3a3a" stroke="#1e1e1e" stroke-width="0.8"/>
<path d="M284.6,292.2H292.4M288.5,287.58V296.82" stroke="#2a2a2a" stroke-width="1.2" fill="none"/>
<rect x="286.2" y="289.9" width="4.6" height="4.6" fill="#3a3a3a" stroke="#1e1e1e" stroke-width="0.8"/>
<path d="M288.3,286.7H296.1M292.2,282.2V291.2" stroke="#2a2a2a" stroke-width="1.2" fill="none"/>
<rect x="289.9" y="284.4" width="4.6" height="4.6" fill="#3a3a3a" stroke="#1e1e1e" stroke-width="0.8"/>
<path d="M292,283.5H299.8M295.9,280.28V286.72" stroke="#2a2a2a" stroke-width="1.2" fill="none"/>
<rect x="293.6" y="281.2" width="4.6" height="4.6" fill="#3a3a3a" stroke="#1e1e1e" stroke-width="0.8"/>
<path d="M295.8,283.5H303.6M299.7,279.69V287.31" stroke="#2a2a2a" stroke-width="1.2" fill="none"/>
<rect x="297.4" y="281.2" width="4.6" height="4.6" fill="#3a3a3a" stroke="#1e1e1e" stroke-width="0.8"/>
<path d="M300.7,283.5H308.5M304.6,279V288" stroke="#2a2a2a" stroke-width="1.2" fill="none"/>
<rect x="302.3" y="281.2" width="4.6" height="4.6" fill="#3a3a3a" stroke="#1e1e1e" stroke-width="0.8"/>
<path d="M304.2,305.7H312M308.1,300.66V310.74" stroke="#2a2a2a" stroke-width="1.2" fill="none"/>
<rect x="305.8" y="303.4" width="4.6" height="4.6" fill="#3a3a3a" stroke="#1e1e1e" stroke-width="0.8"/>
<path d="M308.1,323.1H315.9M312,317.69V328.51" stroke="#2a2a2a" stroke-width="1.2" fill="none"/>
<rect x="309.7" y="320.8" width="4.6" height="4.6" fill="#3a3a3a" stroke="#1e1e1e" stroke-width="0.8"/>
<path d="M311.8,333H319.6M315.7,328.86V337.14" stroke="#2a2a2a" stroke-width="1.2" fill="none"/>
<rect x="313.4" y="330.7" width="4.6" height="4.6" fill="#3a3a3a" stroke="#1e1e1e" stroke-width="0.8"/>
<path d="M316.8,342.9H324.6M320.7,339.7V346.1" stroke="#2a2a2a" stroke-width="1.2" fill="none"/>
<rect x="318.4" y="340.6" width="4.6" height="4.6" fill="#3a3a3a" stroke="#1e1e1e" stroke-width="0.8"/>
<path d="M320.5,346.6H328.3M324.4,342.74V350.46" stroke="#2a2a2a" stroke-width="1.2" fill="none"/>
<rect x="322.1" y="344.3" width="4.6" height="4.6" fill="#3a3a3a" stroke="#1e1e1e" stroke-width="0.8"/>
<path d="M324.2,352.8H332M328.1,347.07V358.53" stroke="#2a2a2a" stroke-width="1.2" fill="none"/>
<rect x="325.8" y="350.5" width="4.6" height="4.6" fill="#3a3a3a" stroke="#1e1e1e" stroke-width="0.8"/>
<path d="M327.9,334.3H335.7M331.8,330.66V337.94" stroke="#2a2a2a" stroke-width="1.2" fill="none"/>
<rect x="329.5" y="332" width="4.6" height="4.6" fill="#3a3a3a" stroke="#1e1e1e" stroke-width="0.8"/>
<path d="M331.6,326.8H339.4M335.5,322.44V331.16" stroke="#2a2a2a" stroke-width="1.2" fill="none"/>
<rect x="333.2" y="324.5" width="4.6" height="4.6" fill="#3a3a3a" stroke="#1e1e1e" stroke-width="0.8"/>
<path d="M335.4,321.9H343.2M339.3,316.11V327.69" stroke="#2a2a2a" stroke-width="1.2" fill="none"/>
<rect x="337" y="319.6" width="4.6" height="4.6" fill="#3a3a3a" stroke="#1e1e1e" stroke-width="0.8"/>
<path d="M339.1,308.3H346.9M343,305.23V311.37" stroke="#2a2a2a" stroke-width="1.2" fill="none"/>
<rect x="340.7" y="306" width="4.6" height="4.6" fill="#3a3a3a" stroke="#1e1e1e" stroke-width="0.8"/>
<path d="M342.3,295.9H350.1M346.2,291.1V300.7" stroke="#2a2a2a" stroke-width="1.2" fill="none"/>
<rect x="343.9" y="293.6" width="4.6" height="4.6" fill="#3a3a3a" stroke="#1e1e1e" stroke-width="0.8"/>
<path d="M346.5,283.5H354.3M350.4,277.65V289.35" stroke="#2a2a2a" stroke-width="1.2" fill="none"/>
<rect x="348.1" y="281.2" width="4.6" height="4.6" fill="#3a3a3a" stroke="#1e1e1e" stroke-width="0.8"/>
<path d="M350.2,281.8H358M354.1,278.11V285.49" stroke="#2a2a2a" stroke-width="1.2" fill="none"/>
<rect x="351.8" y="279.5" width="4.6" height="4.6" fill="#3a3a3a" stroke="#1e1e1e" stroke-width="0.8"/>
<path d="M353.9,282.8H361.7M357.8,278.15V287.45" stroke="#2a2a2a" stroke-width="1.2" fill="none"/>
<rect x="355.5" y="280.5" width="4.6" height="4.6" fill="#3a3a3a" stroke="#1e1e1e" stroke-width="0.8"/>
<path d="M358,288.5H365.8M361.9,282.77V294.23" stroke="#2a2a2a" stroke-width="1.2" fill="none"/>
<rect x="359.6" y="286.2" width="4.6" height="4.6" fill="#3a3a3a" stroke="#1e1e1e" stroke-width="0.8"/>
<path d="M362.2,312.5H370M366.1,309.1V315.9" stroke="#2a2a2a" stroke-width="1.2" fill="none"/>
<rect x="363.8" y="310.2" width="4.6" height="4.6" fill="#3a3a3a" stroke="#1e1e1e" stroke-width="0.8"/>
<path d="M365.9,331.8H373.7M369.8,327.23V336.37" stroke="#2a2a2a" stroke-width="1.2" fill="none"/>
<rect x="367.5" y="329.5" width="4.6" height="4.6" fill="#3a3a3a" stroke="#1e1e1e" stroke-width="0.8"/>
<path d="M369.6,338.7H377.4M373.5,333.45V343.95" stroke="#2a2a2a" stroke-width="1.2" fill="none"/>
<rect x="371.2" y="336.4" width="4.6" height="4.6" fill="#3a3a3a" stroke="#1e1e1e" stroke-width="0.8"/>
<path d="M373.3,352.8H381.1M377.2,347.79V357.81" stroke="#2a2a2a" stroke-width="1.2" fill="none"/>
<rect x="374.9" y="350.5" width="4.6" height="4.6" fill="#3a3a3a" stroke="#1e1e1e" stroke-width="0.8"/>
<path d="M377,349.6H384.8M380.9,345.2V354" stroke="#2a2a2a" stroke-width="1.2" fill="none"/>
<rect x="378.6" y="347.3" width="4.6" height="4.6" fill="#3a3a3a" stroke="#1e1e1e" stroke-width="0.8"/>
<path d="M385.2,332.3H393M389.1,328.69V335.91" stroke="#2a2a2a" stroke-width="1.2" fill="none"/>
<rect x="386.8" y="330" width="4.6" height="4.6" fill="#3a3a3a" stroke="#1e1e1e" stroke-width="0.8"/>
<path d="M389.4,316.4H397.2M393.3,311.93V320.87" stroke="#2a2a2a" stroke-width="1.2" fill="none"/>
<rect x="391" y="314.1" width="4.6" height="4.6" fill="#3a3a3a" stroke="#1e1e1e" stroke-width="0.8"/>
<path d="M393.1,303.3H400.9M397,299.18V307.42" stroke="#2a2a2a" stroke-width="1.2" fill="none"/>
<rect x="394.7" y="301" width="4.6" height="4.6" fill="#3a3a3a" stroke="#1e1e1e" stroke-width="0.8"/>
<path d="M396.8,286.7H404.6M400.7,282.27V291.13" stroke="#2a2a2a" stroke-width="1.2" fill="none"/>
<rect x="398.4" y="284.4" width="4.6" height="4.6" fill="#3a3a3a" stroke="#1e1e1e" stroke-width="0.8"/>
<path d="M401.1,284.3H408.9M405,280.2V288.4" stroke="#2a2a2a" stroke-width="1.2" fill="none"/>
<rect x="402.7" y="282" width="4.6" height="4.6" fill="#3a3a3a" stroke="#1e1e1e" stroke-width="0.8"/>
<path d="M405.5,284.3H413.3M409.4,278.79V289.81" stroke="#2a2a2a" stroke-width="1.2" fill="none"/>
<rect x="407.1" y="282" width="4.6" height="4.6" fill="#3a3a3a" stroke="#1e1e1e" stroke-width="0.8"/>
<path d="M410,284.8H417.8M413.9,279.49V290.11" stroke="#2a2a2a" stroke-width="1.2" fill="none"/>
<rect x="411.6" y="282.5" width="4.6" height="4.6" fill="#3a3a3a" stroke="#1e1e1e" stroke-width="0.8"/>
<path d="M414.2,303.3H422M418.1,299.36V307.24" stroke="#2a2a2a" stroke-width="1.2" fill="none"/>
<rect x="415.8" y="301" width="4.6" height="4.6" fill="#3a3a3a" stroke="#1e1e1e" stroke-width="0.8"/>
<path d="M417.9,315.7H425.7M421.8,310.98V320.42" stroke="#2a2a2a" stroke-width="1.2" fill="none"/>
<rect x="419.5" y="313.4" width="4.6" height="4.6" fill="#3a3a3a" stroke="#1e1e1e" stroke-width="0.8"/>
<path d="M421.6,324.9H429.4M425.5,321.07V328.73" stroke="#2a2a2a" stroke-width="1.2" fill="none"/>
<rect x="423.2" y="322.6" width="4.6" height="4.6" fill="#3a3a3a" stroke="#1e1e1e" stroke-width="0.8"/>
<path d="M424.1,341.7H431.9M428,337.34V346.06" stroke="#2a2a2a" stroke-width="1.2" fill="none"/>
<rect x="425.7" y="339.4" width="4.6" height="4.6" fill="#3a3a3a" stroke="#1e1e1e" stroke-width="0.8"/>
<path d="M427.8,347.1H435.6M431.7,343.04V351.16" stroke="#2a2a2a" stroke-width="1.2" fill="none"/>
<rect x="429.4" y="344.8" width="4.6" height="4.6" fill="#3a3a3a" stroke="#1e1e1e" stroke-width="0.8"/>
<path d="M431.5,346.6H439.3M435.4,341.63V351.57" stroke="#2a2a2a" stroke-width="1.2" fill="none"/>
<rect x="433.1" y="344.3" width="4.6" height="4.6" fill="#3a3a3a" stroke="#1e1e1e" stroke-width="0.8"/>
<path d="M435.2,340.4H443M439.1,336.29V344.51" stroke="#2a2a2a" stroke-width="1.2" fill="none"/>
<rect x="436.8" y="338.1" width="4.6" height="4.6" fill="#3a3a3a" stroke="#1e1e1e" stroke-width="0.8"/>
<path d="M438.2,339.7H446M442.1,335.32V344.08" stroke="#2a2a2a" stroke-width="1.2" fill="none"/>
<rect x="439.8" y="337.4" width="4.6" height="4.6" fill="#3a3a3a" stroke="#1e1e1e" stroke-width="0.8"/>
<path d="M266.1,308.3H273.9M270,302.42V314.18" stroke="#a45757" stroke-width="1.2" fill="none"/>
<path d="M270,304.6L272.8,308.3L270,312L267.2,308.3Z" fill="#f7a6a6" stroke="#a45757" stroke-width="1.6" stroke-linejoin="miter"/>
<path d="M270.5,291H278.3M274.4,286.35V295.65" stroke="#a45757" stroke-width="1.2" fill="none"/>
<path d="M274.4,287.3L277.2,291L274.4,294.7L271.6,291Z" fill="#f7a6a6" stroke="#a45757" stroke-width="1.6" stroke-linejoin="miter"/>
<path d="M274,279.8H281.8M277.9,273.17V286.43" stroke="#a45757" stroke-width="1.2" fill="none"/>
<path d="M277.9,276.1L280.7,279.8L277.9,283.5L275.1,279.8Z" fill="#f7a6a6" stroke="#a45757" stroke-width="1.6" stroke-linejoin="miter"/>
<path d="M277.9,276.1H285.7M281.8,272.38V279.82" stroke="#a45757" stroke-width="1.2" fill="none"/>
<path d="M281.8,272.4L284.6,276.1L281.8,279.8L279,276.1Z" fill="#f7a6a6" stroke="#a45757" stroke-width="1.6" stroke-linejoin="miter"/>
<path d="M282.1,279.8H289.9M286,273.84V285.76" stroke="#a45757" stroke-width="1.2" fill="none"/>
<path d="M286,276.1L288.8,279.8L286,283.5L283.2,279.8Z" fill="#f7a6a6" stroke="#a45757" stroke-width="1.6" stroke-linejoin="miter"/>
<path d="M284.6,296.6H292.4M288.5,291.91V301.29" stroke="#a45757" stroke-width="1.2" fill="none"/>
<path d="M288.5,292.9L291.3,296.6L288.5,300.3L285.7,296.6Z" fill="#f7a6a6" stroke="#a45757" stroke-width="1.6" stroke-linejoin="miter"/>
<path d="M288.3,299.6H296.1M292.2,294.89V304.31" stroke="#a45757" stroke-width="1.2" fill="none"/>
<path d="M292.2,295.9L295,299.6L292.2,303.3L289.4,299.6Z" fill="#f7a6a6" stroke="#a45757" stroke-width="1.6" stroke-linejoin="miter"/>
<path d="M292.8,325.6H300.6M296.7,320.06V331.14" stroke="#a45757" stroke-width="1.2" fill="none"/>
<path d="M296.7,321.9L299.5,325.6L296.7,329.3L293.9,325.6Z" fill="#f7a6a6" stroke="#a45757" stroke-width="1.6" stroke-linejoin="miter"/>
<path d="M296.2,330.5H304M300.1,325.41V335.59" stroke="#a45757" stroke-width="1.2" fill="none"/>
<path d="M300.1,326.8L302.9,330.5L300.1,334.2L297.3,330.5Z" fill="#f7a6a6" stroke="#a45757" stroke-width="1.6" stroke-linejoin="miter"/>
<path d="M300.2,336.7H308M304.1,332.04V341.36" stroke="#a45757" stroke-width="1.2" fill="none"/>
<path d="M304.1,333L306.9,336.7L304.1,340.4L301.3,336.7Z" fill="#f7a6a6" stroke="#a45757" stroke-width="1.6" stroke-linejoin="miter"/>
<path d="M304.4,334.3H312.2M308.3,331.29V337.31" stroke="#a45757" stroke-width="1.2" fill="none"/>
<path d="M308.3,330.6L311.1,334.3L308.3,338L305.5,334.3Z" fill="#f7a6a6" stroke="#a45757" stroke-width="1.6" stroke-linejoin="miter"/>
<path d="M308.1,318.2H315.9M312,314.83V321.57" stroke="#a45757" stroke-width="1.2" fill="none"/>
<path d="M312,314.5L314.8,318.2L312,321.9L309.2,318.2Z" fill="#f7a6a6" stroke="#a45757" stroke-width="1.6" stroke-linejoin="miter"/>
<path d="M311.8,314H319.6M315.7,308.16V319.84" stroke="#a45757" stroke-width="1.2" fill="none"/>
<path d="M315.7,310.3L318.5,314L315.7,317.7L312.9,314Z" fill="#f7a6a6" stroke="#a45757" stroke-width="1.6" stroke-linejoin="miter"/>
<path d="M315.6,290.2H323.4M319.5,285.1V295.3" stroke="#a45757" stroke-width="1.2" fill="none"/>
<path d="M319.5,286.5L322.3,290.2L319.5,293.9L316.7,290.2Z" fill="#f7a6a6" stroke="#a45757" stroke-width="1.6" stroke-linejoin="miter"/>
<path d="M319.3,282.8H327.1M323.2,277.02V288.58" stroke="#a45757" stroke-width="1.2" fill="none"/>
<path d="M323.2,279.1L326,282.8L323.2,286.5L320.4,282.8Z" fill="#f7a6a6" stroke="#a45757" stroke-width="1.6" stroke-linejoin="miter"/>
<path d="M323,279.8H330.8M326.9,272.98V286.62" stroke="#a45757" stroke-width="1.2" fill="none"/>
<path d="M326.9,276.1L329.7,279.8L326.9,283.5L324.1,279.8Z" fill="#f7a6a6" stroke="#a45757" stroke-width="1.6" stroke-linejoin="miter"/>
<path d="M326.7,291.7H334.5M330.6,285.97V297.43" stroke="#a45757" stroke-width="1.2" fill="none"/>
<path d="M330.6,288L333.4,291.7L330.6,295.4L327.8,291.7Z" fill="#f7a6a6" stroke="#a45757" stroke-width="1.6" stroke-linejoin="miter"/>
<path d="M331.6,299.6H339.4M335.5,296.39V302.81" stroke="#a45757" stroke-width="1.2" fill="none"/>
<path d="M335.5,295.9L338.3,299.6L335.5,303.3L332.7,299.6Z" fill="#f7a6a6" stroke="#a45757" stroke-width="1.6" stroke-linejoin="miter"/>
<path d="M335.4,328.8H343.2M339.3,324.56V333.04" stroke="#a45757" stroke-width="1.2" fill="none"/>
<path d="M339.3,325.1L342.1,328.8L339.3,332.5L336.5,328.8Z" fill="#f7a6a6" stroke="#a45757" stroke-width="1.6" stroke-linejoin="miter"/>
<path d="M339.1,326.3H346.9M343,320.93V331.67" stroke="#a45757" stroke-width="1.2" fill="none"/>
<path d="M343,322.6L345.8,326.3L343,330L340.2,326.3Z" fill="#f7a6a6" stroke="#a45757" stroke-width="1.6" stroke-linejoin="miter"/>
<path d="M342.8,339.2H350.6M346.7,335.26V343.14" stroke="#a45757" stroke-width="1.2" fill="none"/>
<path d="M346.7,335.5L349.5,339.2L346.7,342.9L343.9,339.2Z" fill="#f7a6a6" stroke="#a45757" stroke-width="1.6" stroke-linejoin="miter"/>
<path d="M347.3,335.5H355.1M351.2,328.64V342.36" stroke="#a45757" stroke-width="1.2" fill="none"/>
<path d="M351.2,331.8L354,335.5L351.2,339.2L348.4,335.5Z" fill="#f7a6a6" stroke="#a45757" stroke-width="1.6" stroke-linejoin="miter"/>
<path d="M350.6,326.3H358.4M354.5,319.52V333.08" stroke="#a45757" stroke-width="1.2" fill="none"/>
<path d="M354.5,322.6L357.3,326.3L354.5,330L351.7,326.3Z" fill="#f7a6a6" stroke="#a45757" stroke-width="1.6" stroke-linejoin="miter"/>
<path d="M354,317.4H361.8M357.9,311.01V323.79" stroke="#a45757" stroke-width="1.2" fill="none"/>
<path d="M357.9,313.7L360.7,317.4L357.9,321.1L355.1,317.4Z" fill="#f7a6a6" stroke="#a45757" stroke-width="1.6" stroke-linejoin="miter"/>
<path d="M357.2,294.7H365M361.1,289.81V299.59" stroke="#a45757" stroke-width="1.2" fill="none"/>
<path d="M361.1,291L363.9,294.7L361.1,298.4L358.3,294.7Z" fill="#f7a6a6" stroke="#a45757" stroke-width="1.6" stroke-linejoin="miter"/>
<path d="M361.4,286H369.2M365.3,279.63V292.37" stroke="#a45757" stroke-width="1.2" fill="none"/>
<path d="M365.3,282.3L368.1,286L365.3,289.7L362.5,286Z" fill="#f7a6a6" stroke="#a45757" stroke-width="1.6" stroke-linejoin="miter"/>
<path d="M365.4,281.8H373.2M369.3,278.28V285.32" stroke="#a45757" stroke-width="1.2" fill="none"/>
<path d="M369.3,278.1L372.1,281.8L369.3,285.5L366.5,281.8Z" fill="#f7a6a6" stroke="#a45757" stroke-width="1.6" stroke-linejoin="miter"/>
<path d="M369.6,296.6H377.4M373.5,292.37V300.83" stroke="#a45757" stroke-width="1.2" fill="none"/>
<path d="M373.5,292.9L376.3,296.6L373.5,300.3L370.7,296.6Z" fill="#f7a6a6" stroke="#a45757" stroke-width="1.6" stroke-linejoin="miter"/>
<path d="M373.3,302.1H381.1M377.2,297.25V306.95" stroke="#a45757" stroke-width="1.2" fill="none"/>
<path d="M377.2,298.4L380,302.1L377.2,305.8L374.4,302.1Z" fill="#f7a6a6" stroke="#a45757" stroke-width="1.6" stroke-linejoin="miter"/>
<path d="M377,318.9H384.8M380.9,312.93V324.87" stroke="#a45757" stroke-width="1.2" fill="none"/>
<path d="M380.9,315.2L383.7,318.9L380.9,322.6L378.1,318.9Z" fill="#f7a6a6" stroke="#a45757" stroke-width="1.6" stroke-linejoin="miter"/>
<path d="M382.7,344.2H390.5M386.6,339.26V349.14" stroke="#a45757" stroke-width="1.2" fill="none"/>
<path d="M386.6,340.5L389.4,344.2L386.6,347.9L383.8,344.2Z" fill="#f7a6a6" stroke="#a45757" stroke-width="1.6" stroke-linejoin="miter"/>
<path d="M385.7,339.7H393.5M389.6,336.15V343.25" stroke="#a45757" stroke-width="1.2" fill="none"/>
<path d="M389.6,336L392.4,339.7L389.6,343.4L386.8,339.7Z" fill="#f7a6a6" stroke="#a45757" stroke-width="1.6" stroke-linejoin="miter"/>
<path d="M389.4,337.2H397.2M393.3,332.83V341.57" stroke="#a45757" stroke-width="1.2" fill="none"/>
<path d="M393.3,333.5L396.1,337.2L393.3,340.9L390.5,337.2Z" fill="#f7a6a6" stroke="#a45757" stroke-width="1.6" stroke-linejoin="miter"/>
<path d="M393.1,330.5H400.9M397,326.2V334.8" stroke="#a45757" stroke-width="1.2" fill="none"/>
<path d="M397,326.8L399.8,330.5L397,334.2L394.2,330.5Z" fill="#f7a6a6" stroke="#a45757" stroke-width="1.6" stroke-linejoin="miter"/>
<path d="M397.6,312H405.4M401.5,307.8V316.2" stroke="#a45757" stroke-width="1.2" fill="none"/>
<path d="M401.5,308.3L404.3,312L401.5,315.7L398.7,312Z" fill="#f7a6a6" stroke="#a45757" stroke-width="1.6" stroke-linejoin="miter"/>
<path d="M401.8,290.2H409.6M405.7,286.54V293.86" stroke="#a45757" stroke-width="1.2" fill="none"/>
<path d="M405.7,286.5L408.5,290.2L405.7,293.9L402.9,290.2Z" fill="#f7a6a6" stroke="#a45757" stroke-width="1.6" stroke-linejoin="miter"/>
<path d="M406,296.6H413.8M409.9,291.94V301.26" stroke="#a45757" stroke-width="1.2" fill="none"/>
<path d="M409.9,292.9L412.7,296.6L409.9,300.3L407.1,296.6Z" fill="#f7a6a6" stroke="#a45757" stroke-width="1.6" stroke-linejoin="miter"/>
<path d="M410,290.9H417.8M413.9,286.11V295.69" stroke="#a45757" stroke-width="1.2" fill="none"/>
<path d="M413.9,287.2L416.7,290.9L413.9,294.6L411.1,290.9Z" fill="#f7a6a6" stroke="#a45757" stroke-width="1.6" stroke-linejoin="miter"/>
<path d="M413.4,304.6H421.2M417.3,298.5V310.7" stroke="#a45757" stroke-width="1.2" fill="none"/>
<path d="M417.3,300.9L420.1,304.6L417.3,308.3L414.5,304.6Z" fill="#f7a6a6" stroke="#a45757" stroke-width="1.6" stroke-linejoin="miter"/>
<path d="M417.9,313.2H425.7M421.8,307.01V319.39" stroke="#a45757" stroke-width="1.2" fill="none"/>
<path d="M421.8,309.5L424.6,313.2L421.8,316.9L419,313.2Z" fill="#f7a6a6" stroke="#a45757" stroke-width="1.6" stroke-linejoin="miter"/>
<path d="M420.4,330.5H428.2M424.3,325.41V335.59" stroke="#a45757" stroke-width="1.2" fill="none"/>
<path d="M424.3,326.8L427.1,330.5L424.3,334.2L421.5,330.5Z" fill="#f7a6a6" stroke="#a45757" stroke-width="1.6" stroke-linejoin="miter"/>
<path d="M425.8,342.9H433.6M429.7,338.06V347.74" stroke="#a45757" stroke-width="1.2" fill="none"/>
<path d="M429.7,339.2L432.5,342.9L429.7,346.6L426.9,342.9Z" fill="#f7a6a6" stroke="#a45757" stroke-width="1.6" stroke-linejoin="miter"/>
<path d="M429.8,336.7H437.6M433.7,330.59V342.81" stroke="#a45757" stroke-width="1.2" fill="none"/>
<path d="M433.7,333L436.5,336.7L433.7,340.4L430.9,336.7Z" fill="#f7a6a6" stroke="#a45757" stroke-width="1.6" stroke-linejoin="miter"/>
<path d="M434,334.3H441.8M437.9,327.75V340.85" stroke="#a45757" stroke-width="1.2" fill="none"/>
<path d="M437.9,330.6L440.7,334.3L437.9,338L435.1,334.3Z" fill="#f7a6a6" stroke="#a45757" stroke-width="1.6" stroke-linejoin="miter"/>
<path d="M437.7,312.5H445.5M441.6,306.8V318.2" stroke="#a45757" stroke-width="1.2" fill="none"/>
<path d="M441.6,308.8L444.4,312.5L441.6,316.2L438.8,312.5Z" fill="#f7a6a6" stroke="#a45757" stroke-width="1.6" stroke-linejoin="miter"/>
</g>
<rect x="269.5" y="249.6" width="174.5" height="127.8" fill="none" stroke="#3c3c3c" stroke-width="0.8"/>
<line x1="269.5" y1="249.6" x2="271.4" y2="249.6" stroke="#3c3c3c" stroke-width="0.8" />
<line x1="444" y1="249.6" x2="442.1" y2="249.6" stroke="#3c3c3c" stroke-width="0.8" />
<line x1="269.5" y1="281.55" x2="271.4" y2="281.55" stroke="#3c3c3c" stroke-width="0.8" />
<line x1="444" y1="281.55" x2="442.1" y2="281.55" stroke="#3c3c3c" stroke-width="0.8" />
<line x1="269.5" y1="313.5" x2="271.4" y2="313.5" stroke="#3c3c3c" stroke-width="0.8" />
<line x1="444" y1="313.5" x2="442.1" y2="313.5" stroke="#3c3c3c" stroke-width="0.8" />
<line x1="269.5" y1="345.45" x2="271.4" y2="345.45" stroke="#3c3c3c" stroke-width="0.8" />
<line x1="444" y1="345.45" x2="442.1" y2="345.45" stroke="#3c3c3c" stroke-width="0.8" />
<line x1="269.5" y1="377.4" x2="271.4" y2="377.4" stroke="#3c3c3c" stroke-width="0.8" />
<line x1="444" y1="377.4" x2="442.1" y2="377.4" stroke="#3c3c3c" stroke-width="0.8" />
<line x1="301.8" y1="377.4" x2="301.8" y2="375.5" stroke="#3c3c3c" stroke-width="0.8" />
<line x1="337.33" y1="377.4" x2="337.33" y2="375.5" stroke="#3c3c3c" stroke-width="0.8" />
<line x1="372.86" y1="377.4" x2="372.86" y2="375.5" stroke="#3c3c3c" stroke-width="0.8" />
<line x1="408.39" y1="377.4" x2="408.39" y2="375.5" stroke="#3c3c3c" stroke-width="0.8" />
<line x1="443.92" y1="377.4" x2="443.92" y2="375.5" stroke="#3c3c3c" stroke-width="0.8" />
<line x1="301.8" y1="249.6" x2="301.8" y2="251.5" stroke="#3c3c3c" stroke-width="0.8" />
<line x1="337.33" y1="249.6" x2="337.33" y2="251.5" stroke="#3c3c3c" stroke-width="0.8" />
<line x1="372.86" y1="249.6" x2="372.86" y2="251.5" stroke="#3c3c3c" stroke-width="0.8" />
<line x1="408.39" y1="249.6" x2="408.39" y2="251.5" stroke="#3c3c3c" stroke-width="0.8" />
<line x1="443.92" y1="249.6" x2="443.92" y2="251.5" stroke="#3c3c3c" stroke-width="0.8" />
<text x="266.3" y="252.4" font-size="9.3" text-anchor="end" fill="#262626"  stroke="#262626" stroke-width="0.2">1</text>
<text x="266.3" y="284.35" font-size="9.3" text-anchor="end" fill="#262626"  stroke="#262626" stroke-width="0.2">0.5</text>
<text x="266.3" y="316.3" font-size="9.3" text-anchor="end" fill="#262626"  stroke="#262626" stroke-width="0.2">0</text>
<text x="266.3" y="348.25" font-size="9.3" text-anchor="end" fill="#262626"  stroke="#262626" stroke-width="0.2">-0.5</text>
<text x="266.3" y="380.2" font-size="9.3" text-anchor="end" fill="#262626"  stroke="#262626" stroke-width="0.2">-1</text>
<text x="301.8" y="388.3" font-size="9.3" text-anchor="middle" fill="#262626"  stroke="#262626" stroke-width="0.2">10.5</text>
<text x="337.33" y="388.3" font-size="9.3" text-anchor="middle" fill="#262626"  stroke="#262626" stroke-width="0.2">10.6</text>
<text x="372.86" y="388.3" font-size="9.3" text-anchor="middle" fill="#262626"  stroke="#262626" stroke-width="0.2">10.7</text>
<text x="408.39" y="388.3" font-size="9.3" text-anchor="middle" fill="#262626"  stroke="#262626" stroke-width="0.2">10.8</text>
<text x="443.92" y="388.3" font-size="9.3" text-anchor="middle" fill="#262626"  stroke="#262626" stroke-width="0.2">10.9</text>
<text x="301.8" y="246.8" font-size="9.3" text-anchor="middle" fill="#262626"  stroke="#262626" stroke-width="0.2">1.038</text>
<text x="337.33" y="246.8" font-size="9.3" text-anchor="middle" fill="#262626"  stroke="#262626" stroke-width="0.2">1.028</text>
<text x="372.86" y="246.8" font-size="9.3" text-anchor="middle" fill="#262626"  stroke="#262626" stroke-width="0.2">1.019</text>
<text x="408.39" y="246.8" font-size="9.3" text-anchor="middle" fill="#262626"  stroke="#262626" stroke-width="0.2">1.009</text>
<text x="443.92" y="246.8" font-size="9.3" text-anchor="middle" fill="#262626"  stroke="#262626" stroke-width="0.2">1.000</text>
<text font-size="9.4" fill="#262626" stroke="#262626" stroke-width="0.2"><tspan x="328.3" y="235.2">Force</tspan><tspan x="364.2" y="235.2">(</tspan><tspan x="367.4" y="235.2" font-style="italic">Mg</tspan><tspan x="380.5" y="235.2">)</tspan></text>
<path transform="translate(355.4,235.2)" d="M1.5,-5.5 C0.9,-5.9 1.2,-6.6 2.2,-6.6 C3.8,-6.7 5.5,-6.6 7.0,-6.8 M4.0,-6.5 C3.7,-4.4 3.2,-1.6 2.3,-0.6 C1.7,0.0 0.8,0.1 0.3,-0.4 M3.4,-3.6 L6.0,-3.7" fill="none" stroke="#262626" stroke-width="0.95" stroke-linecap="round"/>
<text font-size="9.4" fill="#262626" stroke="#262626" stroke-width="0.2"><tspan x="311.7" y="399.8">Bloch Period</tspan><tspan x="368.6" y="399.8" font-style="italic">T</tspan><tspan x="375.4" y="403.8" font-size="7.2">B</tspan><tspan x="382.6" y="399.8">(ms)</tspan></text>
<text transform="translate(247.3,339) rotate(-90)" font-size="9.4" fill="#262626" stroke="#262626" stroke-width="0.2"><tspan x="-0.5" y="0">Imbalance</tspan></text>
<path transform="translate(247.3,339) rotate(-90) translate(47.5,0)" d="M1.6,-5.4 C1.0,-5.8 1.1,-6.5 1.9,-6.6 C3.5,-6.7 5.2,-6.5 6.8,-6.7 M3.7,-6.5 C3.6,-4.2 3.4,-2.0 3.2,0 M0,0.05 C1.8,-0.1 3.8,0.1 5.4,-0.05 C6.0,-0.3 5.9,-0.9 5.4,-1.1" fill="none" stroke="#262626" stroke-width="0.95" stroke-linecap="round"/>
<rect x="269.3" y="210.5" width="173.9" height="14.6" fill="#fff" stroke="#4a4a4a" stroke-width="0.8"/>
<path d="M289.4,218.2H299.8M294.6,214.6V221.8" stroke="#a45757" stroke-width="1.2" fill="none"/>
<path d="M294.6,214.5L297.4,218.2L294.6,221.9L291.8,218.2Z" fill="#f7a6a6" stroke="#a45757" stroke-width="1.6"/>
<path d="M356.4,218.2H365.4M360.9,214.6V221.8" stroke="#2a2a2a" stroke-width="1.2" fill="none"/>
<rect x="358.6" y="215.9" width="4.6" height="4.6" fill="#3a3a3a" stroke="#1e1e1e" stroke-width="0.8"/>
<text x="308.4" y="220.7" font-size="7" fill="#262626" stroke="#262626" stroke-width="0.2"><tspan font-style="italic">PF</tspan>-<tspan font-style="italic">D</tspan> Loop</text>
<text x="375.9" y="220.7" font-size="7" fill="#262626" stroke="#262626" stroke-width="0.2"><tspan font-style="italic">P</tspan>-<tspan font-style="italic">D</tspan> Loop</text>
<clipPath id="c6"><rect x="503.2" y="250.3" width="176" height="127"/></clipPath>
<g clip-path="url(#c6)">
<polyline points="503.2,318.1 504.7,315.8 506.2,313.5 507.6,311.2 509.1,309 510.6,306.8 512.1,304.6 513.6,302.4 515,300.3 516.5,298.2 518,296.2 519.5,294.3 520.9,292.4 522.4,290.6 523.9,288.9 525.4,287.3 526.9,285.7 528.3,284.3 529.8,282.9 531.3,281.7 532.8,280.5 534.3,279.5 535.7,278.6 537.2,277.8 538.7,277.1 540.2,276.5 541.7,276.1 543.1,275.7 544.6,275.5 546.1,275.4 547.6,275.5 549,275.6 550.5,275.9 552,276.4 553.5,276.9 555,277.5 556.4,278.3 557.9,279.2 559.4,280.2 560.9,281.3 562.4,282.5 563.8,283.8 565.3,285.3 566.8,286.8 568.3,288.4 569.8,290.1 571.2,291.8 572.7,293.7 574.2,295.6 575.7,297.6 577.1,299.6 578.6,301.7 580.1,303.9 581.6,306 583.1,308.3 584.5,310.5 586,312.8 587.5,315 589,317.3 590.5,319.6 591.9,321.9 593.4,324.2 594.9,326.4 596.4,328.6 597.9,330.8 599.3,333 600.8,335.1 602.3,337.1 603.8,339.1 605.3,341.1 606.7,342.9 608.2,344.7 609.7,346.4 611.2,348 612.6,349.6 614.1,351 615.6,352.4 617.1,353.6 618.6,354.7 620,355.8 621.5,356.7 623,357.5 624.5,358.2 626,358.7 627.4,359.2 628.9,359.5 630.4,359.7 631.9,359.7 633.4,359.7 634.8,359.5 636.3,359.2 637.8,358.8 639.3,358.2 640.7,357.6 642.2,356.8 643.7,355.9 645.2,354.9 646.7,353.8 648.1,352.5 649.6,351.2 651.1,349.8 652.6,348.3 654.1,346.7 655.5,345 657,343.2 658.5,341.3 660,339.4 661.5,337.4 662.9,335.4 664.4,333.3 665.9,331.1 667.4,328.9 668.8,326.7 670.3,324.5 671.8,322.2 673.3,319.9 674.8,317.7 676.2,315.4 677.7,313.1 679.2,310.8" fill="none" stroke="#fbb061" stroke-width="1.4" stroke-linejoin="round" stroke-linecap="round" />
<polyline points="503.2,357.6 504.7,358.3 506.2,358.8 507.6,359.2 509.1,359.4 510.6,359.6 512.1,359.6 513.6,359.5 515,359.3 516.5,359 518,358.6 519.5,358 520.9,357.4 522.4,356.6 523.9,355.7 525.4,354.7 526.9,353.6 528.3,352.4 529.8,351.2 531.3,349.8 532.8,348.3 534.3,346.7 535.7,345.1 537.2,343.4 538.7,341.6 540.2,339.8 541.7,337.9 543.1,335.9 544.6,333.9 546.1,331.8 547.6,329.7 549,327.6 550.5,325.5 552,323.3 553.5,321.2 555,319 556.4,316.8 557.9,314.6 559.4,312.5 560.9,310.4 562.4,308.3 563.8,306.2 565.3,304.2 566.8,302.2 568.3,300.3 569.8,298.4 571.2,296.6 572.7,294.9 574.2,293.2 575.7,291.6 577.1,290.1 578.6,288.7 580.1,287.4 581.6,286.1 583.1,285 584.5,284 586,283 587.5,282.2 589,281.5 590.5,280.9 591.9,280.5 593.4,280.1 594.9,279.9 596.4,279.7 597.9,279.7 599.3,279.8 600.8,280.1 602.3,280.4 603.8,280.9 605.3,281.5 606.7,282.2 608.2,283 609.7,283.9 611.2,284.9 612.6,286 614.1,287.2 615.6,288.5 617.1,290 618.6,291.4 620,293 621.5,294.7 623,296.4 624.5,298.2 626,300.1 627.4,302 628.9,304 630.4,306 631.9,308.1 633.4,310.2 634.8,312.3 636.3,314.4 637.8,316.6 639.3,318.8 640.7,320.9 642.2,323.1 643.7,325.3 645.2,327.4 646.7,329.5 648.1,331.6 649.6,333.7 651.1,335.7 652.6,337.7 654.1,339.6 655.5,341.4 657,343.2 658.5,344.9 660,346.6 661.5,348.2 662.9,349.6 664.4,351 665.9,352.3 667.4,353.5 668.8,354.6 670.3,355.6 671.8,356.5 673.3,357.3 674.8,358 676.2,358.5 677.7,359 679.2,359.3" fill="none" stroke="#4b6790" stroke-width="1.5" stroke-linejoin="round" stroke-linecap="round" />
<polyline points="503.2,264.1 504.7,264.3 506.2,264.5 507.6,264.9 509.1,265.4 510.6,266 512.1,266.7 513.6,267.5 515,268.4 516.5,269.4 518,270.5 519.5,271.7 520.9,272.9 522.4,274.3 523.9,275.7 525.4,277.3 526.9,278.9 528.3,280.5 529.8,282.2 531.3,284 532.8,285.9 534.3,287.8 535.7,289.7 537.2,291.7 538.7,293.7 540.2,295.8 541.7,297.9 543.1,300 544.6,302.1 546.1,304.3 547.6,306.4 549,308.5 550.5,310.7 552,312.8 553.5,314.9 555,317 556.4,319 557.9,321.1 559.4,323 560.9,325 562.4,326.9 563.8,328.7 565.3,330.5 566.8,332.2 568.3,333.9 569.8,335.5 571.2,337 572.7,338.4 574.2,339.8 575.7,341.1 577.1,342.2 578.6,343.3 580.1,344.3 581.6,345.2 583.1,346 584.5,346.7 586,347.3 587.5,347.8 589,348.1 590.5,348.4 591.9,348.6 593.4,348.6 594.9,348.6 596.4,348.4 597.9,348.2 599.3,347.8 600.8,347.3 602.3,346.7 603.8,346 605.3,345.2 606.7,344.3 608.2,343.4 609.7,342.3 611.2,341.1 612.6,339.8 614.1,338.5 615.6,337.1 617.1,335.5 618.6,334 620,332.3 621.5,330.6 623,328.8 624.5,327 626,325.1 627.4,323.1 628.9,321.1 630.4,319.1 631.9,317.1 633.4,315 634.8,312.9 636.3,310.7 637.8,308.6 639.3,306.5 640.7,304.3 642.2,302.2 643.7,300.1 645.2,298 646.7,295.9 648.1,293.8 649.6,291.8 651.1,289.8 652.6,287.8 654.1,285.9 655.5,284.1 657,282.3 658.5,280.6 660,278.9 661.5,277.3 662.9,275.8 664.4,274.4 665.9,273 667.4,271.7 668.8,270.5 670.3,269.4 671.8,268.4 673.3,267.5 674.8,266.7 676.2,266 677.7,265.4 679.2,264.9" fill="none" stroke="#8a3434" stroke-width="1.5" stroke-linejoin="round" stroke-linecap="round" />
</g><g>
<path d="M503.2,318.8V327.2" stroke="#a8641a" stroke-width="1.1"/>
<path d="M511.8,296.5V304.9" stroke="#a8641a" stroke-width="1.1"/>
<path d="M520.5,285.8V294.2" stroke="#a8641a" stroke-width="1.1"/>
<path d="M529.7,282.9V291.3" stroke="#a8641a" stroke-width="1.1"/>
<path d="M538.3,271.7V280.1" stroke="#a8641a" stroke-width="1.1"/>
<path d="M547,268.8V277.2" stroke="#a8641a" stroke-width="1.1"/>
<path d="M555.6,275V283.4" stroke="#a8641a" stroke-width="1.1"/>
<path d="M564.8,282.9V291.3" stroke="#a8641a" stroke-width="1.1"/>
<path d="M573.7,288.6V297" stroke="#a8641a" stroke-width="1.1"/>
<path d="M582.1,307V315.4" stroke="#a8641a" stroke-width="1.1"/>
<path d="M590.7,314.5V322.9" stroke="#a8641a" stroke-width="1.1"/>
<path d="M599.6,326.8V335.2" stroke="#a8641a" stroke-width="1.1"/>
<path d="M608.5,341.6V350" stroke="#a8641a" stroke-width="1.1"/>
<path d="M617.2,347.3V355.7" stroke="#a8641a" stroke-width="1.1"/>
<path d="M625.8,355.2V363.6" stroke="#a8641a" stroke-width="1.1"/>
<path d="M635,354.7V363.1" stroke="#a8641a" stroke-width="1.1"/>
<path d="M643.9,352.2V360.6" stroke="#a8641a" stroke-width="1.1"/>
<path d="M652.3,345.8V354.2" stroke="#a8641a" stroke-width="1.1"/>
<path d="M661.2,334.6V343" stroke="#a8641a" stroke-width="1.1"/>
<path d="M670.4,318.1V326.5" stroke="#a8641a" stroke-width="1.1"/>
<path d="M503.2,259.8V267.4" stroke="#3c0a0a" stroke-width="1.1"/>
<path d="M511.8,262.7V270.3" stroke="#3c0a0a" stroke-width="1.1"/>
<path d="M520.5,266.7V274.3" stroke="#3c0a0a" stroke-width="1.1"/>
<path d="M529.7,277.1V284.7" stroke="#3c0a0a" stroke-width="1.1"/>
<path d="M538.3,290.7V298.3" stroke="#3c0a0a" stroke-width="1.1"/>
<path d="M547,300.1V307.7" stroke="#3c0a0a" stroke-width="1.1"/>
<path d="M555.6,314.2V321.8" stroke="#3c0a0a" stroke-width="1.1"/>
<path d="M564.8,325.4V333" stroke="#3c0a0a" stroke-width="1.1"/>
<path d="M573.7,340.5V348.1" stroke="#3c0a0a" stroke-width="1.1"/>
<path d="M582.1,340.8V348.4" stroke="#3c0a0a" stroke-width="1.1"/>
<path d="M590.7,345.2V352.8" stroke="#3c0a0a" stroke-width="1.1"/>
<path d="M599.4,344.5V352.1" stroke="#3c0a0a" stroke-width="1.1"/>
<path d="M608.5,338V345.6" stroke="#3c0a0a" stroke-width="1.1"/>
<path d="M617.2,331V338.6" stroke="#3c0a0a" stroke-width="1.1"/>
<path d="M625.8,317.9V325.5" stroke="#3c0a0a" stroke-width="1.1"/>
<path d="M635,310V317.6" stroke="#3c0a0a" stroke-width="1.1"/>
<path d="M643.9,293.2V300.8" stroke="#3c0a0a" stroke-width="1.1"/>
<path d="M652.3,289.5V297.1" stroke="#3c0a0a" stroke-width="1.1"/>
<path d="M661.2,273.9V281.5" stroke="#3c0a0a" stroke-width="1.1"/>
<path d="M670.4,267.2V274.8" stroke="#3c0a0a" stroke-width="1.1"/>
<path d="M503.2,353.8V362.6" stroke="#13233e" stroke-width="1.1"/>
<path d="M511.8,358.7V367.5" stroke="#13233e" stroke-width="1.1"/>
<path d="M520.5,353.8V362.6" stroke="#13233e" stroke-width="1.1"/>
<path d="M529.7,344.6V353.4" stroke="#13233e" stroke-width="1.1"/>
<path d="M538.3,337.4V346.2" stroke="#13233e" stroke-width="1.1"/>
<path d="M547,326.3V335.1" stroke="#13233e" stroke-width="1.1"/>
<path d="M555.6,313.3V322.1" stroke="#13233e" stroke-width="1.1"/>
<path d="M564.8,306.5V315.3" stroke="#13233e" stroke-width="1.1"/>
<path d="M573.7,288.1V296.9" stroke="#13233e" stroke-width="1.1"/>
<path d="M582.1,279.7V288.5" stroke="#13233e" stroke-width="1.1"/>
<path d="M590.6,276.8V285.6" stroke="#13233e" stroke-width="1.1"/>
<path d="M599.9,272.2V281" stroke="#13233e" stroke-width="1.1"/>
<path d="M608.5,274V282.8" stroke="#13233e" stroke-width="1.1"/>
<path d="M617.2,290.1V298.9" stroke="#13233e" stroke-width="1.1"/>
<path d="M625.8,297.3V306.1" stroke="#13233e" stroke-width="1.1"/>
<path d="M635,308.2V317" stroke="#13233e" stroke-width="1.1"/>
<path d="M643.9,327.2V336" stroke="#13233e" stroke-width="1.1"/>
<path d="M652.3,329.5V338.3" stroke="#13233e" stroke-width="1.1"/>
<path d="M661.2,341.5V350.3" stroke="#13233e" stroke-width="1.1"/>
<path d="M670.4,347.1V355.9" stroke="#13233e" stroke-width="1.1"/>
<rect x="500.7" y="320.5" width="5" height="5" fill="#f0a046" stroke="#a8641a" stroke-width="1.2"/>
<rect x="509.3" y="298.2" width="5" height="5" fill="#f0a046" stroke="#a8641a" stroke-width="1.2"/>
<rect x="518" y="287.5" width="5" height="5" fill="#f0a046" stroke="#a8641a" stroke-width="1.2"/>
<rect x="527.2" y="284.6" width="5" height="5" fill="#f0a046" stroke="#a8641a" stroke-width="1.2"/>
<rect x="535.8" y="273.4" width="5" height="5" fill="#f0a046" stroke="#a8641a" stroke-width="1.2"/>
<rect x="544.5" y="270.5" width="5" height="5" fill="#f0a046" stroke="#a8641a" stroke-width="1.2"/>
<rect x="553.1" y="276.7" width="5" height="5" fill="#f0a046" stroke="#a8641a" stroke-width="1.2"/>
<rect x="562.3" y="284.6" width="5" height="5" fill="#f0a046" stroke="#a8641a" stroke-width="1.2"/>
<rect x="571.2" y="290.3" width="5" height="5" fill="#f0a046" stroke="#a8641a" stroke-width="1.2"/>
<rect x="579.6" y="308.7" width="5" height="5" fill="#f0a046" stroke="#a8641a" stroke-width="1.2"/>
<rect x="588.2" y="316.2" width="5" height="5" fill="#f0a046" stroke="#a8641a" stroke-width="1.2"/>
<rect x="597.1" y="328.5" width="5" height="5" fill="#f0a046" stroke="#a8641a" stroke-width="1.2"/>
<rect x="606" y="343.3" width="5" height="5" fill="#f0a046" stroke="#a8641a" stroke-width="1.2"/>
<rect x="614.7" y="349" width="5" height="5" fill="#f0a046" stroke="#a8641a" stroke-width="1.2"/>
<rect x="623.3" y="356.9" width="5" height="5" fill="#f0a046" stroke="#a8641a" stroke-width="1.2"/>
<rect x="632.5" y="356.4" width="5" height="5" fill="#f0a046" stroke="#a8641a" stroke-width="1.2"/>
<rect x="641.4" y="353.9" width="5" height="5" fill="#f0a046" stroke="#a8641a" stroke-width="1.2"/>
<rect x="649.8" y="347.5" width="5" height="5" fill="#f0a046" stroke="#a8641a" stroke-width="1.2"/>
<rect x="658.7" y="336.3" width="5" height="5" fill="#f0a046" stroke="#a8641a" stroke-width="1.2"/>
<rect x="667.9" y="319.8" width="5" height="5" fill="#f0a046" stroke="#a8641a" stroke-width="1.2"/>
<path d="M503.2,354.1L506.4,358.2L503.2,362.3L500,358.2Z" fill="#2b4a78" stroke="#13233e" stroke-width="1.0"/>
<path d="M511.8,359L515,363.1L511.8,367.2L508.6,363.1Z" fill="#2b4a78" stroke="#13233e" stroke-width="1.0"/>
<path d="M520.5,354.1L523.7,358.2L520.5,362.3L517.3,358.2Z" fill="#2b4a78" stroke="#13233e" stroke-width="1.0"/>
<path d="M529.7,344.9L532.9,349L529.7,353.1L526.5,349Z" fill="#2b4a78" stroke="#13233e" stroke-width="1.0"/>
<path d="M538.3,337.7L541.5,341.8L538.3,345.9L535.1,341.8Z" fill="#2b4a78" stroke="#13233e" stroke-width="1.0"/>
<path d="M547,326.6L550.2,330.7L547,334.8L543.8,330.7Z" fill="#2b4a78" stroke="#13233e" stroke-width="1.0"/>
<path d="M555.6,313.6L558.8,317.7L555.6,321.8L552.4,317.7Z" fill="#2b4a78" stroke="#13233e" stroke-width="1.0"/>
<path d="M564.8,306.8L568,310.9L564.8,315L561.6,310.9Z" fill="#2b4a78" stroke="#13233e" stroke-width="1.0"/>
<path d="M573.7,288.4L576.9,292.5L573.7,296.6L570.5,292.5Z" fill="#2b4a78" stroke="#13233e" stroke-width="1.0"/>
<path d="M582.1,280L585.3,284.1L582.1,288.2L578.9,284.1Z" fill="#2b4a78" stroke="#13233e" stroke-width="1.0"/>
<path d="M590.6,277.1L593.8,281.2L590.6,285.3L587.4,281.2Z" fill="#2b4a78" stroke="#13233e" stroke-width="1.0"/>
<path d="M599.9,272.5L603.1,276.6L599.9,280.7L596.7,276.6Z" fill="#2b4a78" stroke="#13233e" stroke-width="1.0"/>
<path d="M608.5,274.3L611.7,278.4L608.5,282.5L605.3,278.4Z" fill="#2b4a78" stroke="#13233e" stroke-width="1.0"/>
<path d="M617.2,290.4L620.4,294.5L617.2,298.6L614,294.5Z" fill="#2b4a78" stroke="#13233e" stroke-width="1.0"/>
<path d="M625.8,297.6L629,301.7L625.8,305.8L622.6,301.7Z" fill="#2b4a78" stroke="#13233e" stroke-width="1.0"/>
<path d="M635,308.5L638.2,312.6L635,316.7L631.8,312.6Z" fill="#2b4a78" stroke="#13233e" stroke-width="1.0"/>
<path d="M643.9,327.5L647.1,331.6L643.9,335.7L640.7,331.6Z" fill="#2b4a78" stroke="#13233e" stroke-width="1.0"/>
<path d="M652.3,329.8L655.5,333.9L652.3,338L649.1,333.9Z" fill="#2b4a78" stroke="#13233e" stroke-width="1.0"/>
<path d="M661.2,341.8L664.4,345.9L661.2,350L658,345.9Z" fill="#2b4a78" stroke="#13233e" stroke-width="1.0"/>
<path d="M670.4,347.4L673.6,351.5L670.4,355.6L667.2,351.5Z" fill="#2b4a78" stroke="#13233e" stroke-width="1.0"/>
<circle cx="503.2" cy="263.6" r="2.75" fill="#741818" stroke="#3c0a0a" stroke-width="0.9"/>
<circle cx="511.8" cy="266.5" r="2.75" fill="#741818" stroke="#3c0a0a" stroke-width="0.9"/>
<circle cx="520.5" cy="270.5" r="2.75" fill="#741818" stroke="#3c0a0a" stroke-width="0.9"/>
<circle cx="529.7" cy="280.9" r="2.75" fill="#741818" stroke="#3c0a0a" stroke-width="0.9"/>
<circle cx="538.3" cy="294.5" r="2.75" fill="#741818" stroke="#3c0a0a" stroke-width="0.9"/>
<circle cx="547" cy="303.9" r="2.75" fill="#741818" stroke="#3c0a0a" stroke-width="0.9"/>
<circle cx="555.6" cy="318" r="2.75" fill="#741818" stroke="#3c0a0a" stroke-width="0.9"/>
<circle cx="564.8" cy="329.2" r="2.75" fill="#741818" stroke="#3c0a0a" stroke-width="0.9"/>
<circle cx="573.7" cy="344.3" r="2.75" fill="#741818" stroke="#3c0a0a" stroke-width="0.9"/>
<circle cx="582.1" cy="344.6" r="2.75" fill="#741818" stroke="#3c0a0a" stroke-width="0.9"/>
<circle cx="590.7" cy="349" r="2.75" fill="#741818" stroke="#3c0a0a" stroke-width="0.9"/>
<circle cx="599.4" cy="348.3" r="2.75" fill="#741818" stroke="#3c0a0a" stroke-width="0.9"/>
<circle cx="608.5" cy="341.8" r="2.75" fill="#741818" stroke="#3c0a0a" stroke-width="0.9"/>
<circle cx="617.2" cy="334.8" r="2.75" fill="#741818" stroke="#3c0a0a" stroke-width="0.9"/>
<circle cx="625.8" cy="321.7" r="2.75" fill="#741818" stroke="#3c0a0a" stroke-width="0.9"/>
<circle cx="635" cy="313.8" r="2.75" fill="#741818" stroke="#3c0a0a" stroke-width="0.9"/>
<circle cx="643.9" cy="297" r="2.75" fill="#741818" stroke="#3c0a0a" stroke-width="0.9"/>
<circle cx="652.3" cy="293.3" r="2.75" fill="#741818" stroke="#3c0a0a" stroke-width="0.9"/>
<circle cx="661.2" cy="277.7" r="2.75" fill="#741818" stroke="#3c0a0a" stroke-width="0.9"/>
<circle cx="670.4" cy="271" r="2.75" fill="#741818" stroke="#3c0a0a" stroke-width="0.9"/>
</g>
<rect x="503.2" y="250.3" width="176" height="127" fill="none" stroke="#3c3c3c" stroke-width="0.8"/>
<line x1="503.2" y1="250.3" x2="505.1" y2="250.3" stroke="#3c3c3c" stroke-width="0.8" />
<line x1="679.2" y1="250.3" x2="677.3" y2="250.3" stroke="#3c3c3c" stroke-width="0.8" />
<line x1="503.2" y1="282.05" x2="505.1" y2="282.05" stroke="#3c3c3c" stroke-width="0.8" />
<line x1="679.2" y1="282.05" x2="677.3" y2="282.05" stroke="#3c3c3c" stroke-width="0.8" />
<line x1="503.2" y1="313.8" x2="505.1" y2="313.8" stroke="#3c3c3c" stroke-width="0.8" />
<line x1="679.2" y1="313.8" x2="677.3" y2="313.8" stroke="#3c3c3c" stroke-width="0.8" />
<line x1="503.2" y1="345.55" x2="505.1" y2="345.55" stroke="#3c3c3c" stroke-width="0.8" />
<line x1="679.2" y1="345.55" x2="677.3" y2="345.55" stroke="#3c3c3c" stroke-width="0.8" />
<line x1="503.2" y1="377.3" x2="505.1" y2="377.3" stroke="#3c3c3c" stroke-width="0.8" />
<line x1="679.2" y1="377.3" x2="677.3" y2="377.3" stroke="#3c3c3c" stroke-width="0.8" />
<line x1="503.2" y1="377.3" x2="503.2" y2="375.4" stroke="#3c3c3c" stroke-width="0.8" />
<line x1="547.2" y1="377.3" x2="547.2" y2="375.4" stroke="#3c3c3c" stroke-width="0.8" />
<line x1="591.2" y1="377.3" x2="591.2" y2="375.4" stroke="#3c3c3c" stroke-width="0.8" />
<line x1="635.2" y1="377.3" x2="635.2" y2="375.4" stroke="#3c3c3c" stroke-width="0.8" />
<line x1="679.2" y1="377.3" x2="679.2" y2="375.4" stroke="#3c3c3c" stroke-width="0.8" />
<line x1="503.2" y1="250.3" x2="503.2" y2="252.2" stroke="#3c3c3c" stroke-width="0.8" />
<line x1="547.2" y1="250.3" x2="547.2" y2="252.2" stroke="#3c3c3c" stroke-width="0.8" />
<line x1="591.2" y1="250.3" x2="591.2" y2="252.2" stroke="#3c3c3c" stroke-width="0.8" />
<line x1="635.2" y1="250.3" x2="635.2" y2="252.2" stroke="#3c3c3c" stroke-width="0.8" />
<line x1="679.2" y1="250.3" x2="679.2" y2="252.2" stroke="#3c3c3c" stroke-width="0.8" />
<text x="500" y="253.1" font-size="9.3" text-anchor="end" fill="#262626"  stroke="#262626" stroke-width="0.2">1</text>
<text x="500" y="284.85" font-size="9.3" text-anchor="end" fill="#262626"  stroke="#262626" stroke-width="0.2">0.5</text>
<text x="500" y="316.6" font-size="9.3" text-anchor="end" fill="#262626"  stroke="#262626" stroke-width="0.2">0</text>
<text x="500" y="348.35" font-size="9.3" text-anchor="end" fill="#262626"  stroke="#262626" stroke-width="0.2">-0.5</text>
<text x="500" y="380.1" font-size="9.3" text-anchor="end" fill="#262626"  stroke="#262626" stroke-width="0.2">-1</text>
<text x="503.2" y="388.3" font-size="9.3" text-anchor="middle" fill="#262626"  stroke="#262626" stroke-width="0.2">0</text>
<text x="547.2" y="388.3" font-size="9.3" text-anchor="middle" fill="#262626"  stroke="#262626" stroke-width="0.2"><tspan font-style="italic">π</tspan>/2</text>
<text x="591.2" y="388.3" font-size="9.3" text-anchor="middle" fill="#262626"  stroke="#262626" stroke-width="0.2"><tspan font-style="italic">π</tspan></text>
<text x="635.2" y="388.3" font-size="9.3" text-anchor="middle" fill="#262626"  stroke="#262626" stroke-width="0.2">3<tspan dx="1.5" font-style="italic">π</tspan>/2</text>
<text x="679.2" y="388.3" font-size="9.3" text-anchor="middle" fill="#262626"  stroke="#262626" stroke-width="0.2">2<tspan dx="1.5" font-style="italic">π</tspan></text>
<text font-size="9.4" fill="#262626" stroke="#262626" stroke-width="0.2"><tspan x="540.5" y="399.8" font-size="9.6">Modulation Phase</tspan><tspan x="619.8" y="399.8" font-style="italic">ϕ</tspan><tspan x="626.3" y="403.5" font-size="7.5">Mod</tspan></text>
<text transform="translate(481.1,339.3) rotate(-90)" font-size="9.4" fill="#262626" stroke="#262626" stroke-width="0.2"><tspan x="-0.5" y="0">Imbalance</tspan></text>
<path transform="translate(481.1,339.3) rotate(-90) translate(48.3,0)" d="M1.6,-5.4 C1.0,-5.8 1.1,-6.5 1.9,-6.6 C3.5,-6.7 5.2,-6.5 6.8,-6.7 M3.7,-6.5 C3.6,-4.2 3.4,-2.0 3.2,0 M0,0.05 C1.8,-0.1 3.8,0.1 5.4,-0.05 C6.0,-0.3 5.9,-0.9 5.4,-1.1" fill="none" stroke="#262626" stroke-width="0.95" stroke-linecap="round"/>
<rect x="505.1" y="221.9" width="173" height="19.4" fill="#fff" stroke="#4a4a4a" stroke-width="0.8"/>
<path d="M511.4,226.4V236.4" stroke="#3c0a0a" stroke-width="1.2"/>
<circle cx="511.4" cy="231.4" r="3.2" fill="#741818" stroke="#3c0a0a" stroke-width="0.9"/>
<path d="M567.9,226.4V236.4" stroke="#a8641a" stroke-width="1.2"/>
<rect x="565.2" y="228.7" width="5.4" height="5.4" fill="#f0a046" stroke="#a8641a" stroke-width="1.2"/>
<path d="M625.1,226.4V236.4" stroke="#13233e" stroke-width="1.2"/>
<path d="M625.1,226.8L628.4,231.4L625.1,236L621.8,231.4Z" fill="#2b4a78" stroke="#13233e" stroke-width="1.0"/>
<text font-size="7.2" fill="#262626" stroke="#262626" stroke-width="0.2"><tspan x="517" y="233.8" font-style="italic">T</tspan><tspan x="521.4" y="236.0" font-size="5.6">B</tspan><tspan x="525.3" y="233.8">=10.48 ms</tspan></text>
<text font-size="7.2" fill="#262626" stroke="#262626" stroke-width="0.2"><tspan x="573.7" y="233.8" font-style="italic">T</tspan><tspan x="578.1" y="236.0" font-size="5.6">B</tspan><tspan x="582" y="233.8">=10.56 ms</tspan></text>
<text font-size="7.2" fill="#262626" stroke="#262626" stroke-width="0.2"><tspan x="630.9" y="233.8" font-style="italic">T</tspan><tspan x="635.3" y="236.0" font-size="5.6">B</tspan><tspan x="639.2" y="233.8">=10.67 ms</tspan></text>
</svg>
</body></html>
